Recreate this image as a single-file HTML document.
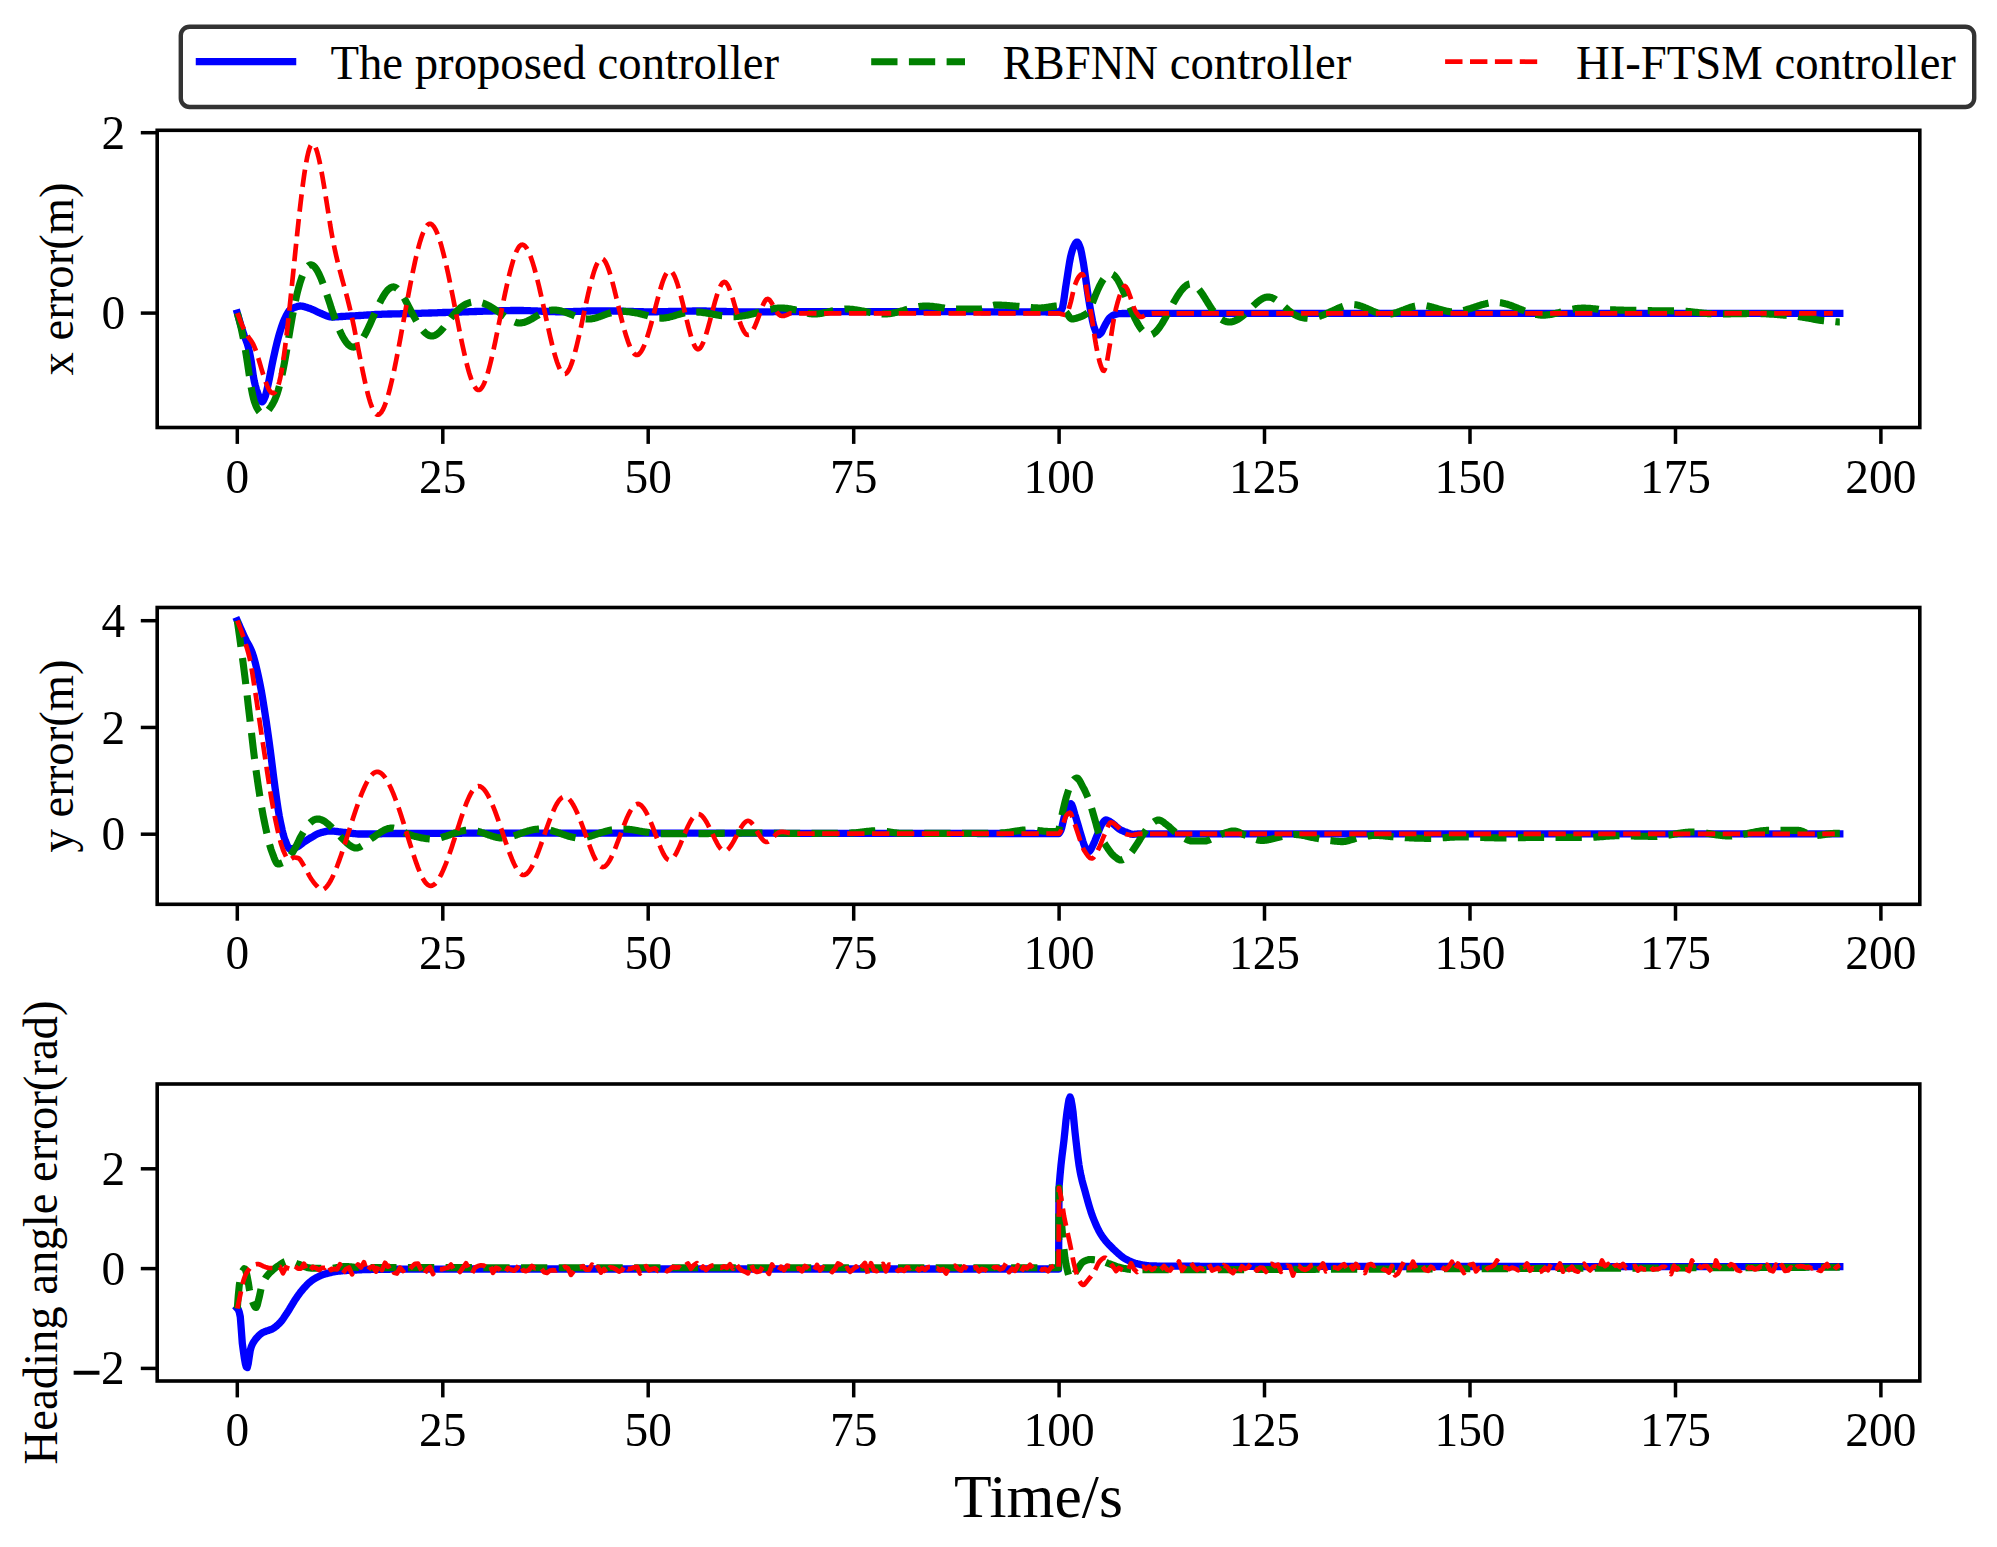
<!DOCTYPE html>
<html lang="en"><head><meta charset="utf-8"><title>Tracking errors</title>
<style>
html,body{margin:0;padding:0;background:#fff}
svg{display:block}
text{font-family:"Liberation Serif","Times New Roman",serif;fill:#000}
.t{font-size:47.4px}
.y{font-size:46.7px}
.mn{font-size:53px;stroke:#000;stroke-width:1.2}
.xl{font-size:61.6px}
.b{fill:none;stroke:#0000ff;stroke-width:7.3;stroke-linejoin:round;stroke-linecap:square}
.g{fill:none;stroke:#008000;stroke-width:7.1;stroke-linejoin:round;stroke-dasharray:26.3 11.4}
.r{fill:none;stroke:#ff0000;stroke-width:4.7;stroke-linejoin:round;stroke-dasharray:17.4 7.5}
.sp{fill:none;stroke:#000;stroke-width:3.6;stroke-linejoin:miter}
.tk{stroke:#000;stroke-width:3.5}
</style></head>
<body>
<svg width="1997" height="1547" viewBox="0 0 1997 1547">
<rect width="1997" height="1547" fill="#fff"/>
<defs>
<clipPath id="c0"><rect x="157.2" y="130.3" width="1762.6" height="297.2"/></clipPath>
<clipPath id="c1"><rect x="157.2" y="607.5" width="1762.6" height="296.8"/></clipPath>
<clipPath id="c2"><rect x="157.2" y="1084.0" width="1762.6" height="297.0"/></clipPath>
</defs>
<g id="ax0">
<g clip-path="url(#c0)">
<path class="b" d="M237.3 313.1L238.3 316.6L239.3 320.1L240.3 323.4L241.3 326.7L242.3 329.8L243.3 332.9L244.3 335.8L245.3 338.5L246.3 341.0L247.3 343.7L248.3 347.1L249.3 351.3L250.3 356.2L251.3 361.7L252.3 368.7L253.3 375.9L254.3 381.3L255.3 385.4L256.3 389.0L257.3 392.1L258.3 394.7L259.3 397.4L260.3 399.9L261.3 401.6L262.3 401.9L263.3 400.8L264.3 398.7L265.3 396.3L266.3 392.7L267.3 388.3L268.3 383.8L269.3 379.0L270.3 373.8L271.3 368.6L272.3 363.5L273.3 358.8L274.3 354.3L275.3 349.8L276.3 345.5L277.3 341.4L278.3 337.6L279.3 334.1L280.3 330.8L281.3 327.7L282.3 324.8L283.3 322.0L284.3 319.6L285.3 317.5L286.3 315.5L287.3 313.6L288.3 312.0L289.2 310.7L290.2 309.8L291.2 309.1L292.2 308.5L293.2 308.0L294.2 307.6L295.2 307.3L296.2 306.9L297.2 306.6L298.2 306.3L299.2 306.1L300.2 306.0L301.2 306.1L302.2 306.2L303.2 306.4L304.2 306.6L305.2 306.9L306.2 307.2L307.2 307.6L308.2 307.9L309.2 308.2L310.2 308.6L311.2 308.9L312.2 309.4L313.2 309.8L314.2 310.3L315.2 310.8L316.2 311.3L317.2 311.8L318.2 312.2L319.2 312.7L320.2 313.1L321.2 313.5L322.2 313.9L323.2 314.4L324.2 314.8L325.2 315.3L326.2 315.7L327.2 316.0L328.2 316.4L329.2 316.6L330.2 316.8L331.2 317.0L332.2 317.0L333.2 317.0L334.2 317.0L335.2 316.9L336.2 316.9L337.2 316.8L338.2 316.8L339.2 316.7L340.2 316.6L341.2 316.5L342.2 316.5L343.2 316.4L344.2 316.3L345.2 316.3L346.2 316.2L347.2 316.2L348.2 316.1L349.2 316.1L350.2 316.0L351.2 316.0L352.2 315.9L353.2 315.9L354.2 315.8L355.2 315.8L356.2 315.7L357.2 315.7L358.2 315.6L359.2 315.5L360.2 315.5L361.2 315.4L362.2 315.4L363.2 315.3L364.2 315.2L365.2 315.2L366.2 315.1L367.2 315.0L368.2 315.0L369.2 314.9L370.2 314.8L371.2 314.8L372.2 314.7L373.2 314.6L374.2 314.6L375.2 314.5L376.2 314.5L377.2 314.4L378.2 314.4L379.2 314.3L380.2 314.3L381.2 314.3L382.2 314.2L383.2 314.2L384.2 314.2L385.2 314.1L386.2 314.1L387.2 314.1L388.2 314.0L389.2 314.0L390.2 314.0L391.2 314.0L392.1 313.9L393.1 313.9L394.1 313.9L395.1 313.9L396.1 313.8L397.1 313.8L398.1 313.8L399.1 313.8L400.1 313.8L401.1 313.7L402.1 313.7L403.1 313.7L404.1 313.7L405.1 313.6L406.1 313.6L407.1 313.6L408.1 313.6L409.1 313.6L410.1 313.5L411.1 313.5L412.1 313.5L413.1 313.5L414.1 313.5L415.1 313.4L416.1 313.4L417.1 313.4L418.1 313.4L419.1 313.3L420.1 313.3L421.1 313.3L422.1 313.2L423.1 313.2L424.1 313.2L425.1 313.1L426.1 313.1L427.1 313.1L428.1 313.1L429.1 313.0L430.1 313.0L431.1 313.0L432.1 312.9L433.1 312.9L434.1 312.9L435.1 312.8L436.1 312.8L437.1 312.8L438.1 312.7L439.1 312.7L440.1 312.6L441.1 312.6L442.1 312.6L443.1 312.5L444.1 312.5L445.1 312.5L446.1 312.4L447.1 312.4L448.1 312.4L449.1 312.3L450.1 312.3L451.1 312.3L452.1 312.2L453.1 312.2L454.1 312.2L455.1 312.1L456.1 312.1L457.1 312.1L458.1 312.1L459.1 312.0L460.1 312.0L461.1 312.0L462.1 311.9L463.1 311.9L464.1 311.9L465.1 311.8L466.1 311.8L467.1 311.8L468.1 311.8L469.1 311.7L470.1 311.7L471.1 311.7L472.1 311.6L473.1 311.6L474.1 311.6L475.1 311.5L476.1 311.5L477.1 311.4L478.1 311.4L479.1 311.4L480.1 311.3L481.1 311.3L482.1 311.3L483.1 311.2L484.1 311.2L485.1 311.2L486.1 311.1L487.1 311.1L488.1 311.1L489.1 311.1L490.1 311.0L491.1 311.0L492.1 311.0L493.1 310.9L494.1 310.9L495.0 310.9L496.0 310.8L497.0 310.8L498.0 310.8L499.0 310.8L500.0 310.7L501.0 310.7L502.0 310.7L503.0 310.7L504.0 310.7L505.0 310.6L506.0 310.6L507.0 310.6L508.0 310.6L509.0 310.6L510.0 310.6L511.0 310.5L512.0 310.5L513.0 310.5L514.0 310.5L515.0 310.5L516.0 310.5L517.0 310.5L518.0 310.5L519.0 310.5L520.0 310.5L521.0 310.5L522.0 310.5L523.0 310.5L524.0 310.6L525.0 310.6L526.0 310.6L527.0 310.6L528.0 310.7L529.0 310.7L530.0 310.7L531.0 310.8L532.0 310.8L533.0 310.9L534.0 310.9L535.0 310.9L536.0 311.0L537.0 311.0L538.0 311.1L539.0 311.1L540.0 311.2L541.0 311.2L542.0 311.3L543.0 311.3L544.0 311.4L545.0 311.4L546.0 311.4L547.0 311.5L548.0 311.5L549.0 311.6L550.0 311.6L551.0 311.6L552.0 311.7L553.0 311.7L554.0 311.7L555.0 311.7L556.0 311.8L557.0 311.8L558.0 311.8L559.0 311.8L560.0 311.8L561.0 311.8L562.0 311.8L563.0 311.8L564.0 311.8L565.0 311.8L566.0 311.7L567.0 311.7L568.0 311.7L569.0 311.7L570.0 311.6L571.0 311.6L572.0 311.6L573.0 311.6L574.0 311.5L575.0 311.5L576.0 311.4L577.0 311.4L578.0 311.4L579.0 311.3L580.0 311.3L581.0 311.3L582.0 311.2L583.0 311.2L584.0 311.2L585.0 311.1L586.0 311.1L587.0 311.0L588.0 311.0L589.0 311.0L590.0 311.0L591.0 310.9L592.0 310.9L593.0 310.9L594.0 310.9L595.0 310.8L596.0 310.8L597.0 310.8L597.9 310.8L598.9 310.8L599.9 310.8L600.9 310.8L601.9 310.8L602.9 310.8L603.9 310.8L604.9 310.8L605.9 310.8L606.9 310.9L607.9 310.9L608.9 310.9L609.9 310.9L610.9 310.9L611.9 310.9L612.9 311.0L613.9 311.0L614.9 311.0L615.9 311.0L616.9 311.1L617.9 311.1L618.9 311.1L619.9 311.1L620.9 311.2L621.9 311.2L622.9 311.2L623.9 311.3L624.9 311.3L625.9 311.3L626.9 311.4L627.9 311.4L628.9 311.4L629.9 311.4L630.9 311.5L631.9 311.5L632.9 311.5L633.9 311.6L634.9 311.6L635.9 311.6L636.9 311.6L637.9 311.7L638.9 311.7L639.9 311.7L640.9 311.7L641.9 311.7L642.9 311.7L643.9 311.8L644.9 311.8L645.9 311.8L646.9 311.8L647.9 311.8L648.9 311.8L649.9 311.8L650.9 311.8L651.9 311.8L652.9 311.8L653.9 311.8L654.9 311.8L655.9 311.8L656.9 311.8L657.9 311.7L658.9 311.7L659.9 311.7L660.9 311.7L661.9 311.7L662.9 311.7L663.9 311.6L664.9 311.6L665.9 311.6L666.9 311.6L667.9 311.6L668.9 311.5L669.9 311.5L670.9 311.5L671.9 311.5L672.9 311.5L673.9 311.4L674.9 311.4L675.9 311.4L676.9 311.4L677.9 311.3L678.9 311.3L679.9 311.3L680.9 311.3L681.9 311.2L682.9 311.2L683.9 311.2L684.9 311.2L685.9 311.2L686.9 311.1L687.9 311.1L688.9 311.1L689.9 311.1L690.9 311.1L691.9 311.1L692.9 311.0L693.9 311.0L694.9 311.0L695.9 311.0L696.9 311.0L697.9 311.0L698.9 311.0L699.8 311.0L700.8 311.0L701.8 311.0L702.8 311.0L703.8 311.0L704.8 311.0L705.8 311.0L706.8 311.1L707.8 311.1L708.8 311.1L709.8 311.1L710.8 311.1L711.8 311.1L712.8 311.2L713.8 311.2L714.8 311.2L715.8 311.2L716.8 311.3L717.8 311.3L718.8 311.3L719.8 311.3L720.8 311.4L721.8 311.4L722.8 311.4L723.8 311.5L724.8 311.5L725.8 311.5L726.8 311.6L727.8 311.6L728.8 311.6L729.8 311.6L730.8 311.7L731.8 311.7L732.8 311.7L733.8 311.8L734.8 311.8L735.8 311.8L736.8 311.8L737.8 311.9L738.8 311.9L739.8 311.9L740.8 311.9L741.8 311.9L742.8 311.9L743.8 312.0L744.8 312.0L745.8 312.0L746.8 312.0L747.8 312.0L748.8 312.0L749.8 312.0L750.8 312.0L751.8 312.0L752.8 312.0L753.8 312.0L754.8 312.0L755.8 312.0L756.8 312.0L757.8 312.0L758.8 312.0L759.8 311.9L760.8 311.9L761.8 311.9L762.8 311.9L763.8 311.9L764.8 311.9L765.8 311.9L766.8 311.8L767.8 311.8L768.8 311.8L769.8 311.8L770.8 311.8L771.8 311.8L772.8 311.8L773.8 311.7L774.8 311.7L775.8 311.7L776.8 311.7L777.8 311.7L778.8 311.7L779.8 311.7L780.8 311.7L781.8 311.6L782.8 311.6L783.8 311.6L784.8 311.6L785.8 311.6L786.8 311.6L787.8 311.6L788.8 311.6L789.8 311.6L790.8 311.6L791.8 311.6L792.8 311.6L793.8 311.6L794.8 311.6L795.8 311.6L796.8 311.6L797.8 311.6L798.8 311.6L799.8 311.6L800.8 311.6L801.8 311.6L802.7 311.6L803.7 311.6L804.7 311.6L805.7 311.6L806.7 311.6L807.7 311.6L808.7 311.6L809.7 311.6L810.7 311.6L811.7 311.6L812.7 311.6L813.7 311.6L814.7 311.6L815.7 311.6L816.7 311.6L817.7 311.6L818.7 311.6L819.7 311.6L820.7 311.6L821.7 311.6L822.7 311.6L823.7 311.6L824.7 311.6L825.7 311.6L826.7 311.6L827.7 311.6L828.7 311.6L829.7 311.6L830.7 311.6L831.7 311.6L832.7 311.6L833.7 311.6L834.7 311.6L835.7 311.6L836.7 311.6L837.7 311.6L838.7 311.6L839.7 311.6L840.7 311.6L841.7 311.6L842.7 311.6L843.7 311.6L844.7 311.6L845.7 311.6L846.7 311.6L847.7 311.6L848.7 311.6L849.7 311.6L850.7 311.6L851.7 311.6L852.7 311.6L853.7 311.6L854.7 311.6L855.7 311.6L856.7 311.6L857.7 311.6L858.7 311.6L859.7 311.6L860.7 311.6L861.7 311.6L862.7 311.6L863.7 311.6L864.7 311.6L865.7 311.6L866.7 311.6L867.7 311.6L868.7 311.6L869.7 311.6L870.7 311.6L871.7 311.6L872.7 311.6L873.7 311.6L874.7 311.6L875.7 311.6L876.7 311.6L877.7 311.6L878.7 311.6L879.7 311.6L880.7 311.6L881.7 311.6L882.7 311.6L883.7 311.6L884.7 311.6L885.7 311.6L886.7 311.6L887.7 311.6L888.7 311.6L889.7 311.6L890.7 311.6L891.7 311.6L892.7 311.6L893.7 311.6L894.7 311.6L895.7 311.6L896.7 311.6L897.7 311.6L898.7 311.6L899.7 311.6L900.7 311.6L901.7 311.6L902.7 311.6L903.7 311.6L904.7 311.6L905.6 311.6L906.6 311.6L907.6 311.6L908.6 311.6L909.6 311.6L910.6 311.6L911.6 311.6L912.6 311.6L913.6 311.6L914.6 311.6L915.6 311.6L916.6 311.6L917.6 311.6L918.6 311.6L919.6 311.6L920.6 311.6L921.6 311.6L922.6 311.6L923.6 311.6L924.6 311.6L925.6 311.6L926.6 311.6L927.6 311.6L928.6 311.6L929.6 311.6L930.6 311.6L931.6 311.6L932.6 311.6L933.6 311.6L934.6 311.6L935.6 311.6L936.6 311.6L937.6 311.6L938.6 311.6L939.6 311.6L940.6 311.6L941.6 311.6L942.6 311.7L943.6 311.7L944.6 311.7L945.6 311.7L946.6 311.7L947.6 311.7L948.6 311.7L949.6 311.7L950.6 311.7L951.6 311.7L952.6 311.7L953.6 311.7L954.6 311.7L955.6 311.7L956.6 311.7L957.6 311.7L958.6 311.7L959.6 311.7L960.6 311.7L961.6 311.7L962.6 311.7L963.6 311.7L964.6 311.7L965.6 311.7L966.6 311.7L967.6 311.7L968.6 311.7L969.6 311.7L970.6 311.7L971.6 311.7L972.6 311.7L973.6 311.7L974.6 311.7L975.6 311.7L976.6 311.7L977.6 311.7L978.6 311.7L979.6 311.7L980.6 311.7L981.6 311.8L982.6 311.8L983.6 311.8L984.6 311.8L985.6 311.8L986.6 311.8L987.6 311.8L988.6 311.8L989.6 311.8L990.6 311.8L991.6 311.8L992.6 311.8L993.6 311.8L994.6 311.8L995.6 311.8L996.6 311.8L997.6 311.8L998.6 311.8L999.6 311.8L1000.6 311.8L1001.6 311.8L1002.6 311.8L1003.6 311.8L1004.6 311.8L1005.6 311.8L1006.6 311.8L1007.6 311.8L1008.5 311.8L1009.5 311.8L1010.5 311.8L1011.5 311.8L1012.5 311.8L1013.5 311.8L1014.5 311.8L1015.5 311.8L1016.5 311.8L1017.5 311.9L1018.5 311.9L1019.5 311.9L1020.5 311.9L1021.5 311.9L1022.5 311.9L1023.5 311.9L1024.5 311.9L1025.5 311.9L1026.5 311.9L1027.5 311.9L1028.5 311.9L1029.5 311.9L1030.5 311.9L1031.5 311.9L1032.5 311.9L1033.5 311.9L1034.5 311.9L1035.5 311.9L1036.5 311.9L1037.5 311.9L1038.5 311.9L1039.5 311.9L1040.5 311.9L1041.5 311.9L1042.5 311.9L1043.5 311.9L1044.5 311.9L1045.5 311.9L1046.5 312.0L1047.5 312.0L1048.5 312.0L1049.5 312.0L1050.5 312.0L1051.5 312.0L1052.5 312.0L1053.5 312.0L1054.5 312.0L1055.5 312.0L1056.5 312.0L1057.5 312.0L1058.5 312.0L1059.5 312.0L1060.5 311.4L1061.5 309.9L1062.5 307.6L1063.5 302.4L1064.5 295.5L1065.5 288.3L1066.5 281.9L1067.5 275.4L1068.5 268.7L1069.5 262.5L1070.5 257.2L1071.5 253.1L1072.5 249.8L1073.5 247.1L1074.5 245.1L1075.5 243.3L1076.5 242.2L1077.5 242.2L1078.5 243.5L1079.5 245.7L1080.5 248.4L1081.5 252.8L1082.5 258.1L1083.5 263.7L1084.5 270.2L1085.5 277.3L1086.5 284.5L1087.5 291.6L1088.5 298.0L1089.5 304.2L1090.5 310.1L1091.5 315.5L1092.5 320.8L1093.5 325.2L1094.5 328.3L1095.5 331.1L1096.5 333.4L1097.5 334.8L1098.5 334.9L1099.5 334.4L1100.5 333.5L1101.5 332.4L1102.5 330.4L1103.5 328.1L1104.5 326.2L1105.5 324.3L1106.5 322.5L1107.5 320.8L1108.5 319.3L1109.5 318.0L1110.5 317.1L1111.5 316.3L1112.5 315.7L1113.5 315.1L1114.5 314.7L1115.5 314.4L1116.4 314.1L1117.4 313.9L1118.4 313.7L1119.4 313.6L1120.4 313.6L1121.4 313.6L1122.4 313.5L1123.4 313.5L1124.4 313.5L1125.4 313.5L1126.4 313.5L1127.4 313.5L1128.4 313.5L1129.4 313.5L1130.4 313.4L1131.4 313.4L1132.4 313.4L1133.4 313.4L1134.4 313.4L1135.4 313.4L1136.4 313.4L1137.4 313.4L1138.4 313.4L1139.4 313.4L1140.4 313.4L1141.4 313.4L1142.4 313.4L1143.4 313.4L1144.4 313.4L1145.4 313.4L1146.4 313.4L1147.4 313.4L1148.4 313.4L1149.4 313.4L1150.4 313.4L1151.4 313.4L1152.4 313.4L1153.4 313.4L1154.4 313.4L1155.4 313.4L1156.4 313.4L1157.4 313.4L1158.4 313.4L1159.4 313.4L1160.4 313.4L1161.4 313.4L1162.4 313.4L1163.4 313.4L1164.4 313.4L1165.4 313.4L1166.4 313.4L1167.4 313.4L1168.4 313.4L1169.4 313.4L1170.4 313.4L1171.4 313.4L1172.4 313.4L1173.4 313.4L1174.4 313.4L1175.4 313.4L1176.4 313.4L1177.4 313.4L1178.4 313.4L1179.4 313.4L1180.4 313.3L1181.4 313.3L1182.4 313.3L1183.4 313.3L1184.4 313.3L1185.4 313.3L1186.4 313.3L1187.4 313.3L1188.4 313.3L1189.4 313.3L1190.4 313.3L1191.4 313.3L1192.4 313.3L1193.4 313.3L1194.4 313.3L1195.4 313.3L1196.4 313.3L1197.4 313.3L1198.4 313.3L1199.4 313.3L1200.4 313.3L1201.4 313.3L1202.4 313.3L1203.4 313.3L1204.4 313.3L1205.4 313.3L1206.4 313.3L1207.4 313.3L1208.4 313.3L1209.4 313.3L1210.4 313.3L1211.4 313.3L1212.4 313.3L1213.4 313.3L1214.4 313.3L1215.4 313.3L1216.4 313.3L1217.4 313.3L1218.4 313.3L1219.4 313.3L1220.4 313.3L1221.4 313.3L1222.4 313.3L1223.4 313.3L1224.4 313.3L1225.4 313.3L1226.4 313.3L1227.4 313.3L1228.4 313.3L1229.3 313.3L1230.3 313.3L1231.3 313.3L1232.3 313.3L1233.3 313.3L1234.3 313.3L1235.3 313.3L1236.3 313.3L1237.3 313.3L1238.3 313.3L1239.3 313.3L1240.3 313.3L1241.3 313.3L1242.3 313.3L1243.3 313.3L1244.3 313.3L1245.3 313.3L1246.3 313.3L1247.3 313.3L1248.3 313.3L1249.3 313.3L1250.3 313.3L1251.3 313.3L1252.3 313.3L1253.3 313.3L1254.3 313.3L1255.3 313.3L1256.3 313.3L1257.3 313.3L1258.3 313.3L1259.3 313.3L1260.3 313.3L1261.3 313.3L1262.3 313.3L1263.3 313.3L1264.3 313.3L1265.3 313.3L1266.3 313.3L1267.3 313.3L1268.3 313.3L1269.3 313.3L1270.3 313.3L1271.3 313.3L1272.3 313.3L1273.3 313.3L1274.3 313.3L1275.3 313.3L1276.3 313.3L1277.3 313.3L1278.3 313.3L1279.3 313.3L1280.3 313.3L1281.3 313.3L1282.3 313.3L1283.3 313.3L1284.3 313.3L1285.3 313.3L1286.3 313.3L1287.3 313.3L1288.3 313.3L1289.3 313.3L1290.3 313.3L1291.3 313.3L1292.3 313.3L1293.3 313.3L1294.3 313.3L1295.3 313.3L1296.3 313.3L1297.3 313.3L1298.3 313.3L1299.3 313.3L1300.3 313.3L1301.3 313.3L1302.3 313.3L1303.3 313.3L1304.3 313.3L1305.3 313.3L1306.3 313.3L1307.3 313.3L1308.3 313.3L1309.3 313.3L1310.3 313.3L1311.3 313.3L1312.3 313.3L1313.3 313.3L1314.3 313.3L1315.3 313.3L1316.3 313.3L1317.3 313.3L1318.3 313.3L1319.3 313.3L1320.3 313.3L1321.3 313.3L1322.3 313.3L1323.3 313.3L1324.3 313.3L1325.3 313.3L1326.3 313.3L1327.3 313.3L1328.3 313.3L1329.3 313.3L1330.3 313.3L1331.3 313.3L1332.3 313.3L1333.3 313.3L1334.3 313.3L1335.3 313.3L1336.3 313.3L1337.3 313.3L1338.3 313.3L1339.3 313.3L1340.3 313.3L1341.3 313.3L1342.2 313.3L1343.2 313.3L1344.2 313.3L1345.2 313.3L1346.2 313.3L1347.2 313.3L1348.2 313.3L1349.2 313.3L1350.2 313.3L1351.2 313.3L1352.2 313.3L1353.2 313.3L1354.2 313.3L1355.2 313.3L1356.2 313.3L1357.2 313.3L1358.2 313.3L1359.2 313.3L1360.2 313.3L1361.2 313.3L1362.2 313.3L1363.2 313.3L1364.2 313.3L1365.2 313.3L1366.2 313.3L1367.2 313.3L1368.2 313.3L1369.2 313.3L1370.2 313.3L1371.2 313.3L1372.2 313.3L1373.2 313.3L1374.2 313.3L1375.2 313.3L1376.2 313.3L1377.2 313.3L1378.2 313.3L1379.2 313.3L1380.2 313.3L1381.2 313.3L1382.2 313.3L1383.2 313.3L1384.2 313.3L1385.2 313.3L1386.2 313.3L1387.2 313.3L1388.2 313.3L1389.2 313.3L1390.2 313.3L1391.2 313.3L1392.2 313.3L1393.2 313.3L1394.2 313.3L1395.2 313.3L1396.2 313.3L1397.2 313.3L1398.2 313.3L1399.2 313.3L1400.2 313.3L1401.2 313.3L1402.2 313.3L1403.2 313.3L1404.2 313.3L1405.2 313.3L1406.2 313.3L1407.2 313.3L1408.2 313.3L1409.2 313.3L1410.2 313.3L1411.2 313.3L1412.2 313.3L1413.2 313.3L1414.2 313.3L1415.2 313.3L1416.2 313.3L1417.2 313.3L1418.2 313.3L1419.2 313.3L1420.2 313.3L1421.2 313.3L1422.2 313.3L1423.2 313.3L1424.2 313.3L1425.2 313.3L1426.2 313.3L1427.2 313.3L1428.2 313.3L1429.2 313.3L1430.2 313.3L1431.2 313.3L1432.2 313.3L1433.2 313.3L1434.2 313.3L1435.2 313.3L1436.2 313.3L1437.2 313.3L1438.2 313.3L1439.2 313.3L1440.2 313.3L1441.2 313.3L1442.2 313.3L1443.2 313.3L1444.2 313.3L1445.2 313.3L1446.2 313.3L1447.2 313.3L1448.2 313.3L1449.2 313.3L1450.2 313.3L1451.2 313.3L1452.2 313.3L1453.2 313.3L1454.2 313.3L1455.2 313.3L1456.1 313.3L1457.1 313.3L1458.1 313.3L1459.1 313.3L1460.1 313.3L1461.1 313.3L1462.1 313.3L1463.1 313.3L1464.1 313.3L1465.1 313.3L1466.1 313.3L1467.1 313.3L1468.1 313.3L1469.1 313.3L1470.1 313.3L1471.1 313.3L1472.1 313.3L1473.1 313.3L1474.1 313.3L1475.1 313.3L1476.1 313.3L1477.1 313.3L1478.1 313.3L1479.1 313.3L1480.1 313.3L1481.1 313.3L1482.1 313.3L1483.1 313.3L1484.1 313.3L1485.1 313.3L1486.1 313.3L1487.1 313.3L1488.1 313.3L1489.1 313.3L1490.1 313.3L1491.1 313.3L1492.1 313.3L1493.1 313.3L1494.1 313.3L1495.1 313.3L1496.1 313.3L1497.1 313.3L1498.1 313.3L1499.1 313.3L1500.1 313.3L1501.1 313.3L1502.1 313.3L1503.1 313.3L1504.1 313.3L1505.1 313.3L1506.1 313.3L1507.1 313.3L1508.1 313.3L1509.1 313.3L1510.1 313.3L1511.1 313.3L1512.1 313.3L1513.1 313.3L1514.1 313.3L1515.1 313.3L1516.1 313.3L1517.1 313.3L1518.1 313.3L1519.1 313.3L1520.1 313.3L1521.1 313.3L1522.1 313.3L1523.1 313.3L1524.1 313.3L1525.1 313.3L1526.1 313.3L1527.1 313.3L1528.1 313.3L1529.1 313.3L1530.1 313.3L1531.1 313.3L1532.1 313.3L1533.1 313.3L1534.1 313.3L1535.1 313.3L1536.1 313.3L1537.1 313.3L1538.1 313.3L1539.1 313.3L1540.1 313.3L1541.1 313.3L1542.1 313.3L1543.1 313.3L1544.1 313.3L1545.1 313.3L1546.1 313.3L1547.1 313.3L1548.1 313.3L1549.1 313.3L1550.1 313.3L1551.1 313.3L1552.1 313.3L1553.1 313.3L1554.1 313.3L1555.1 313.3L1556.1 313.3L1557.1 313.3L1558.1 313.3L1559.1 313.3L1560.1 313.3L1561.1 313.3L1562.1 313.3L1563.1 313.3L1564.1 313.3L1565.1 313.3L1566.1 313.3L1567.1 313.3L1568.1 313.3L1569.0 313.3L1570.0 313.3L1571.0 313.3L1572.0 313.3L1573.0 313.3L1574.0 313.3L1575.0 313.3L1576.0 313.3L1577.0 313.3L1578.0 313.3L1579.0 313.3L1580.0 313.3L1581.0 313.3L1582.0 313.3L1583.0 313.3L1584.0 313.3L1585.0 313.3L1586.0 313.3L1587.0 313.3L1588.0 313.3L1589.0 313.3L1590.0 313.3L1591.0 313.3L1592.0 313.3L1593.0 313.3L1594.0 313.3L1595.0 313.3L1596.0 313.3L1597.0 313.3L1598.0 313.3L1599.0 313.3L1600.0 313.3L1601.0 313.3L1602.0 313.3L1603.0 313.3L1604.0 313.3L1605.0 313.3L1606.0 313.3L1607.0 313.3L1608.0 313.3L1609.0 313.3L1610.0 313.3L1611.0 313.3L1612.0 313.3L1613.0 313.3L1614.0 313.3L1615.0 313.3L1616.0 313.3L1617.0 313.3L1618.0 313.3L1619.0 313.3L1620.0 313.3L1621.0 313.3L1622.0 313.3L1623.0 313.3L1624.0 313.3L1625.0 313.3L1626.0 313.3L1627.0 313.3L1628.0 313.3L1629.0 313.3L1630.0 313.3L1631.0 313.3L1632.0 313.3L1633.0 313.3L1634.0 313.3L1635.0 313.3L1636.0 313.3L1637.0 313.3L1638.0 313.3L1639.0 313.3L1640.0 313.3L1641.0 313.3L1642.0 313.3L1643.0 313.3L1644.0 313.3L1645.0 313.3L1646.0 313.3L1647.0 313.3L1648.0 313.3L1649.0 313.3L1650.0 313.3L1651.0 313.3L1652.0 313.3L1653.0 313.3L1654.0 313.3L1655.0 313.3L1656.0 313.3L1657.0 313.3L1658.0 313.3L1659.0 313.3L1660.0 313.3L1661.0 313.3L1662.0 313.3L1663.0 313.3L1664.0 313.3L1665.0 313.3L1666.0 313.3L1667.0 313.3L1668.0 313.3L1669.0 313.3L1670.0 313.3L1671.0 313.3L1672.0 313.3L1673.0 313.3L1674.0 313.3L1675.0 313.3L1676.0 313.3L1677.0 313.3L1678.0 313.3L1679.0 313.3L1680.0 313.3L1681.0 313.3L1681.9 313.3L1682.9 313.3L1683.9 313.3L1684.9 313.3L1685.9 313.3L1686.9 313.3L1687.9 313.3L1688.9 313.3L1689.9 313.3L1690.9 313.3L1691.9 313.3L1692.9 313.3L1693.9 313.3L1694.9 313.3L1695.9 313.3L1696.9 313.3L1697.9 313.3L1698.9 313.3L1699.9 313.3L1700.9 313.3L1701.9 313.3L1702.9 313.3L1703.9 313.3L1704.9 313.3L1705.9 313.3L1706.9 313.3L1707.9 313.3L1708.9 313.3L1709.9 313.3L1710.9 313.3L1711.9 313.3L1712.9 313.3L1713.9 313.3L1714.9 313.3L1715.9 313.3L1716.9 313.3L1717.9 313.3L1718.9 313.3L1719.9 313.3L1720.9 313.3L1721.9 313.3L1722.9 313.3L1723.9 313.3L1724.9 313.3L1725.9 313.3L1726.9 313.3L1727.9 313.3L1728.9 313.3L1729.9 313.3L1730.9 313.3L1731.9 313.3L1732.9 313.3L1733.9 313.3L1734.9 313.3L1735.9 313.3L1736.9 313.3L1737.9 313.3L1738.9 313.3L1739.9 313.3L1740.9 313.3L1741.9 313.3L1742.9 313.3L1743.9 313.3L1744.9 313.3L1745.9 313.3L1746.9 313.3L1747.9 313.3L1748.9 313.3L1749.9 313.3L1750.9 313.3L1751.9 313.3L1752.9 313.3L1753.9 313.3L1754.9 313.3L1755.9 313.3L1756.9 313.3L1757.9 313.3L1758.9 313.3L1759.9 313.3L1760.9 313.3L1761.9 313.3L1762.9 313.3L1763.9 313.3L1764.9 313.3L1765.9 313.3L1766.9 313.3L1767.9 313.3L1768.9 313.3L1769.9 313.3L1770.9 313.3L1771.9 313.3L1772.9 313.3L1773.9 313.3L1774.9 313.3L1775.9 313.3L1776.9 313.3L1777.9 313.3L1778.9 313.3L1779.9 313.3L1780.9 313.3L1781.9 313.3L1782.9 313.3L1783.9 313.3L1784.9 313.3L1785.9 313.3L1786.9 313.3L1787.9 313.3L1788.9 313.3L1789.9 313.3L1790.9 313.3L1791.9 313.3L1792.9 313.3L1793.9 313.3L1794.8 313.3L1795.8 313.3L1796.8 313.3L1797.8 313.3L1798.8 313.3L1799.8 313.3L1800.8 313.3L1801.8 313.3L1802.8 313.3L1803.8 313.3L1804.8 313.3L1805.8 313.3L1806.8 313.3L1807.8 313.3L1808.8 313.3L1809.8 313.3L1810.8 313.3L1811.8 313.3L1812.8 313.3L1813.8 313.3L1814.8 313.3L1815.8 313.3L1816.8 313.3L1817.8 313.3L1818.8 313.3L1819.8 313.3L1820.8 313.3L1821.8 313.3L1822.8 313.3L1823.8 313.3L1824.8 313.3L1825.8 313.3L1826.8 313.3L1827.8 313.3L1828.8 313.3L1829.8 313.3L1830.8 313.3L1831.8 313.3L1832.8 313.3L1833.8 313.3L1834.8 313.3L1835.8 313.3L1836.8 313.3L1837.8 313.3L1838.8 313.3L1839.8 313.3"/>
<path class="g" d="M237.3 313.1L238.3 316.8L239.3 320.6L240.3 324.6L241.3 328.8L242.3 333.4L243.3 338.3L244.3 343.7L245.3 349.4L246.3 355.5L247.3 362.0L248.3 368.7L249.3 375.5L250.3 382.1L251.3 388.2L252.3 393.4L253.3 397.8L254.3 401.3L255.3 404.2L256.3 406.6L257.3 408.5L258.3 410.2L259.3 411.6L260.3 412.7L261.3 413.5L262.3 413.9L263.3 414.0L264.3 413.8L265.3 413.2L266.3 412.5L267.3 411.5L268.3 410.3L269.3 409.0L270.3 407.6L271.3 406.1L272.3 404.5L273.3 402.7L274.3 400.8L275.3 398.5L276.3 396.0L277.3 393.2L278.3 390.0L279.3 386.4L280.3 382.5L281.3 378.2L282.3 373.7L283.3 368.8L284.3 363.5L285.3 358.0L286.3 352.3L287.3 346.4L288.3 340.4L289.3 334.4L290.3 328.5L291.3 322.7L292.3 317.0L293.3 311.6L294.3 306.4L295.3 301.6L296.3 297.0L297.3 292.8L298.3 288.8L299.3 285.2L300.3 281.8L301.3 278.8L302.3 276.0L303.3 273.5L304.3 271.4L305.3 269.5L306.3 268.0L307.3 266.7L308.3 265.8L309.3 265.2L310.3 264.8L311.3 264.8L312.3 265.1L313.3 265.7L314.3 266.6L315.3 267.7L316.3 269.1L317.3 270.8L318.3 272.6L319.3 274.6L320.3 276.9L321.3 279.2L322.3 281.8L323.3 284.4L324.3 287.2L325.3 290.0L326.3 292.9L327.3 295.9L328.3 298.9L329.3 301.9L330.3 304.9L331.2 307.9L332.2 310.8L333.2 313.7L334.2 316.5L335.2 319.3L336.2 321.9L337.2 324.5L338.2 327.0L339.2 329.3L340.2 331.6L341.2 333.7L342.2 335.7L343.2 337.5L344.2 339.2L345.2 340.8L346.2 342.2L347.2 343.4L348.2 344.5L349.2 345.4L350.2 346.1L351.2 346.6L352.2 346.9L353.2 347.1L354.2 347.0L355.2 346.6L356.2 346.1L357.2 345.4L358.2 344.5L359.2 343.4L360.2 342.2L361.2 340.8L362.2 339.3L363.2 337.7L364.2 335.9L365.2 334.1L366.2 332.1L367.2 330.1L368.2 328.0L369.2 325.9L370.2 323.7L371.2 321.5L372.2 319.2L373.2 317.0L374.2 314.7L375.2 312.5L376.2 310.3L377.2 308.1L378.2 306.0L379.2 303.9L380.2 301.9L381.2 299.9L382.2 298.1L383.2 296.4L384.2 294.7L385.2 293.2L386.2 291.9L387.2 290.6L388.2 289.6L389.2 288.7L390.2 287.9L391.2 287.4L392.2 287.1L393.2 286.9L394.2 287.0L395.2 287.4L396.2 287.9L397.2 288.6L398.2 289.6L399.2 290.7L400.2 291.9L401.2 293.3L402.2 294.8L403.2 296.4L404.2 298.1L405.2 299.9L406.2 301.8L407.2 303.7L408.2 305.6L409.2 307.6L410.2 309.5L411.2 311.5L412.2 313.4L413.2 315.3L414.2 317.1L415.2 318.9L416.2 320.7L417.2 322.4L418.2 324.0L419.2 325.5L420.2 327.0L421.2 328.3L422.2 329.6L423.2 330.8L424.2 331.9L425.2 332.8L426.2 333.7L427.2 334.4L428.2 335.0L429.2 335.5L430.2 335.8L431.2 336.0L432.2 336.0L433.2 335.9L434.2 335.6L435.2 335.2L436.2 334.6L437.2 334.0L438.2 333.2L439.2 332.3L440.2 331.4L441.2 330.3L442.2 329.2L443.2 328.1L444.2 326.8L445.2 325.6L446.2 324.3L447.2 323.0L448.2 321.6L449.2 320.3L450.2 319.0L451.2 317.7L452.2 316.4L453.2 315.1L454.2 313.9L455.2 312.8L456.2 311.7L457.2 310.7L458.2 309.7L459.2 308.8L460.2 307.9L461.2 307.1L462.2 306.4L463.2 305.7L464.2 305.1L465.2 304.5L466.2 304.0L467.2 303.6L468.2 303.2L469.2 302.8L470.2 302.5L471.2 302.3L472.2 302.1L473.2 302.0L474.2 301.9L475.2 301.8L476.2 301.9L477.2 301.9L478.2 302.0L479.2 302.2L480.2 302.4L481.2 302.6L482.2 302.9L483.2 303.2L484.2 303.6L485.2 304.0L486.2 304.5L487.2 304.9L488.2 305.4L489.2 305.9L490.2 306.5L491.2 307.1L492.2 307.7L493.2 308.3L494.2 309.0L495.2 309.6L496.2 310.3L497.2 311.0L498.2 311.7L499.2 312.4L500.2 313.1L501.2 313.8L502.2 314.6L503.2 315.3L504.2 316.0L505.2 316.7L506.2 317.4L507.2 318.1L508.2 318.7L509.2 319.3L510.2 319.9L511.2 320.5L512.2 321.0L513.2 321.4L514.2 321.8L515.2 322.2L516.2 322.5L517.2 322.7L518.2 322.9L519.1 323.0L520.1 323.0L521.1 322.9L522.1 322.8L523.1 322.6L524.1 322.4L525.1 322.0L526.1 321.7L527.1 321.3L528.1 320.8L529.1 320.3L530.1 319.8L531.1 319.2L532.1 318.7L533.1 318.1L534.1 317.5L535.1 316.9L536.1 316.3L537.1 315.7L538.1 315.1L539.1 314.5L540.1 314.0L541.1 313.4L542.1 312.9L543.1 312.5L544.1 312.1L545.1 311.7L546.1 311.3L547.1 311.0L548.1 310.7L549.1 310.5L550.1 310.3L551.1 310.2L552.1 310.1L553.1 310.0L554.1 310.0L555.1 310.0L556.1 310.1L557.1 310.2L558.1 310.4L559.1 310.5L560.1 310.7L561.1 311.0L562.1 311.3L563.1 311.6L564.1 311.9L565.1 312.2L566.1 312.5L567.1 312.9L568.1 313.3L569.1 313.7L570.1 314.0L571.1 314.4L572.1 314.8L573.1 315.2L574.1 315.6L575.1 316.0L576.1 316.3L577.1 316.7L578.1 317.0L579.1 317.4L580.1 317.7L581.1 317.9L582.1 318.2L583.1 318.4L584.1 318.6L585.1 318.8L586.1 318.9L587.1 319.0L588.1 319.0L589.1 319.0L590.1 319.0L591.1 318.9L592.1 318.8L593.1 318.6L594.1 318.4L595.1 318.1L596.1 317.8L597.1 317.5L598.1 317.2L599.1 316.9L600.1 316.5L601.1 316.1L602.1 315.8L603.1 315.4L604.1 315.0L605.1 314.6L606.1 314.3L607.1 313.9L608.1 313.6L609.1 313.3L610.1 313.0L611.1 312.7L612.1 312.5L613.1 312.3L614.1 312.1L615.1 311.9L616.1 311.8L617.1 311.6L618.1 311.5L619.1 311.5L620.1 311.4L621.1 311.4L622.1 311.4L623.1 311.4L624.1 311.4L625.1 311.4L626.1 311.5L627.1 311.6L628.1 311.7L629.1 311.8L630.1 311.9L631.1 312.0L632.1 312.2L633.1 312.4L634.1 312.5L635.1 312.7L636.1 312.9L637.1 313.1L638.1 313.3L639.1 313.5L640.1 313.8L641.1 314.0L642.1 314.3L643.1 314.5L644.1 314.8L645.1 315.0L646.1 315.3L647.1 315.5L648.1 315.8L649.1 316.1L650.1 316.3L651.1 316.6L652.1 316.8L653.1 317.0L654.1 317.2L655.1 317.4L656.1 317.6L657.1 317.7L658.1 317.9L659.1 318.0L660.1 318.0L661.1 318.1L662.1 318.1L663.1 318.1L664.1 318.0L665.1 317.9L666.1 317.8L667.1 317.6L668.1 317.4L669.1 317.2L670.1 316.9L671.1 316.6L672.1 316.4L673.1 316.1L674.1 315.8L675.1 315.5L676.1 315.2L677.1 314.9L678.1 314.6L679.1 314.3L680.1 314.0L681.1 313.7L682.1 313.5L683.1 313.2L684.1 313.0L685.1 312.8L686.1 312.7L687.1 312.5L688.1 312.4L689.1 312.2L690.1 312.1L691.1 312.1L692.1 312.0L693.1 312.0L694.1 311.9L695.1 311.9L696.1 312.0L697.1 312.0L698.1 312.1L699.1 312.1L700.1 312.2L701.1 312.3L702.1 312.4L703.1 312.6L704.1 312.7L705.1 312.8L706.1 313.0L707.0 313.1L708.0 313.3L709.0 313.5L710.0 313.7L711.0 313.8L712.0 314.0L713.0 314.2L714.0 314.4L715.0 314.5L716.0 314.7L717.0 314.9L718.0 315.1L719.0 315.2L720.0 315.4L721.0 315.5L722.0 315.7L723.0 315.8L724.0 316.0L725.0 316.1L726.0 316.2L727.0 316.3L728.0 316.4L729.0 316.5L730.0 316.5L731.0 316.6L732.0 316.6L733.0 316.6L734.0 316.6L735.0 316.6L736.0 316.5L737.0 316.5L738.0 316.4L739.0 316.3L740.0 316.2L741.0 316.1L742.0 316.0L743.0 315.8L744.0 315.7L745.0 315.5L746.0 315.3L747.0 315.2L748.0 315.0L749.0 314.7L750.0 314.5L751.0 314.3L752.0 314.1L753.0 313.8L754.0 313.6L755.0 313.3L756.0 313.1L757.0 312.8L758.0 312.5L759.0 312.3L760.0 312.0L761.0 311.7L762.0 311.4L763.0 311.2L764.0 310.9L765.0 310.6L766.0 310.4L767.0 310.1L768.0 309.9L769.0 309.6L770.0 309.4L771.0 309.2L772.0 309.0L773.0 308.8L774.0 308.6L775.0 308.4L776.0 308.3L777.0 308.2L778.0 308.1L779.0 308.0L780.0 308.0L781.0 308.0L782.0 308.0L783.0 308.0L784.0 308.1L785.0 308.2L786.0 308.3L787.0 308.4L788.0 308.5L789.0 308.7L790.0 308.8L791.0 309.0L792.0 309.2L793.0 309.4L794.0 309.6L795.0 309.8L796.0 310.1L797.0 310.3L798.0 310.5L799.0 310.8L800.0 311.0L801.0 311.3L802.0 311.6L803.0 312.0L804.0 312.3L805.0 312.6L806.0 312.8L807.0 313.1L808.0 313.3L809.0 313.5L810.0 313.7L811.0 313.8L812.0 313.9L813.0 314.0L814.0 314.0L815.0 314.0L816.0 313.9L817.0 313.9L818.0 313.8L819.0 313.7L820.0 313.5L821.0 313.4L822.0 313.2L823.0 313.0L824.0 312.8L825.0 312.6L826.0 312.4L827.0 312.2L828.0 312.0L829.0 311.7L830.0 311.5L831.0 311.3L832.0 311.0L833.0 310.8L834.0 310.6L835.0 310.4L836.0 310.2L837.0 310.0L838.0 309.8L839.0 309.6L840.0 309.5L841.0 309.3L842.0 309.2L843.0 309.1L844.0 309.1L845.0 309.0L846.0 309.0L847.0 309.0L848.0 309.0L849.0 309.1L850.0 309.2L851.0 309.2L852.0 309.3L853.0 309.4L854.0 309.6L855.0 309.7L856.0 309.9L857.0 310.0L858.0 310.2L859.0 310.4L860.0 310.5L861.0 310.7L862.0 310.9L863.0 311.1L864.0 311.3L865.0 311.5L866.0 311.7L867.0 311.9L868.0 312.1L869.0 312.3L870.0 312.5L871.0 312.6L872.0 312.8L873.0 313.0L874.0 313.1L875.0 313.3L876.0 313.4L877.0 313.6L878.0 313.7L879.0 313.8L880.0 313.8L881.0 313.9L882.0 314.0L883.0 314.0L884.0 314.0L885.0 314.0L886.0 313.9L887.0 313.9L888.0 313.8L889.0 313.7L890.0 313.6L891.0 313.4L892.0 313.2L893.0 313.1L894.0 312.9L895.0 312.6L896.0 312.4L897.0 312.2L898.0 311.9L899.0 311.7L900.0 311.4L901.0 311.1L902.0 310.9L903.0 310.6L904.0 310.3L905.0 310.0L906.0 309.7L907.0 309.4L908.0 309.1L909.0 308.9L910.0 308.6L911.0 308.3L912.0 308.1L913.0 307.8L914.0 307.6L915.0 307.4L916.0 307.1L917.0 306.9L918.0 306.8L919.0 306.6L920.0 306.4L921.0 306.3L922.0 306.2L923.0 306.1L924.0 306.1L925.0 306.0L926.0 306.0L927.0 306.0L928.0 306.0L929.0 306.1L930.0 306.2L931.0 306.2L932.0 306.3L933.0 306.4L934.0 306.6L935.0 306.7L936.0 306.8L937.0 307.0L938.0 307.1L939.0 307.3L940.0 307.4L941.0 307.6L942.0 307.7L943.0 307.9L944.0 308.0L945.0 308.2L946.0 308.3L947.0 308.4L948.0 308.6L949.0 308.7L950.0 308.8L951.0 308.8L952.0 308.9L953.0 309.0L954.0 309.0L955.0 309.0L956.0 309.0L957.0 309.0L958.0 309.0L959.0 309.0L960.0 309.0L961.0 309.0L962.0 309.0L963.0 309.0L964.0 309.0L965.0 309.0L966.0 309.0L967.0 309.0L968.0 309.0L969.0 309.0L970.0 309.0L971.0 309.0L972.0 309.0L973.0 309.0L974.0 309.0L975.0 309.0L976.0 309.0L977.0 309.0L978.0 309.0L979.0 309.0L980.0 309.0L981.0 309.0L982.0 308.8L983.0 308.6L984.0 308.4L985.0 308.1L986.0 307.7L987.0 307.4L988.0 307.0L989.0 306.6L990.0 306.3L991.0 305.9L992.0 305.6L993.0 305.4L994.0 305.2L995.0 305.0L996.0 305.0L997.0 305.0L998.0 305.0L999.0 305.0L1000.0 305.1L1001.0 305.1L1002.0 305.2L1003.0 305.2L1004.0 305.3L1005.0 305.3L1006.0 305.4L1007.0 305.5L1008.0 305.5L1009.0 305.6L1010.0 305.7L1011.0 305.8L1012.0 305.9L1013.0 306.0L1014.0 306.0L1015.0 306.1L1016.0 306.2L1017.0 306.3L1018.0 306.4L1019.0 306.4L1020.0 306.5L1021.0 306.6L1022.0 306.7L1023.0 306.7L1024.0 306.8L1025.0 306.9L1026.0 307.0L1027.0 307.1L1028.0 307.2L1029.0 307.3L1030.0 307.4L1031.0 307.5L1032.0 307.6L1033.0 307.7L1034.0 307.8L1035.0 307.8L1036.0 307.9L1037.0 307.9L1038.0 308.0L1039.0 308.0L1040.0 308.0L1041.0 308.0L1042.0 307.9L1043.0 307.9L1044.0 307.7L1045.0 307.6L1046.0 307.5L1047.0 307.3L1048.0 307.2L1049.0 307.0L1050.0 306.8L1051.0 306.7L1052.0 306.5L1053.0 306.4L1054.0 306.3L1055.0 306.1L1056.0 306.1L1057.0 306.0L1058.0 306.0L1059.0 306.2L1060.0 306.6L1061.0 307.3L1062.0 308.2L1063.0 309.1L1064.0 310.1L1065.0 311.0L1066.0 312.1L1067.0 313.5L1068.0 315.0L1069.0 316.5L1070.0 317.8L1071.0 318.7L1072.0 319.0L1073.0 319.0L1074.0 318.8L1075.0 318.6L1076.0 318.3L1077.0 318.0L1078.0 317.7L1079.0 317.3L1080.0 317.0L1081.0 316.6L1082.0 316.2L1083.0 315.7L1084.0 315.2L1085.0 314.6L1086.0 314.0L1087.0 313.4L1088.0 312.7L1089.0 312.0L1090.0 309.3L1091.0 306.7L1092.0 304.0L1093.0 301.4L1094.0 298.9L1095.0 296.4L1096.0 294.0L1097.0 291.6L1098.0 289.4L1099.0 287.2L1100.0 285.2L1101.0 283.3L1102.0 281.5L1103.0 279.9L1104.0 278.5L1105.0 277.2L1106.0 276.1L1107.0 275.2L1108.0 274.5L1109.0 274.0L1110.0 273.8L1111.0 273.7L1112.0 274.0L1113.0 274.5L1114.0 275.3L1115.0 276.3L1116.0 277.5L1117.0 278.9L1118.0 280.4L1119.0 282.2L1120.0 284.1L1121.0 286.1L1122.0 288.2L1123.0 290.5L1124.0 292.8L1125.0 295.1L1126.0 297.6L1127.0 300.0L1128.0 302.4L1129.0 304.9L1130.0 307.3L1131.0 309.7L1132.0 312.0L1133.0 314.2L1134.0 316.4L1135.0 318.5L1136.0 320.5L1137.0 322.4L1138.0 324.1L1139.0 325.8L1140.0 327.4L1141.0 328.8L1142.0 330.1L1143.0 331.2L1144.0 332.3L1145.0 333.1L1146.0 333.8L1147.0 334.4L1148.0 334.8L1149.0 335.0L1150.0 335.0L1151.0 334.8L1152.0 334.5L1153.0 334.0L1154.0 333.3L1155.0 332.5L1156.0 331.6L1157.0 330.5L1158.0 329.3L1159.0 328.0L1160.0 326.6L1161.0 325.1L1162.0 323.6L1163.0 321.9L1164.0 320.2L1165.0 318.5L1166.0 316.7L1167.0 314.8L1168.0 313.0L1169.0 311.1L1170.0 309.3L1171.0 307.4L1172.0 305.6L1173.0 303.7L1174.0 301.9L1175.0 300.2L1176.0 298.5L1177.0 296.8L1178.0 295.2L1179.0 293.7L1180.0 292.2L1181.0 290.9L1182.0 289.6L1183.0 288.5L1184.0 287.4L1185.0 286.5L1186.0 285.7L1187.0 285.0L1188.0 284.5L1189.0 284.1L1190.0 283.9L1191.0 283.9L1192.0 284.0L1193.0 284.3L1194.0 284.8L1195.0 285.5L1196.0 286.3L1197.0 287.2L1198.0 288.3L1199.0 289.5L1200.0 290.7L1201.0 292.1L1202.0 293.5L1203.0 295.0L1204.0 296.6L1205.0 298.2L1206.0 299.8L1207.0 301.4L1208.0 303.0L1209.0 304.6L1210.0 306.2L1211.0 307.7L1212.0 309.2L1213.0 310.6L1214.0 312.0L1215.0 313.3L1216.0 314.4L1217.0 315.5L1218.0 316.6L1219.0 317.5L1220.0 318.3L1221.0 319.1L1222.0 319.7L1223.0 320.3L1224.0 320.8L1225.0 321.2L1226.0 321.5L1227.0 321.8L1228.0 321.9L1229.0 322.0L1230.0 322.0L1231.0 321.9L1232.0 321.7L1233.0 321.5L1234.0 321.2L1235.0 320.8L1236.0 320.3L1237.0 319.8L1238.0 319.3L1239.0 318.6L1240.0 318.0L1241.0 317.2L1242.0 316.5L1243.0 315.7L1244.0 314.8L1245.0 313.9L1246.0 313.0L1247.0 312.1L1248.0 311.1L1249.0 310.1L1250.0 309.1L1251.0 308.1L1252.0 307.1L1253.0 306.2L1254.0 305.2L1255.0 304.3L1256.0 303.4L1257.0 302.5L1258.0 301.6L1259.0 300.9L1260.0 300.1L1261.0 299.5L1262.0 298.9L1263.0 298.3L1264.0 297.9L1265.0 297.5L1266.0 297.2L1267.0 297.1L1268.0 297.0L1269.0 297.0L1270.0 297.2L1271.0 297.4L1272.0 297.8L1273.0 298.2L1274.0 298.7L1275.0 299.2L1276.0 299.9L1277.0 300.5L1278.0 301.3L1279.0 302.0L1280.0 302.9L1281.0 303.7L1282.0 304.6L1283.0 305.5L1284.0 306.3L1285.0 307.2L1286.0 308.1L1287.0 309.0L1288.0 309.9L1289.0 310.7L1290.0 311.5L1291.0 312.3L1292.0 313.0L1293.0 313.7L1294.0 314.3L1295.0 314.9L1296.0 315.4L1297.0 315.9L1298.0 316.3L1299.0 316.7L1300.0 317.0L1301.0 317.3L1302.0 317.6L1303.0 317.8L1304.0 318.0L1305.0 318.1L1306.0 318.2L1307.0 318.2L1308.0 318.3L1309.0 318.2L1310.0 318.2L1311.0 318.1L1312.0 318.0L1313.0 317.9L1314.0 317.7L1315.0 317.5L1316.0 317.2L1317.0 317.0L1318.0 316.7L1319.0 316.4L1320.0 316.1L1321.0 315.7L1322.0 315.4L1323.0 315.0L1324.0 314.6L1325.0 314.2L1326.0 313.8L1327.0 313.4L1328.0 312.9L1329.0 312.5L1330.0 312.0L1331.0 311.5L1332.0 311.1L1333.0 310.6L1334.0 310.1L1335.0 309.7L1336.0 309.2L1337.0 308.8L1338.0 308.3L1339.0 307.9L1340.0 307.5L1341.0 307.1L1342.0 306.7L1343.0 306.4L1344.0 306.0L1345.0 305.7L1346.0 305.5L1347.0 305.2L1348.0 305.0L1349.0 304.8L1350.0 304.7L1351.0 304.6L1352.0 304.6L1353.0 304.6L1354.0 304.6L1355.0 304.7L1356.0 304.8L1357.0 305.0L1358.0 305.2L1359.0 305.5L1360.0 305.8L1361.0 306.1L1362.0 306.5L1363.0 306.9L1364.0 307.2L1365.0 307.7L1366.0 308.1L1367.0 308.5L1368.0 309.0L1369.0 309.4L1370.0 309.9L1371.0 310.3L1372.0 310.8L1373.0 311.2L1374.0 311.6L1375.0 312.0L1376.0 312.4L1377.0 312.8L1378.0 313.1L1379.0 313.4L1380.0 313.7L1381.0 313.9L1382.0 314.1L1383.0 314.3L1384.0 314.4L1385.0 314.5L1386.0 314.5L1387.0 314.5L1388.0 314.4L1389.0 314.3L1390.0 314.1L1391.0 314.0L1392.0 313.8L1393.0 313.5L1394.0 313.3L1395.0 313.0L1396.0 312.7L1397.0 312.4L1398.0 312.0L1399.0 311.7L1400.0 311.3L1401.0 310.9L1402.0 310.5L1403.0 310.1L1404.0 309.8L1405.0 309.4L1406.0 309.0L1407.0 308.6L1408.0 308.2L1409.0 307.9L1410.0 307.5L1411.0 307.2L1412.0 306.9L1413.0 306.6L1414.0 306.4L1415.0 306.1L1416.0 305.9L1417.0 305.7L1418.0 305.6L1419.0 305.5L1420.0 305.4L1421.0 305.4L1422.0 305.4L1423.0 305.4L1424.0 305.5L1425.0 305.6L1426.0 305.7L1427.0 305.9L1428.0 306.1L1429.0 306.3L1430.0 306.6L1431.0 306.8L1432.0 307.1L1433.0 307.3L1434.0 307.6L1435.0 307.9L1436.0 308.2L1437.0 308.5L1438.0 308.8L1439.0 309.1L1440.0 309.4L1441.0 309.7L1442.0 310.0L1443.0 310.3L1444.0 310.5L1445.0 310.8L1446.0 311.0L1447.0 311.2L1448.0 311.4L1449.0 311.5L1450.0 311.7L1451.0 311.8L1452.0 311.8L1453.0 311.8L1454.0 311.8L1455.0 311.8L1456.0 311.7L1457.0 311.7L1458.0 311.5L1459.0 311.4L1460.0 311.2L1461.0 311.0L1462.0 310.8L1463.0 310.6L1464.0 310.4L1465.0 310.1L1466.0 309.8L1467.0 309.5L1468.0 309.2L1469.0 308.9L1470.0 308.6L1471.0 308.3L1472.0 308.0L1473.0 307.6L1474.0 307.3L1475.0 307.0L1476.0 306.6L1477.0 306.3L1478.0 306.0L1479.0 305.6L1480.0 305.3L1481.0 305.0L1482.0 304.7L1483.0 304.4L1484.0 304.2L1485.0 303.9L1486.0 303.7L1487.0 303.4L1488.0 303.2L1489.0 303.0L1490.0 302.9L1491.0 302.7L1492.0 302.6L1493.0 302.5L1494.0 302.4L1495.0 302.4L1496.0 302.4L1497.0 302.4L1498.0 302.5L1499.0 302.6L1500.0 302.7L1501.0 302.8L1502.0 303.0L1503.0 303.2L1504.0 303.4L1505.0 303.7L1506.0 303.9L1507.0 304.2L1508.0 304.5L1509.0 304.9L1510.0 305.2L1511.0 305.5L1512.0 305.9L1513.0 306.3L1514.0 306.7L1515.0 307.1L1516.0 307.5L1517.0 307.9L1518.0 308.3L1519.0 308.7L1520.0 309.1L1521.0 309.5L1522.0 309.9L1523.0 310.3L1524.0 310.7L1525.0 311.1L1526.0 311.4L1527.0 311.8L1528.0 312.2L1529.0 312.5L1530.0 312.8L1531.0 313.2L1532.0 313.5L1533.0 313.7L1534.0 314.0L1535.0 314.2L1536.0 314.4L1537.0 314.6L1538.0 314.8L1539.0 314.9L1540.0 315.0L1541.0 315.1L1542.0 315.1L1543.0 315.1L1544.0 315.1L1545.0 315.1L1546.0 315.0L1547.0 314.9L1548.0 314.8L1549.0 314.7L1550.0 314.5L1551.0 314.4L1552.0 314.2L1553.0 314.0L1554.0 313.8L1555.0 313.6L1556.0 313.3L1557.0 313.1L1558.0 312.9L1559.0 312.6L1560.0 312.3L1561.0 312.1L1562.0 311.8L1563.0 311.6L1564.0 311.3L1565.0 311.0L1566.0 310.8L1567.0 310.5L1568.0 310.3L1569.0 310.0L1570.0 309.8L1571.0 309.6L1572.0 309.4L1573.0 309.2L1574.0 309.0L1575.0 308.8L1576.0 308.6L1577.0 308.5L1578.0 308.4L1579.0 308.3L1580.0 308.2L1581.0 308.2L1582.0 308.1L1583.0 308.1L1584.0 308.1L1585.0 308.1L1586.0 308.2L1587.0 308.2L1588.0 308.3L1589.0 308.3L1590.0 308.4L1591.0 308.5L1592.0 308.6L1593.0 308.7L1594.0 308.8L1595.0 308.9L1596.0 309.0L1597.0 309.1L1598.0 309.2L1599.0 309.4L1600.0 309.5L1601.0 309.5L1602.0 309.6L1603.0 309.6L1604.0 309.6L1605.0 309.7L1606.0 309.7L1607.0 309.7L1608.0 309.7L1609.0 309.8L1610.0 309.8L1611.0 309.8L1612.0 309.9L1613.0 309.9L1614.0 309.9L1615.0 309.9L1616.0 310.0L1617.0 310.0L1618.0 310.0L1619.0 310.0L1620.0 310.1L1621.0 310.1L1622.0 310.1L1623.0 310.1L1624.0 310.2L1625.0 310.2L1626.0 310.2L1627.0 310.2L1628.0 310.3L1629.0 310.3L1630.0 310.3L1631.0 310.3L1632.0 310.4L1633.0 310.4L1634.0 310.4L1635.0 310.4L1636.0 310.4L1637.0 310.4L1638.0 310.5L1639.0 310.5L1640.0 310.5L1641.0 310.5L1642.0 310.5L1643.0 310.5L1644.0 310.6L1645.0 310.6L1646.0 310.6L1647.0 310.6L1648.0 310.6L1649.0 310.6L1650.0 310.6L1651.0 310.6L1652.0 310.7L1653.0 310.7L1654.0 310.7L1655.0 310.7L1656.0 310.7L1657.0 310.7L1658.0 310.7L1659.0 310.7L1660.0 310.7L1661.0 310.7L1662.0 310.7L1663.0 310.8L1663.9 310.8L1664.9 310.8L1665.9 310.8L1666.9 310.8L1667.9 310.8L1668.9 310.8L1669.9 310.8L1670.9 310.8L1671.9 310.9L1672.9 310.9L1673.9 310.9L1674.9 310.9L1675.9 310.9L1676.9 310.9L1677.9 311.0L1678.9 311.0L1679.9 311.0L1680.9 311.0L1681.9 311.1L1682.9 311.1L1683.9 311.2L1684.9 311.2L1685.9 311.3L1686.9 311.4L1687.9 311.5L1688.9 311.6L1689.9 311.6L1690.9 311.7L1691.9 311.9L1692.9 312.0L1693.9 312.1L1694.9 312.2L1695.9 312.3L1696.9 312.4L1697.9 312.5L1698.9 312.7L1699.9 312.8L1700.9 312.9L1701.9 313.0L1702.9 313.1L1703.9 313.2L1704.9 313.3L1705.9 313.4L1706.9 313.5L1707.9 313.6L1708.9 313.7L1709.9 313.7L1710.9 313.8L1711.9 313.9L1712.9 313.9L1713.9 313.9L1714.9 314.0L1715.9 314.0L1716.9 314.0L1717.9 314.0L1718.9 314.0L1719.9 314.0L1720.9 314.0L1721.9 314.0L1722.9 314.0L1723.9 314.0L1724.9 313.9L1725.9 313.9L1726.9 313.9L1727.9 313.9L1728.9 313.9L1729.9 313.9L1730.9 313.8L1731.9 313.8L1732.9 313.8L1733.9 313.8L1734.9 313.8L1735.9 313.7L1736.9 313.7L1737.9 313.7L1738.9 313.7L1739.9 313.7L1740.9 313.6L1741.9 313.6L1742.9 313.6L1743.9 313.6L1744.9 313.6L1745.9 313.6L1746.9 313.5L1747.9 313.5L1748.9 313.5L1749.9 313.5L1750.9 313.5L1751.9 313.5L1752.9 313.5L1753.9 313.5L1754.9 313.5L1755.9 313.5L1756.9 313.5L1757.9 313.6L1758.9 313.6L1759.9 313.6L1760.9 313.6L1761.9 313.7L1762.9 313.7L1763.9 313.7L1764.9 313.8L1765.9 313.8L1766.9 313.9L1767.9 313.9L1768.9 314.0L1769.9 314.1L1770.9 314.1L1771.9 314.2L1772.9 314.2L1773.9 314.3L1774.9 314.4L1775.9 314.5L1776.9 314.5L1777.9 314.6L1778.9 314.7L1779.9 314.8L1780.9 314.9L1781.9 314.9L1782.9 315.0L1783.9 315.1L1784.9 315.2L1785.9 315.3L1786.9 315.4L1787.9 315.5L1788.9 315.5L1789.8 315.6L1790.8 315.7L1791.8 315.8L1792.8 315.9L1793.8 316.0L1794.8 316.1L1795.8 316.2L1796.8 316.3L1797.8 316.4L1798.8 316.6L1799.8 316.7L1800.8 316.9L1801.8 317.0L1802.8 317.2L1803.8 317.4L1804.8 317.5L1805.8 317.7L1806.8 317.9L1807.8 318.1L1808.8 318.3L1809.8 318.4L1810.8 318.6L1811.8 318.8L1812.8 319.0L1813.8 319.2L1814.8 319.4L1815.8 319.6L1816.8 319.7L1817.8 319.9L1818.8 320.1L1819.8 320.2L1820.8 320.4L1821.8 320.5L1822.8 320.6L1823.8 320.8L1824.8 320.9L1825.8 321.0L1826.8 321.1L1827.8 321.2L1828.8 321.3L1829.8 321.3L1830.8 321.4L1831.8 321.5L1832.8 321.6L1833.8 321.6L1834.8 321.7L1835.8 321.8L1836.8 321.8L1837.8 321.9L1838.8 322.0L1839.8 322.0"/>
<path class="r" d="M237.3 313.1L238.3 315.7L239.3 318.2L240.3 320.8L241.3 323.2L242.3 325.6L243.3 327.8L244.3 330.0L245.3 332.0L246.3 333.8L247.3 335.5L248.3 336.9L249.3 338.3L250.3 339.7L251.3 341.1L252.3 342.7L253.3 344.5L254.3 346.7L255.3 349.1L256.3 351.9L257.3 354.9L258.3 358.1L259.3 361.5L260.3 364.9L261.3 368.3L262.3 371.7L263.3 374.9L264.3 378.0L265.3 381.0L266.3 383.7L267.3 386.1L268.3 388.3L269.3 390.1L270.3 391.5L271.3 392.5L272.3 393.1L273.3 393.2L274.3 392.8L275.3 391.9L276.3 390.3L277.3 388.2L278.3 385.3L279.3 381.8L280.3 377.6L281.3 372.5L282.3 366.7L283.3 360.3L284.3 353.1L285.3 345.5L286.3 337.3L287.3 328.7L288.3 319.7L289.3 310.5L290.3 301.0L291.3 291.4L292.3 281.6L293.3 271.8L294.3 261.9L295.3 252.1L296.3 242.4L297.3 232.8L298.3 223.4L299.3 214.2L300.3 205.4L301.3 196.9L302.3 188.8L303.3 181.3L304.3 174.2L305.3 167.7L306.3 161.9L307.3 156.8L308.3 152.5L309.3 149.0L310.3 146.3L311.3 144.7L312.3 143.9L313.3 144.1L314.3 145.1L315.3 146.9L316.3 149.4L317.3 152.5L318.3 156.3L319.3 160.5L320.3 165.3L321.3 170.4L322.3 175.9L323.3 181.7L324.3 187.7L325.3 193.9L326.3 200.2L327.3 206.5L328.3 212.7L329.3 218.9L330.2 225.0L331.2 230.8L332.2 236.4L333.2 241.6L334.2 246.6L335.2 251.3L336.2 255.7L337.2 260.0L338.2 264.1L339.2 268.1L340.2 271.9L341.2 275.6L342.2 279.3L343.2 283.0L344.2 286.6L345.2 290.2L346.2 293.9L347.2 297.7L348.2 301.6L349.2 305.6L350.2 309.7L351.2 314.1L352.2 318.6L353.2 323.3L354.2 328.1L355.2 333.1L356.2 338.1L357.2 343.3L358.2 348.4L359.2 353.5L360.2 358.6L361.2 363.7L362.2 368.7L363.2 373.5L364.2 378.3L365.2 382.8L366.2 387.2L367.2 391.4L368.2 395.3L369.2 398.9L370.2 402.2L371.2 405.2L372.2 407.8L373.2 410.1L374.2 411.9L375.2 413.3L376.2 414.2L377.2 414.7L378.2 414.7L379.2 414.3L380.2 413.5L381.2 412.4L382.2 410.8L383.2 409.0L384.2 406.8L385.2 404.2L386.2 401.4L387.2 398.3L388.2 394.9L389.2 391.3L390.2 387.4L391.2 383.3L392.2 379.0L393.2 374.5L394.2 369.9L395.2 365.0L396.2 360.1L397.2 355.0L398.2 349.8L399.2 344.5L400.2 339.2L401.2 333.8L402.2 328.3L403.2 322.8L404.2 317.3L405.2 311.9L406.2 306.4L407.2 301.0L408.2 295.6L409.2 290.3L410.2 285.1L411.2 280.0L412.2 275.0L413.2 270.1L414.2 265.4L415.2 260.8L416.2 256.5L417.2 252.3L418.2 248.4L419.2 244.7L420.2 241.2L421.2 238.0L422.2 235.1L423.2 232.5L424.2 230.2L425.2 228.2L426.2 226.6L427.2 225.3L428.2 224.4L429.2 223.9L430.2 223.8L431.2 224.1L432.2 224.8L433.2 225.8L434.2 227.2L435.2 228.9L436.2 230.9L437.2 233.2L438.2 235.8L439.2 238.7L440.2 241.8L441.2 245.2L442.2 248.8L443.2 252.6L444.2 256.6L445.2 260.7L446.2 265.0L447.2 269.5L448.2 274.1L449.2 278.8L450.2 283.7L451.2 288.6L452.2 293.6L453.2 298.6L454.2 303.7L455.2 308.8L456.2 313.9L457.2 319.0L458.2 324.1L459.2 329.2L460.2 334.2L461.2 339.1L462.2 343.9L463.2 348.6L464.2 353.1L465.2 357.4L466.2 361.6L467.2 365.6L468.2 369.3L469.2 372.9L470.2 376.1L471.2 379.0L472.2 381.7L473.2 384.0L474.2 386.0L475.2 387.6L476.2 388.8L477.2 389.6L478.2 390.0L479.2 390.0L480.2 389.4L481.2 388.5L482.2 387.1L483.2 385.4L484.2 383.2L485.2 380.8L486.2 378.0L487.2 374.9L488.2 371.5L489.2 367.9L490.2 364.0L491.2 359.9L492.2 355.6L493.2 351.2L494.2 346.6L495.2 341.9L496.2 337.0L497.2 332.1L498.2 327.2L499.2 322.2L500.2 317.2L501.2 312.2L502.2 307.3L503.2 302.4L504.2 297.5L505.2 292.8L506.2 288.2L507.2 283.7L508.2 279.3L509.2 275.1L510.2 271.1L511.2 267.3L512.2 263.8L513.2 260.4L514.1 257.4L515.1 254.6L516.1 252.1L517.1 250.0L518.1 248.1L519.1 246.7L520.1 245.6L521.1 244.9L522.1 244.7L523.1 244.8L524.1 245.3L525.1 246.1L526.1 247.4L527.1 248.9L528.1 250.7L529.1 252.9L530.1 255.3L531.1 258.0L532.1 260.9L533.1 264.1L534.1 267.4L535.1 271.0L536.1 274.7L537.1 278.6L538.1 282.7L539.1 286.8L540.1 291.1L541.1 295.5L542.1 300.0L543.1 304.5L544.1 309.0L545.1 313.6L546.1 318.2L547.1 322.8L548.1 327.3L549.1 331.8L550.1 336.2L551.1 340.4L552.1 344.6L553.1 348.5L554.1 352.3L555.1 355.8L556.1 359.1L557.1 362.2L558.1 364.9L559.1 367.4L560.1 369.5L561.1 371.2L562.1 372.5L563.1 373.5L564.1 374.0L565.1 374.0L566.1 373.5L567.1 372.6L568.1 371.2L569.1 369.5L570.1 367.4L571.1 364.9L572.1 362.1L573.1 358.9L574.1 355.6L575.1 351.9L576.1 348.1L577.1 344.0L578.1 339.8L579.1 335.5L580.1 331.0L581.1 326.4L582.1 321.8L583.1 317.1L584.1 312.5L585.1 307.8L586.1 303.2L587.1 298.7L588.1 294.3L589.1 290.0L590.1 285.8L591.1 281.9L592.1 278.1L593.1 274.6L594.1 271.4L595.1 268.4L596.1 265.8L597.1 263.6L598.1 261.7L599.1 260.3L600.1 259.2L601.1 258.7L602.1 258.6L603.1 259.1L604.1 260.0L605.1 261.4L606.1 263.2L607.1 265.4L608.1 267.9L609.1 270.7L610.1 273.9L611.1 277.2L612.1 280.8L613.1 284.6L614.1 288.5L615.1 292.6L616.1 296.7L617.1 300.9L618.1 305.1L619.1 309.3L620.1 313.4L621.1 317.4L622.1 321.4L623.1 325.2L624.1 328.9L625.1 332.4L626.1 335.7L627.1 338.8L628.1 341.8L629.1 344.4L630.1 346.9L631.1 349.0L632.1 350.9L633.1 352.4L634.1 353.6L635.1 354.4L636.1 354.9L637.1 355.0L638.1 354.7L639.1 354.0L640.1 352.9L641.1 351.6L642.1 349.9L643.1 347.9L644.1 345.7L645.1 343.2L646.1 340.4L647.1 337.5L648.1 334.3L649.1 331.0L650.1 327.6L651.1 324.0L652.1 320.3L653.1 316.6L654.1 312.7L655.1 308.8L656.1 304.9L657.1 301.1L658.1 297.3L659.1 293.6L660.1 290.0L661.1 286.7L662.1 283.5L663.1 280.6L664.1 278.0L665.1 275.7L666.1 273.8L667.1 272.3L668.1 271.3L669.1 270.7L670.1 270.6L671.1 271.1L672.1 272.1L673.1 273.5L674.1 275.3L675.1 277.5L676.1 280.1L677.1 282.9L678.1 286.1L679.1 289.5L680.1 293.1L681.1 296.9L682.1 300.9L683.1 304.9L684.1 309.1L685.1 313.2L686.1 317.4L687.1 321.5L688.1 325.6L689.1 329.5L690.1 333.1L691.1 336.6L692.1 339.7L693.1 342.5L694.1 344.9L695.1 346.8L696.1 348.2L697.1 349.0L698.0 349.3L699.0 349.0L700.0 348.2L701.0 346.9L702.0 345.1L703.0 343.0L704.0 340.5L705.0 337.7L706.0 334.6L707.0 331.3L708.0 327.8L709.0 324.2L710.0 320.5L711.0 316.7L712.0 312.8L713.0 309.0L714.0 305.3L715.0 301.7L716.0 298.3L717.0 295.0L718.0 292.0L719.0 289.3L720.0 287.0L721.0 285.0L722.0 283.5L723.0 282.5L724.0 281.9L725.0 282.0L726.0 282.7L727.0 283.9L728.0 285.6L729.0 287.8L730.0 290.3L731.0 293.1L732.0 296.2L733.0 299.4L734.0 302.8L735.0 306.3L736.0 309.7L737.0 313.1L738.0 316.4L739.0 319.5L740.0 322.4L741.0 325.1L742.0 327.5L743.0 329.7L744.0 331.5L745.0 333.0L746.0 334.1L747.0 334.8L748.0 335.0L749.0 334.8L750.0 334.2L751.0 333.2L752.0 331.8L753.0 330.1L754.0 328.2L755.0 326.0L756.0 323.6L757.0 321.1L758.0 318.5L759.0 315.7L760.0 313.0L761.0 310.2L762.0 307.5L763.0 305.0L764.0 302.8L765.0 301.0L766.0 299.7L767.0 299.0L768.0 298.9L769.0 299.5L770.0 300.5L771.0 301.9L772.0 303.5L773.0 305.4L774.0 307.3L775.0 309.2L776.0 311.0L777.0 312.5L778.0 313.7L779.0 314.7L780.0 315.3L781.0 315.8L782.0 316.0L783.0 316.0L784.0 315.9L785.0 315.6L786.0 315.3L787.0 314.9L788.0 314.4L789.0 313.9L790.0 313.3L791.0 313.3L792.0 313.3L793.0 313.3L794.0 313.3L795.0 313.3L796.0 313.3L797.0 313.3L798.0 313.3L799.0 313.3L800.0 313.3L801.0 313.3L802.0 313.3L803.0 313.3L804.0 313.3L805.0 313.3L806.0 313.3L807.0 313.3L808.0 313.3L809.0 313.3L810.0 313.3L811.0 313.3L812.0 313.3L813.0 313.3L814.0 313.3L815.0 313.3L816.0 313.3L817.0 313.3L818.0 313.3L819.0 313.3L820.0 313.3L821.0 313.3L822.0 313.3L823.0 313.3L824.0 313.3L825.0 313.3L826.0 313.3L827.0 313.3L828.0 313.3L829.0 313.3L830.0 313.3L831.0 313.3L832.0 313.3L833.0 313.3L834.0 313.3L835.0 313.3L836.0 313.3L837.0 313.3L838.0 313.3L839.0 313.3L840.0 313.3L841.0 313.3L842.0 313.3L843.0 313.3L844.0 313.3L845.0 313.3L846.0 313.3L847.0 313.3L848.0 313.3L849.0 313.3L850.0 313.3L851.0 313.3L852.0 313.3L853.0 313.3L854.0 313.3L855.0 313.3L856.0 313.3L857.0 313.3L858.0 313.3L859.0 313.3L860.0 313.3L861.0 313.3L862.0 313.3L863.0 313.3L864.0 313.3L865.0 313.3L866.0 313.3L867.0 313.3L868.0 313.3L869.0 313.3L870.0 313.3L871.0 313.3L872.0 313.3L873.0 313.3L874.0 313.3L875.0 313.3L876.0 313.3L877.0 313.3L878.0 313.3L879.0 313.3L880.0 313.3L881.0 313.3L882.0 313.3L883.0 313.3L884.0 313.3L885.0 313.3L886.0 313.3L887.0 313.3L888.0 313.3L889.0 313.3L890.0 313.3L891.0 313.3L892.0 313.3L893.0 313.3L894.0 313.3L895.0 313.3L896.0 313.3L897.0 313.3L898.0 313.3L899.0 313.3L900.0 313.3L901.0 313.3L902.0 313.3L903.0 313.3L904.0 313.3L905.0 313.3L906.0 313.3L907.0 313.3L908.0 313.3L909.0 313.3L910.0 313.3L911.0 313.3L912.0 313.3L913.0 313.3L914.0 313.3L915.0 313.3L916.0 313.3L917.0 313.3L918.0 313.3L919.0 313.3L920.0 313.3L921.0 313.3L922.0 313.3L923.0 313.3L924.0 313.3L925.0 313.3L926.0 313.3L927.0 313.3L928.0 313.3L929.0 313.3L930.0 313.3L931.0 313.3L932.0 313.3L933.0 313.3L934.0 313.3L935.0 313.3L936.0 313.3L937.0 313.3L938.0 313.3L939.0 313.3L940.0 313.3L941.0 313.3L942.0 313.3L943.0 313.3L944.0 313.3L945.0 313.3L946.0 313.3L947.0 313.3L948.0 313.3L949.0 313.3L950.0 313.3L951.0 313.3L952.0 313.3L953.0 313.3L954.0 313.3L955.0 313.3L956.0 313.3L957.0 313.3L958.0 313.3L959.0 313.3L960.0 313.3L961.0 313.3L962.0 313.3L963.0 313.3L964.0 313.3L965.0 313.3L966.0 313.3L967.0 313.3L968.0 313.3L969.0 313.3L970.0 313.3L971.0 313.3L972.0 313.3L973.0 313.3L974.0 313.3L975.0 313.3L976.0 313.3L977.0 313.3L978.0 313.3L979.0 313.3L980.0 313.3L981.0 313.3L982.0 313.3L983.0 313.3L984.0 313.3L985.0 313.3L986.0 313.3L987.0 313.3L988.0 313.3L989.0 313.3L990.0 313.3L991.0 313.3L992.0 313.3L993.0 313.3L994.0 313.3L995.0 313.3L996.0 313.3L997.0 313.3L998.0 313.3L999.0 313.3L1000.0 313.3L1001.0 313.3L1002.0 313.3L1003.0 313.3L1004.0 313.3L1005.0 313.3L1006.0 313.3L1007.0 313.3L1008.0 313.3L1009.0 313.3L1010.0 313.3L1011.0 313.3L1012.0 313.3L1013.0 313.3L1014.0 313.3L1015.0 313.3L1016.0 313.3L1017.0 313.3L1018.0 313.3L1019.0 313.3L1020.0 313.3L1021.0 313.3L1022.0 313.3L1023.0 313.3L1024.0 313.3L1025.0 313.3L1026.0 313.3L1027.0 313.3L1028.0 313.3L1029.0 313.3L1030.0 313.3L1031.0 313.3L1032.0 313.3L1033.0 313.3L1034.0 313.3L1035.0 313.3L1036.0 313.3L1037.0 313.3L1038.0 313.3L1039.0 313.3L1040.0 313.3L1041.0 313.3L1042.0 313.3L1043.0 313.3L1044.0 313.3L1045.0 313.3L1046.0 313.3L1047.0 313.3L1048.0 313.3L1049.0 313.3L1050.0 313.3L1051.0 313.3L1052.0 313.3L1053.0 313.3L1054.0 313.3L1055.0 313.3L1056.0 313.3L1057.0 313.3L1058.0 313.3L1059.0 313.4L1060.0 313.6L1061.0 313.9L1062.0 314.2L1063.0 314.5L1064.0 314.7L1064.9 314.9L1065.9 315.0L1066.9 314.1L1067.9 311.7L1068.9 308.5L1069.9 305.2L1070.9 301.6L1071.9 297.3L1072.9 292.8L1073.9 288.5L1074.9 285.1L1075.9 282.5L1076.9 280.1L1077.9 278.1L1078.9 276.6L1079.9 275.4L1080.9 274.4L1081.9 274.0L1082.9 274.6L1083.9 276.4L1084.9 278.9L1085.9 284.3L1086.9 291.7L1087.9 297.2L1088.9 302.3L1089.9 307.4L1090.9 312.7L1091.9 318.6L1092.9 325.1L1093.9 331.8L1094.9 338.3L1095.9 344.4L1096.9 349.7L1097.9 354.5L1098.9 358.9L1099.9 362.8L1100.9 365.9L1101.9 368.5L1102.9 370.5L1103.9 370.8L1104.9 369.0L1105.9 366.2L1106.9 362.1L1107.9 356.4L1108.9 350.3L1109.9 344.3L1110.9 337.8L1111.9 331.0L1112.9 324.5L1113.9 318.4L1114.9 313.3L1115.9 308.9L1116.9 305.0L1117.9 301.4L1118.9 298.1L1119.9 295.2L1120.9 292.4L1121.9 289.9L1122.9 288.1L1123.9 286.7L1124.9 286.0L1125.9 286.8L1126.9 288.4L1127.9 290.4L1128.9 293.1L1129.9 295.8L1130.9 298.6L1131.9 301.6L1132.9 304.7L1133.9 307.5L1134.9 310.0L1135.9 311.9L1136.9 313.3L1137.9 314.7L1138.9 315.9L1139.9 316.7L1140.9 317.0L1141.9 316.9L1142.9 316.5L1143.9 316.0L1144.9 315.5L1145.9 315.0L1146.9 314.7L1147.9 314.3L1148.9 313.9L1149.9 313.6L1150.9 313.4L1151.9 313.3L1152.9 313.3L1153.9 313.3L1154.9 313.3L1155.9 313.3L1156.9 313.3L1157.9 313.3L1158.9 313.3L1159.9 313.3L1160.9 313.3L1161.9 313.3L1162.9 313.3L1163.9 313.3L1164.9 313.3L1165.9 313.3L1166.9 313.3L1167.9 313.3L1168.9 313.3L1169.9 313.3L1170.9 313.3L1171.9 313.3L1172.9 313.3L1173.9 313.3L1174.9 313.3L1175.9 313.3L1176.9 313.3L1177.9 313.3L1178.9 313.3L1179.9 313.3L1180.9 313.3L1181.9 313.3L1182.9 313.3L1183.9 313.3L1184.9 313.3L1185.9 313.3L1186.9 313.3L1187.9 313.3L1188.9 313.3L1189.9 313.3L1190.9 313.3L1191.9 313.3L1192.9 313.3L1193.9 313.3L1194.9 313.3L1195.9 313.3L1196.9 313.3L1197.9 313.3L1198.9 313.3L1199.9 313.3L1200.9 313.3L1201.9 313.3L1202.9 313.3L1203.9 313.3L1204.9 313.3L1205.9 313.3L1206.9 313.3L1207.9 313.3L1208.9 313.3L1209.9 313.3L1210.9 313.3L1211.9 313.3L1212.9 313.3L1213.9 313.3L1214.9 313.3L1215.9 313.3L1216.9 313.3L1217.9 313.3L1218.9 313.3L1219.9 313.3L1220.9 313.3L1221.9 313.3L1222.9 313.3L1223.9 313.3L1224.9 313.3L1225.9 313.3L1226.9 313.3L1227.9 313.3L1228.9 313.3L1229.9 313.3L1230.9 313.3L1231.9 313.3L1232.9 313.3L1233.9 313.3L1234.9 313.3L1235.9 313.3L1236.9 313.3L1237.9 313.3L1238.9 313.3L1239.9 313.3L1240.9 313.3L1241.9 313.3L1242.9 313.3L1243.9 313.3L1244.9 313.3L1245.9 313.3L1246.9 313.3L1247.9 313.3L1248.9 313.3L1249.9 313.3L1250.9 313.3L1251.9 313.3L1252.9 313.3L1253.9 313.3L1254.9 313.3L1255.9 313.3L1256.9 313.3L1257.9 313.3L1258.9 313.3L1259.9 313.3L1260.9 313.3L1261.9 313.3L1262.9 313.3L1263.9 313.3L1264.9 313.3L1265.9 313.3L1266.9 313.3L1267.9 313.3L1268.9 313.3L1269.9 313.3L1270.9 313.3L1271.9 313.3L1272.9 313.3L1273.9 313.3L1274.9 313.3L1275.9 313.3L1276.9 313.3L1277.9 313.3L1278.9 313.3L1279.9 313.3L1280.9 313.3L1281.9 313.3L1282.9 313.3L1283.9 313.3L1284.9 313.3L1285.9 313.3L1286.9 313.3L1287.9 313.3L1288.9 313.3L1289.9 313.3L1290.9 313.3L1291.9 313.3L1292.9 313.3L1293.9 313.3L1294.9 313.3L1295.9 313.3L1296.9 313.3L1297.9 313.3L1298.9 313.3L1299.9 313.3L1300.9 313.3L1301.9 313.3L1302.9 313.3L1303.9 313.3L1304.9 313.3L1305.9 313.3L1306.9 313.3L1307.9 313.3L1308.9 313.3L1309.9 313.3L1310.9 313.3L1311.9 313.3L1312.9 313.3L1313.9 313.3L1314.9 313.3L1315.9 313.3L1316.9 313.3L1317.9 313.3L1318.9 313.3L1319.9 313.3L1320.9 313.3L1321.9 313.3L1322.9 313.3L1323.9 313.3L1324.9 313.3L1325.9 313.3L1326.9 313.3L1327.9 313.3L1328.9 313.3L1329.9 313.3L1330.9 313.3L1331.9 313.3L1332.9 313.3L1333.9 313.3L1334.9 313.3L1335.9 313.3L1336.9 313.3L1337.9 313.3L1338.9 313.3L1339.9 313.3L1340.9 313.3L1341.9 313.3L1342.9 313.3L1343.9 313.3L1344.9 313.3L1345.9 313.3L1346.9 313.3L1347.9 313.3L1348.9 313.3L1349.9 313.3L1350.9 313.3L1351.9 313.3L1352.9 313.3L1353.9 313.3L1354.9 313.3L1355.9 313.3L1356.9 313.3L1357.9 313.3L1358.9 313.3L1359.9 313.3L1360.9 313.3L1361.9 313.3L1362.9 313.3L1363.9 313.3L1364.9 313.3L1365.9 313.3L1366.9 313.3L1367.9 313.3L1368.9 313.3L1369.9 313.3L1370.9 313.3L1371.9 313.3L1372.9 313.3L1373.9 313.3L1374.9 313.3L1375.9 313.3L1376.9 313.3L1377.9 313.3L1378.9 313.3L1379.9 313.3L1380.9 313.3L1381.9 313.3L1382.9 313.3L1383.9 313.3L1384.9 313.3L1385.9 313.3L1386.9 313.3L1387.9 313.3L1388.9 313.3L1389.9 313.3L1390.9 313.3L1391.9 313.3L1392.9 313.3L1393.9 313.3L1394.9 313.3L1395.9 313.3L1396.9 313.3L1397.9 313.3L1398.9 313.3L1399.9 313.3L1400.9 313.3L1401.9 313.3L1402.9 313.3L1403.9 313.3L1404.9 313.3L1405.9 313.3L1406.9 313.3L1407.9 313.3L1408.9 313.3L1409.9 313.3L1410.9 313.3L1411.9 313.3L1412.9 313.3L1413.9 313.3L1414.9 313.3L1415.9 313.3L1416.9 313.3L1417.9 313.3L1418.9 313.3L1419.9 313.3L1420.9 313.3L1421.9 313.3L1422.9 313.3L1423.9 313.3L1424.9 313.3L1425.9 313.3L1426.9 313.3L1427.9 313.3L1428.9 313.3L1429.9 313.3L1430.9 313.3L1431.9 313.3L1432.9 313.3L1433.9 313.3L1434.9 313.3L1435.9 313.3L1436.9 313.3L1437.9 313.3L1438.9 313.3L1439.9 313.3L1440.9 313.3L1441.9 313.3L1442.9 313.3L1443.9 313.3L1444.9 313.3L1445.9 313.3L1446.9 313.3L1447.9 313.3L1448.9 313.3L1449.9 313.3L1450.9 313.3L1451.9 313.3L1452.9 313.3L1453.9 313.3L1454.9 313.3L1455.9 313.3L1456.9 313.3L1457.9 313.3L1458.9 313.3L1459.9 313.3L1460.9 313.3L1461.9 313.3L1462.9 313.3L1463.9 313.3L1464.9 313.3L1465.9 313.3L1466.9 313.3L1467.9 313.3L1468.9 313.3L1469.9 313.3L1470.9 313.3L1471.9 313.3L1472.9 313.3L1473.9 313.3L1474.9 313.3L1475.9 313.3L1476.9 313.3L1477.9 313.3L1478.9 313.3L1479.9 313.3L1480.9 313.3L1481.9 313.3L1482.9 313.3L1483.9 313.3L1484.9 313.3L1485.9 313.3L1486.9 313.3L1487.9 313.3L1488.9 313.3L1489.9 313.3L1490.9 313.3L1491.9 313.3L1492.9 313.3L1493.9 313.3L1494.9 313.3L1495.9 313.3L1496.9 313.3L1497.9 313.3L1498.9 313.3L1499.9 313.3L1500.9 313.3L1501.9 313.3L1502.9 313.3L1503.9 313.3L1504.9 313.3L1505.9 313.3L1506.9 313.3L1507.9 313.3L1508.9 313.3L1509.9 313.3L1510.9 313.3L1511.9 313.3L1512.9 313.3L1513.9 313.3L1514.9 313.3L1515.9 313.3L1516.9 313.3L1517.9 313.3L1518.9 313.3L1519.9 313.3L1520.9 313.3L1521.9 313.3L1522.9 313.3L1523.9 313.3L1524.9 313.3L1525.9 313.3L1526.9 313.3L1527.9 313.3L1528.9 313.3L1529.9 313.3L1530.9 313.3L1531.9 313.3L1532.9 313.3L1533.9 313.3L1534.9 313.3L1535.9 313.3L1536.9 313.3L1537.9 313.3L1538.9 313.3L1539.9 313.3L1540.9 313.3L1541.9 313.3L1542.9 313.3L1543.9 313.3L1544.9 313.3L1545.9 313.3L1546.9 313.3L1547.9 313.3L1548.9 313.3L1549.9 313.3L1550.9 313.3L1551.9 313.3L1552.9 313.3L1553.9 313.3L1554.9 313.3L1555.9 313.3L1556.9 313.3L1557.9 313.3L1558.9 313.3L1559.9 313.3L1560.9 313.3L1561.9 313.3L1562.9 313.3L1563.9 313.3L1564.9 313.3L1565.9 313.3L1566.9 313.3L1567.9 313.3L1568.9 313.3L1569.9 313.3L1570.9 313.3L1571.9 313.3L1572.9 313.3L1573.9 313.3L1574.9 313.3L1575.9 313.3L1576.9 313.3L1577.9 313.3L1578.9 313.3L1579.9 313.3L1580.9 313.3L1581.9 313.3L1582.9 313.3L1583.9 313.3L1584.9 313.3L1585.9 313.3L1586.9 313.3L1587.9 313.3L1588.9 313.3L1589.9 313.3L1590.9 313.3L1591.9 313.3L1592.9 313.3L1593.9 313.3L1594.9 313.3L1595.9 313.3L1596.9 313.3L1597.9 313.3L1598.9 313.3L1599.9 313.3L1600.9 313.3L1601.9 313.3L1602.9 313.3L1603.9 313.3L1604.9 313.3L1605.9 313.3L1606.9 313.3L1607.9 313.3L1608.9 313.3L1609.9 313.3L1610.9 313.3L1611.9 313.3L1612.9 313.3L1613.8 313.3L1614.8 313.3L1615.8 313.3L1616.8 313.3L1617.8 313.3L1618.8 313.3L1619.8 313.3L1620.8 313.3L1621.8 313.3L1622.8 313.3L1623.8 313.3L1624.8 313.3L1625.8 313.3L1626.8 313.3L1627.8 313.3L1628.8 313.3L1629.8 313.3L1630.8 313.3L1631.8 313.3L1632.8 313.3L1633.8 313.3L1634.8 313.3L1635.8 313.3L1636.8 313.3L1637.8 313.3L1638.8 313.3L1639.8 313.3L1640.8 313.3L1641.8 313.3L1642.8 313.3L1643.8 313.3L1644.8 313.3L1645.8 313.3L1646.8 313.3L1647.8 313.3L1648.8 313.3L1649.8 313.3L1650.8 313.3L1651.8 313.3L1652.8 313.3L1653.8 313.3L1654.8 313.3L1655.8 313.3L1656.8 313.3L1657.8 313.3L1658.8 313.3L1659.8 313.3L1660.8 313.3L1661.8 313.3L1662.8 313.3L1663.8 313.3L1664.8 313.3L1665.8 313.3L1666.8 313.3L1667.8 313.3L1668.8 313.3L1669.8 313.3L1670.8 313.3L1671.8 313.3L1672.8 313.3L1673.8 313.3L1674.8 313.3L1675.8 313.3L1676.8 313.3L1677.8 313.3L1678.8 313.3L1679.8 313.3L1680.8 313.3L1681.8 313.3L1682.8 313.3L1683.8 313.3L1684.8 313.3L1685.8 313.3L1686.8 313.3L1687.8 313.3L1688.8 313.3L1689.8 313.3L1690.8 313.3L1691.8 313.3L1692.8 313.3L1693.8 313.3L1694.8 313.3L1695.8 313.3L1696.8 313.3L1697.8 313.3L1698.8 313.3L1699.8 313.3L1700.8 313.3L1701.8 313.3L1702.8 313.3L1703.8 313.3L1704.8 313.3L1705.8 313.3L1706.8 313.3L1707.8 313.3L1708.8 313.3L1709.8 313.3L1710.8 313.3L1711.8 313.3L1712.8 313.3L1713.8 313.3L1714.8 313.3L1715.8 313.3L1716.8 313.3L1717.8 313.3L1718.8 313.3L1719.8 313.3L1720.8 313.3L1721.8 313.3L1722.8 313.3L1723.8 313.3L1724.8 313.3L1725.8 313.3L1726.8 313.3L1727.8 313.3L1728.8 313.3L1729.8 313.3L1730.8 313.3L1731.8 313.3L1732.8 313.3L1733.8 313.3L1734.8 313.3L1735.8 313.3L1736.8 313.3L1737.8 313.3L1738.8 313.3L1739.8 313.3L1740.8 313.3L1741.8 313.3L1742.8 313.3L1743.8 313.3L1744.8 313.3L1745.8 313.3L1746.8 313.3L1747.8 313.3L1748.8 313.3L1749.8 313.3L1750.8 313.3L1751.8 313.3L1752.8 313.3L1753.8 313.3L1754.8 313.3L1755.8 313.3L1756.8 313.3L1757.8 313.3L1758.8 313.3L1759.8 313.3L1760.8 313.3L1761.8 313.3L1762.8 313.3L1763.8 313.3L1764.8 313.3L1765.8 313.3L1766.8 313.3L1767.8 313.3L1768.8 313.3L1769.8 313.3L1770.8 313.3L1771.8 313.3L1772.8 313.3L1773.8 313.3L1774.8 313.3L1775.8 313.3L1776.8 313.3L1777.8 313.3L1778.8 313.3L1779.8 313.3L1780.8 313.3L1781.8 313.3L1782.8 313.3L1783.8 313.3L1784.8 313.3L1785.8 313.3L1786.8 313.3L1787.8 313.3L1788.8 313.3L1789.8 313.3L1790.8 313.3L1791.8 313.3L1792.8 313.3L1793.8 313.3L1794.8 313.3L1795.8 313.3L1796.8 313.3L1797.8 313.3L1798.8 313.3L1799.8 313.3L1800.8 313.3L1801.8 313.3L1802.8 313.3L1803.8 313.3L1804.8 313.3L1805.8 313.3L1806.8 313.3L1807.8 313.3L1808.8 313.3L1809.8 313.3L1810.8 313.3L1811.8 313.3L1812.8 313.3L1813.8 313.3L1814.8 313.3L1815.8 313.3L1816.8 313.3L1817.8 313.3L1818.8 313.3L1819.8 313.3L1820.8 313.3L1821.8 313.3L1822.8 313.3L1823.8 313.3L1824.8 313.3L1825.8 313.3L1826.8 313.3L1827.8 313.3L1828.8 313.3L1829.8 313.3L1830.8 313.3L1831.8 313.3L1832.8 313.3"/>
</g>
<line class="tk" x1="237.3" y1="427.5" x2="237.3" y2="443.9"/><text class="t" transform="translate(237.3 492.5) scale(1 1.035)" text-anchor="middle">0</text>
<line class="tk" x1="442.8" y1="427.5" x2="442.8" y2="443.9"/><text class="t" transform="translate(442.8 492.5) scale(1 1.035)" text-anchor="middle">25</text>
<line class="tk" x1="648.2" y1="427.5" x2="648.2" y2="443.9"/><text class="t" transform="translate(648.2 492.5) scale(1 1.035)" text-anchor="middle">50</text>
<line class="tk" x1="853.7" y1="427.5" x2="853.7" y2="443.9"/><text class="t" transform="translate(853.7 492.5) scale(1 1.035)" text-anchor="middle">75</text>
<line class="tk" x1="1059.1" y1="427.5" x2="1059.1" y2="443.9"/><text class="t" transform="translate(1059.1 492.5) scale(1 1.035)" text-anchor="middle">100</text>
<line class="tk" x1="1264.5" y1="427.5" x2="1264.5" y2="443.9"/><text class="t" transform="translate(1264.5 492.5) scale(1 1.035)" text-anchor="middle">125</text>
<line class="tk" x1="1470.0" y1="427.5" x2="1470.0" y2="443.9"/><text class="t" transform="translate(1470.0 492.5) scale(1 1.035)" text-anchor="middle">150</text>
<line class="tk" x1="1675.5" y1="427.5" x2="1675.5" y2="443.9"/><text class="t" transform="translate(1675.5 492.5) scale(1 1.035)" text-anchor="middle">175</text>
<line class="tk" x1="1880.9" y1="427.5" x2="1880.9" y2="443.9"/><text class="t" transform="translate(1880.9 492.5) scale(1 1.035)" text-anchor="middle">200</text>
<line class="tk" x1="140.8" y1="132.7" x2="157.2" y2="132.7"/><text class="t" transform="translate(125.1 148.7) scale(1 1.035)" text-anchor="end">2</text>
<line class="tk" x1="140.8" y1="313.1" x2="157.2" y2="313.1"/><text class="t" transform="translate(125.1 329.1) scale(1 1.035)" text-anchor="end">0</text>
<rect class="sp" x="157.2" y="130.3" width="1762.6" height="297.2"/>
<text class="y" transform="translate(72.7 278.9) rotate(-90) scale(1 1.03)" text-anchor="middle">x error(m)</text>
</g>
<g id="ax1">
<g clip-path="url(#c1)">
<path class="b" d="M237.3 620.7L238.3 623.0L239.3 625.3L240.3 627.6L241.3 629.8L242.3 632.1L243.3 634.2L244.3 636.4L245.3 638.5L246.3 640.6L247.3 642.5L248.3 644.3L249.3 646.1L250.3 648.1L251.3 650.2L252.3 652.8L253.3 655.8L254.3 659.2L255.3 662.9L256.3 667.0L257.3 671.3L258.3 675.9L259.3 680.6L260.3 685.4L261.3 690.7L262.3 696.4L263.3 702.5L264.3 708.8L265.3 715.3L266.3 721.9L267.3 728.7L268.3 735.8L269.3 743.1L270.3 750.5L271.3 758.2L272.3 766.3L273.3 774.4L274.3 782.0L275.3 789.4L276.3 796.7L277.3 803.7L278.3 810.2L279.3 816.2L280.3 821.4L281.3 826.1L282.3 830.6L283.3 834.6L284.3 838.0L285.3 840.7L286.3 843.2L287.3 845.6L288.3 847.5L289.3 848.7L290.3 849.0L291.3 848.9L292.3 848.7L293.3 848.4L294.3 848.1L295.3 847.7L296.3 847.3L297.3 846.9L298.3 846.3L299.3 845.7L300.3 844.9L301.3 844.1L302.3 843.3L303.3 842.5L304.3 841.8L305.3 841.2L306.3 840.5L307.3 839.9L308.3 839.2L309.3 838.6L310.3 838.0L311.3 837.4L312.3 836.9L313.3 836.3L314.3 835.7L315.3 835.1L316.3 834.6L317.3 834.1L318.3 833.6L319.3 833.2L320.2 832.9L321.2 832.6L322.2 832.3L323.2 832.1L324.2 831.8L325.2 831.6L326.2 831.4L327.2 831.2L328.2 831.1L329.2 831.0L330.2 831.0L331.2 831.0L332.2 831.1L333.2 831.1L334.2 831.2L335.2 831.3L336.2 831.4L337.2 831.5L338.2 831.7L339.2 831.8L340.2 831.9L341.2 832.1L342.2 832.2L343.2 832.3L344.2 832.4L345.2 832.5L346.2 832.6L347.2 832.8L348.2 832.9L349.2 833.0L350.2 833.1L351.2 833.3L352.2 833.4L353.2 833.5L354.2 833.6L355.2 833.7L356.2 833.8L357.2 833.9L358.2 834.0L359.2 834.0L360.2 834.0L361.2 834.0L362.2 834.0L363.2 834.0L364.2 834.0L365.2 834.0L366.2 834.0L367.2 834.0L368.2 834.0L369.2 833.9L370.2 833.9L371.2 833.9L372.2 833.9L373.2 833.9L374.2 833.9L375.2 833.9L376.2 833.8L377.2 833.8L378.2 833.8L379.2 833.8L380.2 833.8L381.2 833.8L382.2 833.7L383.2 833.7L384.2 833.7L385.2 833.7L386.2 833.7L387.2 833.7L388.2 833.6L389.2 833.6L390.2 833.6L391.2 833.6L392.2 833.6L393.2 833.6L394.2 833.6L395.2 833.5L396.2 833.5L397.2 833.5L398.2 833.5L399.2 833.5L400.2 833.5L401.2 833.5L402.2 833.5L403.2 833.5L404.2 833.5L405.2 833.5L406.2 833.5L407.2 833.5L408.2 833.5L409.2 833.5L410.2 833.4L411.2 833.4L412.2 833.4L413.2 833.4L414.2 833.4L415.2 833.4L416.2 833.4L417.2 833.4L418.2 833.4L419.2 833.4L420.2 833.4L421.2 833.4L422.2 833.4L423.2 833.4L424.2 833.4L425.2 833.4L426.2 833.4L427.2 833.4L428.2 833.4L429.2 833.4L430.2 833.4L431.2 833.4L432.2 833.3L433.2 833.3L434.2 833.3L435.2 833.3L436.2 833.3L437.2 833.3L438.2 833.3L439.2 833.3L440.2 833.3L441.2 833.3L442.2 833.3L443.2 833.3L444.2 833.3L445.2 833.3L446.2 833.3L447.2 833.3L448.2 833.3L449.2 833.3L450.2 833.3L451.2 833.3L452.2 833.3L453.2 833.3L454.2 833.3L455.2 833.3L456.2 833.3L457.2 833.3L458.2 833.3L459.2 833.3L460.2 833.3L461.2 833.3L462.2 833.2L463.2 833.2L464.2 833.2L465.2 833.2L466.2 833.2L467.2 833.2L468.2 833.2L469.2 833.2L470.2 833.2L471.2 833.2L472.2 833.2L473.2 833.2L474.2 833.2L475.2 833.2L476.2 833.2L477.2 833.2L478.2 833.2L479.2 833.2L480.2 833.2L481.2 833.2L482.2 833.2L483.2 833.2L484.1 833.2L485.1 833.2L486.1 833.2L487.1 833.2L488.1 833.2L489.1 833.2L490.1 833.2L491.1 833.2L492.1 833.2L493.1 833.2L494.1 833.2L495.1 833.2L496.1 833.2L497.1 833.2L498.1 833.2L499.1 833.2L500.1 833.2L501.1 833.2L502.1 833.2L503.1 833.2L504.1 833.2L505.1 833.2L506.1 833.2L507.1 833.2L508.1 833.2L509.1 833.2L510.1 833.2L511.1 833.2L512.1 833.2L513.1 833.2L514.1 833.2L515.1 833.2L516.1 833.2L517.1 833.2L518.1 833.2L519.1 833.2L520.1 833.2L521.1 833.2L522.1 833.2L523.1 833.2L524.1 833.2L525.1 833.2L526.1 833.2L527.1 833.2L528.1 833.2L529.1 833.2L530.1 833.2L531.1 833.2L532.1 833.2L533.1 833.2L534.1 833.2L535.1 833.2L536.1 833.2L537.1 833.2L538.1 833.2L539.1 833.2L540.1 833.2L541.1 833.2L542.1 833.2L543.1 833.2L544.1 833.2L545.1 833.2L546.1 833.2L547.1 833.2L548.1 833.2L549.1 833.2L550.1 833.2L551.1 833.2L552.1 833.2L553.1 833.2L554.1 833.2L555.1 833.2L556.1 833.2L557.1 833.2L558.1 833.2L559.1 833.2L560.1 833.2L561.1 833.2L562.1 833.2L563.1 833.2L564.1 833.2L565.1 833.2L566.1 833.2L567.1 833.2L568.1 833.2L569.1 833.2L570.1 833.2L571.1 833.2L572.1 833.2L573.1 833.2L574.1 833.2L575.1 833.2L576.1 833.2L577.1 833.2L578.1 833.2L579.1 833.2L580.1 833.2L581.1 833.2L582.1 833.2L583.1 833.2L584.1 833.2L585.1 833.2L586.1 833.2L587.1 833.2L588.1 833.2L589.1 833.2L590.1 833.2L591.1 833.2L592.1 833.2L593.1 833.2L594.1 833.2L595.1 833.2L596.1 833.2L597.1 833.2L598.1 833.2L599.1 833.2L600.1 833.2L601.1 833.2L602.1 833.2L603.1 833.2L604.1 833.2L605.1 833.2L606.1 833.2L607.1 833.2L608.1 833.2L609.1 833.2L610.1 833.2L611.1 833.2L612.1 833.2L613.1 833.2L614.1 833.2L615.1 833.2L616.1 833.2L617.1 833.2L618.1 833.2L619.1 833.2L620.1 833.2L621.1 833.2L622.1 833.2L623.1 833.2L624.1 833.2L625.1 833.2L626.1 833.2L627.1 833.2L628.1 833.2L629.1 833.2L630.1 833.2L631.1 833.2L632.1 833.2L633.1 833.2L634.1 833.2L635.1 833.2L636.1 833.2L637.1 833.2L638.1 833.2L639.1 833.2L640.1 833.2L641.1 833.2L642.1 833.2L643.1 833.2L644.1 833.2L645.1 833.2L646.1 833.2L647.1 833.2L648.0 833.2L649.0 833.2L650.0 833.2L651.0 833.2L652.0 833.2L653.0 833.2L654.0 833.2L655.0 833.2L656.0 833.2L657.0 833.2L658.0 833.2L659.0 833.2L660.0 833.2L661.0 833.2L662.0 833.2L663.0 833.2L664.0 833.2L665.0 833.2L666.0 833.2L667.0 833.2L668.0 833.2L669.0 833.2L670.0 833.2L671.0 833.2L672.0 833.2L673.0 833.2L674.0 833.2L675.0 833.2L676.0 833.2L677.0 833.2L678.0 833.2L679.0 833.2L680.0 833.2L681.0 833.2L682.0 833.2L683.0 833.2L684.0 833.2L685.0 833.2L686.0 833.2L687.0 833.2L688.0 833.2L689.0 833.2L690.0 833.2L691.0 833.2L692.0 833.2L693.0 833.2L694.0 833.2L695.0 833.2L696.0 833.2L697.0 833.2L698.0 833.2L699.0 833.2L700.0 833.2L701.0 833.2L702.0 833.2L703.0 833.2L704.0 833.2L705.0 833.2L706.0 833.2L707.0 833.2L708.0 833.2L709.0 833.2L710.0 833.2L711.0 833.2L712.0 833.2L713.0 833.2L714.0 833.2L715.0 833.2L716.0 833.2L717.0 833.2L718.0 833.2L719.0 833.2L720.0 833.2L721.0 833.2L722.0 833.2L723.0 833.2L724.0 833.2L725.0 833.2L726.0 833.2L727.0 833.2L728.0 833.2L729.0 833.2L730.0 833.2L731.0 833.2L732.0 833.2L733.0 833.2L734.0 833.2L735.0 833.2L736.0 833.2L737.0 833.2L738.0 833.2L739.0 833.2L740.0 833.2L741.0 833.2L742.0 833.2L743.0 833.2L744.0 833.2L745.0 833.2L746.0 833.2L747.0 833.2L748.0 833.2L749.0 833.2L750.0 833.2L751.0 833.2L752.0 833.2L753.0 833.2L754.0 833.2L755.0 833.2L756.0 833.2L757.0 833.2L758.0 833.2L759.0 833.2L760.0 833.2L761.0 833.2L762.0 833.2L763.0 833.2L764.0 833.2L765.0 833.2L766.0 833.2L767.0 833.2L768.0 833.2L769.0 833.2L770.0 833.2L771.0 833.2L772.0 833.2L773.0 833.2L774.0 833.2L775.0 833.2L776.0 833.2L777.0 833.2L778.0 833.2L779.0 833.2L780.0 833.3L781.0 833.3L782.0 833.3L783.0 833.3L784.0 833.3L785.0 833.3L786.0 833.3L787.0 833.3L788.0 833.3L789.0 833.3L790.0 833.3L791.0 833.3L792.0 833.3L793.0 833.3L794.0 833.3L795.0 833.3L796.0 833.3L797.0 833.3L798.0 833.3L799.0 833.3L800.0 833.3L801.0 833.3L802.0 833.3L803.0 833.3L804.0 833.3L805.0 833.3L806.0 833.3L807.0 833.3L808.0 833.3L809.0 833.3L810.0 833.3L811.0 833.3L812.0 833.3L812.9 833.3L813.9 833.3L814.9 833.3L815.9 833.3L816.9 833.3L817.9 833.3L818.9 833.3L819.9 833.3L820.9 833.3L821.9 833.3L822.9 833.3L823.9 833.3L824.9 833.3L825.9 833.3L826.9 833.3L827.9 833.3L828.9 833.3L829.9 833.3L830.9 833.3L831.9 833.3L832.9 833.3L833.9 833.3L834.9 833.3L835.9 833.3L836.9 833.3L837.9 833.3L838.9 833.3L839.9 833.3L840.9 833.3L841.9 833.3L842.9 833.3L843.9 833.3L844.9 833.3L845.9 833.3L846.9 833.3L847.9 833.3L848.9 833.3L849.9 833.3L850.9 833.3L851.9 833.3L852.9 833.3L853.9 833.3L854.9 833.3L855.9 833.3L856.9 833.3L857.9 833.3L858.9 833.3L859.9 833.3L860.9 833.3L861.9 833.3L862.9 833.3L863.9 833.3L864.9 833.3L865.9 833.3L866.9 833.3L867.9 833.3L868.9 833.3L869.9 833.3L870.9 833.3L871.9 833.3L872.9 833.3L873.9 833.3L874.9 833.3L875.9 833.3L876.9 833.3L877.9 833.3L878.9 833.3L879.9 833.3L880.9 833.3L881.9 833.3L882.9 833.3L883.9 833.3L884.9 833.3L885.9 833.3L886.9 833.3L887.9 833.3L888.9 833.3L889.9 833.3L890.9 833.3L891.9 833.3L892.9 833.3L893.9 833.3L894.9 833.3L895.9 833.3L896.9 833.3L897.9 833.3L898.9 833.3L899.9 833.3L900.9 833.3L901.9 833.3L902.9 833.3L903.9 833.4L904.9 833.4L905.9 833.4L906.9 833.4L907.9 833.4L908.9 833.4L909.9 833.4L910.9 833.4L911.9 833.4L912.9 833.4L913.9 833.4L914.9 833.4L915.9 833.4L916.9 833.4L917.9 833.4L918.9 833.4L919.9 833.4L920.9 833.4L921.9 833.4L922.9 833.4L923.9 833.4L924.9 833.4L925.9 833.4L926.9 833.4L927.9 833.4L928.9 833.4L929.9 833.4L930.9 833.4L931.9 833.4L932.9 833.4L933.9 833.4L934.9 833.4L935.9 833.4L936.9 833.4L937.9 833.4L938.9 833.4L939.9 833.4L940.9 833.4L941.9 833.4L942.9 833.4L943.9 833.4L944.9 833.4L945.9 833.4L946.9 833.4L947.9 833.4L948.9 833.4L949.9 833.4L950.9 833.4L951.9 833.4L952.9 833.4L953.9 833.4L954.9 833.4L955.9 833.4L956.9 833.4L957.9 833.4L958.9 833.4L959.9 833.4L960.9 833.4L961.9 833.4L962.9 833.4L963.9 833.4L964.9 833.4L965.9 833.4L966.9 833.4L967.9 833.4L968.9 833.4L969.9 833.4L970.9 833.4L971.9 833.4L972.9 833.4L973.9 833.4L974.9 833.4L975.9 833.4L976.8 833.4L977.8 833.5L978.8 833.5L979.8 833.5L980.8 833.5L981.8 833.5L982.8 833.5L983.8 833.5L984.8 833.5L985.8 833.5L986.8 833.5L987.8 833.5L988.8 833.5L989.8 833.5L990.8 833.5L991.8 833.5L992.8 833.5L993.8 833.5L994.8 833.5L995.8 833.5L996.8 833.5L997.8 833.5L998.8 833.5L999.8 833.5L1000.8 833.5L1001.8 833.5L1002.8 833.5L1003.8 833.5L1004.8 833.5L1005.8 833.5L1006.8 833.5L1007.8 833.5L1008.8 833.5L1009.8 833.5L1010.8 833.5L1011.8 833.5L1012.8 833.5L1013.8 833.5L1014.8 833.5L1015.8 833.5L1016.8 833.5L1017.8 833.5L1018.8 833.5L1019.8 833.5L1020.8 833.5L1021.8 833.5L1022.8 833.5L1023.8 833.5L1024.8 833.5L1025.8 833.5L1026.8 833.5L1027.8 833.5L1028.8 833.5L1029.8 833.5L1030.8 833.5L1031.8 833.5L1032.8 833.5L1033.8 833.5L1034.8 833.6L1035.8 833.6L1036.8 833.6L1037.8 833.6L1038.8 833.6L1039.8 833.6L1040.8 833.6L1041.8 833.6L1042.8 833.6L1043.8 833.6L1044.8 833.6L1045.8 833.6L1046.8 833.6L1047.8 833.6L1048.8 833.6L1049.8 833.6L1050.8 833.6L1051.8 833.6L1052.8 833.6L1053.8 833.6L1054.8 833.6L1055.8 833.6L1056.8 833.6L1057.8 833.6L1058.8 833.6L1059.8 832.4L1060.8 830.5L1061.8 827.5L1062.8 823.2L1063.8 818.8L1064.8 815.0L1065.8 811.3L1066.8 808.4L1067.8 806.6L1068.8 805.1L1069.8 804.0L1070.8 803.6L1071.8 804.7L1072.8 807.3L1073.8 810.8L1074.8 814.3L1075.8 817.4L1076.8 820.7L1077.8 824.1L1078.8 827.6L1079.8 831.0L1080.8 834.3L1081.8 837.6L1082.8 841.0L1083.8 844.1L1084.8 846.6L1085.8 848.3L1086.8 850.0L1087.8 851.2L1088.8 851.7L1089.8 851.1L1090.8 849.6L1091.8 847.6L1092.8 845.5L1093.8 843.5L1094.8 841.2L1095.8 838.7L1096.8 836.2L1097.8 833.8L1098.7 831.3L1099.7 828.7L1100.7 826.3L1101.7 824.4L1102.7 823.0L1103.7 821.6L1104.7 820.6L1105.7 820.0L1106.7 820.1L1107.7 820.4L1108.7 820.9L1109.7 821.5L1110.7 822.2L1111.7 822.8L1112.7 823.5L1113.7 824.3L1114.7 825.1L1115.7 826.1L1116.7 827.0L1117.7 827.9L1118.7 828.7L1119.7 829.3L1120.7 829.9L1121.7 830.4L1122.7 830.8L1123.7 831.3L1124.7 831.7L1125.7 832.0L1126.7 832.4L1127.7 832.8L1128.7 833.2L1129.7 833.6L1130.7 833.9L1131.7 834.2L1132.7 834.3L1133.7 834.3L1134.7 834.2L1135.7 834.2L1136.7 834.1L1137.7 834.0L1138.7 833.9L1139.7 833.9L1140.7 833.9L1141.7 833.9L1142.7 833.9L1143.7 833.9L1144.7 833.9L1145.7 833.9L1146.7 833.9L1147.7 833.9L1148.7 833.9L1149.7 833.9L1150.7 833.9L1151.7 833.9L1152.7 833.9L1153.7 833.9L1154.7 833.8L1155.7 833.8L1156.7 833.8L1157.7 833.8L1158.7 833.8L1159.7 833.8L1160.7 833.8L1161.7 833.8L1162.7 833.8L1163.7 833.8L1164.7 833.8L1165.7 833.8L1166.7 833.8L1167.7 833.8L1168.7 833.8L1169.7 833.8L1170.7 833.8L1171.7 833.8L1172.7 833.8L1173.7 833.8L1174.7 833.8L1175.7 833.8L1176.7 833.8L1177.6 833.8L1178.6 833.8L1179.6 833.8L1180.6 833.8L1181.6 833.8L1182.6 833.8L1183.6 833.8L1184.6 833.8L1185.6 833.8L1186.6 833.8L1187.6 833.8L1188.6 833.8L1189.6 833.8L1190.6 833.8L1191.6 833.8L1192.6 833.8L1193.6 833.8L1194.6 833.8L1195.6 833.8L1196.6 833.8L1197.6 833.8L1198.6 833.8L1199.6 833.8L1200.6 833.8L1201.6 833.8L1202.6 833.8L1203.6 833.8L1204.6 833.8L1205.6 833.8L1206.6 833.8L1207.6 833.8L1208.6 833.8L1209.6 833.8L1210.6 833.8L1211.6 833.8L1212.6 833.8L1213.6 833.8L1214.6 833.8L1215.6 833.8L1216.6 833.8L1217.6 833.8L1218.6 833.8L1219.6 833.8L1220.6 833.8L1221.6 833.8L1222.6 833.8L1223.6 833.8L1224.6 833.8L1225.6 833.8L1226.6 833.8L1227.6 833.8L1228.6 833.8L1229.6 833.8L1230.6 833.8L1231.6 833.8L1232.6 833.8L1233.6 833.8L1234.6 833.8L1235.6 833.8L1236.6 833.8L1237.6 833.8L1238.6 833.8L1239.6 833.8L1240.6 833.8L1241.6 833.8L1242.6 833.8L1243.6 833.8L1244.6 833.8L1245.6 833.8L1246.6 833.8L1247.6 833.8L1248.6 833.8L1249.6 833.8L1250.6 833.8L1251.6 833.8L1252.6 833.8L1253.6 833.8L1254.6 833.8L1255.6 833.8L1256.5 833.8L1257.5 833.8L1258.5 833.8L1259.5 833.8L1260.5 833.8L1261.5 833.8L1262.5 833.8L1263.5 833.8L1264.5 833.8L1265.5 833.8L1266.5 833.8L1267.5 833.8L1268.5 833.8L1269.5 833.8L1270.5 833.8L1271.5 833.8L1272.5 833.8L1273.5 833.8L1274.5 833.8L1275.5 833.8L1276.5 833.8L1277.5 833.8L1278.5 833.8L1279.5 833.8L1280.5 833.8L1281.5 833.8L1282.5 833.8L1283.5 833.8L1284.5 833.8L1285.5 833.8L1286.5 833.8L1287.5 833.8L1288.5 833.8L1289.5 833.8L1290.5 833.8L1291.5 833.8L1292.5 833.8L1293.5 833.8L1294.5 833.8L1295.5 833.8L1296.5 833.8L1297.5 833.8L1298.5 833.8L1299.5 833.8L1300.5 833.8L1301.5 833.8L1302.5 833.8L1303.5 833.8L1304.5 833.8L1305.5 833.8L1306.5 833.8L1307.5 833.8L1308.5 833.8L1309.5 833.8L1310.5 833.8L1311.5 833.8L1312.5 833.8L1313.5 833.8L1314.5 833.8L1315.5 833.8L1316.5 833.8L1317.5 833.8L1318.5 833.8L1319.5 833.8L1320.5 833.8L1321.5 833.8L1322.5 833.8L1323.5 833.8L1324.5 833.8L1325.5 833.8L1326.5 833.8L1327.5 833.8L1328.5 833.8L1329.5 833.8L1330.5 833.8L1331.5 833.8L1332.5 833.8L1333.5 833.8L1334.5 833.8L1335.4 833.8L1336.4 833.8L1337.4 833.8L1338.4 833.8L1339.4 833.8L1340.4 833.8L1341.4 833.8L1342.4 833.8L1343.4 833.8L1344.4 833.8L1345.4 833.8L1346.4 833.8L1347.4 833.8L1348.4 833.8L1349.4 833.8L1350.4 833.8L1351.4 833.8L1352.4 833.8L1353.4 833.8L1354.4 833.8L1355.4 833.8L1356.4 833.8L1357.4 833.8L1358.4 833.8L1359.4 833.8L1360.4 833.8L1361.4 833.8L1362.4 833.8L1363.4 833.8L1364.4 833.8L1365.4 833.8L1366.4 833.8L1367.4 833.8L1368.4 833.8L1369.4 833.8L1370.4 833.8L1371.4 833.8L1372.4 833.8L1373.4 833.8L1374.4 833.8L1375.4 833.8L1376.4 833.8L1377.4 833.8L1378.4 833.8L1379.4 833.8L1380.4 833.8L1381.4 833.8L1382.4 833.8L1383.4 833.8L1384.4 833.8L1385.4 833.8L1386.4 833.8L1387.4 833.8L1388.4 833.8L1389.4 833.8L1390.4 833.8L1391.4 833.8L1392.4 833.8L1393.4 833.8L1394.4 833.8L1395.4 833.8L1396.4 833.8L1397.4 833.8L1398.4 833.8L1399.4 833.8L1400.4 833.8L1401.4 833.8L1402.4 833.8L1403.4 833.8L1404.4 833.8L1405.4 833.8L1406.4 833.8L1407.4 833.8L1408.4 833.8L1409.4 833.8L1410.4 833.8L1411.4 833.8L1412.4 833.8L1413.4 833.8L1414.3 833.8L1415.3 833.8L1416.3 833.8L1417.3 833.8L1418.3 833.8L1419.3 833.8L1420.3 833.8L1421.3 833.8L1422.3 833.8L1423.3 833.8L1424.3 833.8L1425.3 833.8L1426.3 833.8L1427.3 833.8L1428.3 833.8L1429.3 833.8L1430.3 833.8L1431.3 833.8L1432.3 833.8L1433.3 833.8L1434.3 833.8L1435.3 833.8L1436.3 833.8L1437.3 833.8L1438.3 833.8L1439.3 833.8L1440.3 833.8L1441.3 833.8L1442.3 833.8L1443.3 833.8L1444.3 833.8L1445.3 833.8L1446.3 833.8L1447.3 833.8L1448.3 833.8L1449.3 833.8L1450.3 833.8L1451.3 833.8L1452.3 833.8L1453.3 833.8L1454.3 833.8L1455.3 833.8L1456.3 833.8L1457.3 833.8L1458.3 833.8L1459.3 833.8L1460.3 833.8L1461.3 833.8L1462.3 833.8L1463.3 833.8L1464.3 833.8L1465.3 833.8L1466.3 833.8L1467.3 833.8L1468.3 833.8L1469.3 833.8L1470.3 833.8L1471.3 833.8L1472.3 833.8L1473.3 833.8L1474.3 833.8L1475.3 833.8L1476.3 833.8L1477.3 833.8L1478.3 833.8L1479.3 833.8L1480.3 833.8L1481.3 833.8L1482.3 833.8L1483.3 833.8L1484.3 833.8L1485.3 833.8L1486.3 833.8L1487.3 833.8L1488.3 833.8L1489.3 833.8L1490.3 833.8L1491.3 833.8L1492.3 833.8L1493.2 833.8L1494.2 833.8L1495.2 833.8L1496.2 833.8L1497.2 833.8L1498.2 833.8L1499.2 833.8L1500.2 833.8L1501.2 833.8L1502.2 833.8L1503.2 833.8L1504.2 833.8L1505.2 833.8L1506.2 833.8L1507.2 833.8L1508.2 833.8L1509.2 833.8L1510.2 833.8L1511.2 833.8L1512.2 833.8L1513.2 833.8L1514.2 833.8L1515.2 833.8L1516.2 833.8L1517.2 833.8L1518.2 833.8L1519.2 833.8L1520.2 833.8L1521.2 833.8L1522.2 833.8L1523.2 833.8L1524.2 833.8L1525.2 833.8L1526.2 833.8L1527.2 833.8L1528.2 833.8L1529.2 833.8L1530.2 833.8L1531.2 833.8L1532.2 833.8L1533.2 833.8L1534.2 833.8L1535.2 833.8L1536.2 833.8L1537.2 833.8L1538.2 833.8L1539.2 833.8L1540.2 833.8L1541.2 833.8L1542.2 833.8L1543.2 833.8L1544.2 833.8L1545.2 833.8L1546.2 833.8L1547.2 833.8L1548.2 833.8L1549.2 833.8L1550.2 833.8L1551.2 833.8L1552.2 833.8L1553.2 833.8L1554.2 833.8L1555.2 833.8L1556.2 833.8L1557.2 833.8L1558.2 833.8L1559.2 833.8L1560.2 833.8L1561.2 833.8L1562.2 833.8L1563.2 833.8L1564.2 833.8L1565.2 833.8L1566.2 833.8L1567.2 833.8L1568.2 833.8L1569.2 833.8L1570.2 833.8L1571.2 833.8L1572.1 833.8L1573.1 833.8L1574.1 833.8L1575.1 833.8L1576.1 833.8L1577.1 833.8L1578.1 833.8L1579.1 833.8L1580.1 833.8L1581.1 833.8L1582.1 833.8L1583.1 833.8L1584.1 833.8L1585.1 833.8L1586.1 833.8L1587.1 833.8L1588.1 833.8L1589.1 833.8L1590.1 833.8L1591.1 833.8L1592.1 833.8L1593.1 833.8L1594.1 833.8L1595.1 833.8L1596.1 833.8L1597.1 833.8L1598.1 833.8L1599.1 833.8L1600.1 833.8L1601.1 833.8L1602.1 833.8L1603.1 833.8L1604.1 833.8L1605.1 833.8L1606.1 833.8L1607.1 833.8L1608.1 833.8L1609.1 833.8L1610.1 833.8L1611.1 833.8L1612.1 833.8L1613.1 833.8L1614.1 833.8L1615.1 833.8L1616.1 833.8L1617.1 833.8L1618.1 833.8L1619.1 833.8L1620.1 833.8L1621.1 833.8L1622.1 833.8L1623.1 833.8L1624.1 833.8L1625.1 833.8L1626.1 833.8L1627.1 833.8L1628.1 833.8L1629.1 833.8L1630.1 833.8L1631.1 833.8L1632.1 833.8L1633.1 833.8L1634.1 833.8L1635.1 833.8L1636.1 833.8L1637.1 833.8L1638.1 833.8L1639.1 833.8L1640.1 833.8L1641.1 833.8L1642.1 833.8L1643.1 833.8L1644.1 833.8L1645.1 833.8L1646.1 833.8L1647.1 833.8L1648.1 833.8L1649.1 833.8L1650.1 833.8L1651.0 833.8L1652.0 833.8L1653.0 833.8L1654.0 833.8L1655.0 833.8L1656.0 833.8L1657.0 833.8L1658.0 833.8L1659.0 833.8L1660.0 833.8L1661.0 833.8L1662.0 833.8L1663.0 833.8L1664.0 833.8L1665.0 833.8L1666.0 833.8L1667.0 833.8L1668.0 833.8L1669.0 833.8L1670.0 833.8L1671.0 833.8L1672.0 833.8L1673.0 833.8L1674.0 833.8L1675.0 833.8L1676.0 833.8L1677.0 833.8L1678.0 833.8L1679.0 833.8L1680.0 833.8L1681.0 833.8L1682.0 833.8L1683.0 833.8L1684.0 833.8L1685.0 833.8L1686.0 833.8L1687.0 833.8L1688.0 833.8L1689.0 833.8L1690.0 833.8L1691.0 833.8L1692.0 833.8L1693.0 833.8L1694.0 833.8L1695.0 833.8L1696.0 833.8L1697.0 833.8L1698.0 833.8L1699.0 833.8L1700.0 833.8L1701.0 833.8L1702.0 833.8L1703.0 833.8L1704.0 833.8L1705.0 833.8L1706.0 833.8L1707.0 833.8L1708.0 833.9L1709.0 833.9L1710.0 833.9L1711.0 833.9L1712.0 833.9L1713.0 833.9L1714.0 833.9L1715.0 833.9L1716.0 833.9L1717.0 833.9L1718.0 833.9L1719.0 833.9L1720.0 833.9L1721.0 833.9L1722.0 833.9L1723.0 833.9L1724.0 833.9L1725.0 833.9L1726.0 833.9L1727.0 833.9L1728.0 833.9L1729.0 833.9L1729.9 833.9L1730.9 833.9L1731.9 833.9L1732.9 833.9L1733.9 833.9L1734.9 833.9L1735.9 833.9L1736.9 833.9L1737.9 833.9L1738.9 833.9L1739.9 833.9L1740.9 833.9L1741.9 833.9L1742.9 833.9L1743.9 833.9L1744.9 833.9L1745.9 833.9L1746.9 833.9L1747.9 833.9L1748.9 833.9L1749.9 833.9L1750.9 833.9L1751.9 833.9L1752.9 833.9L1753.9 833.9L1754.9 833.9L1755.9 833.9L1756.9 833.9L1757.9 833.9L1758.9 833.9L1759.9 833.9L1760.9 833.9L1761.9 833.9L1762.9 833.9L1763.9 833.9L1764.9 833.9L1765.9 833.9L1766.9 833.9L1767.9 833.9L1768.9 833.9L1769.9 833.9L1770.9 833.9L1771.9 833.9L1772.9 833.9L1773.9 833.9L1774.9 833.9L1775.9 833.9L1776.9 833.9L1777.9 833.9L1778.9 833.9L1779.9 833.9L1780.9 833.9L1781.9 833.9L1782.9 833.9L1783.9 833.9L1784.9 833.9L1785.9 833.9L1786.9 833.9L1787.9 833.9L1788.9 833.9L1789.9 833.9L1790.9 833.9L1791.9 833.9L1792.9 833.9L1793.9 833.9L1794.9 833.9L1795.9 833.9L1796.9 833.9L1797.9 833.9L1798.9 833.9L1799.9 833.9L1800.9 833.9L1801.9 833.9L1802.9 833.9L1803.9 833.9L1804.9 833.9L1805.9 833.9L1806.9 833.9L1807.9 833.9L1808.8 833.9L1809.8 833.9L1810.8 833.9L1811.8 833.9L1812.8 833.9L1813.8 833.9L1814.8 833.9L1815.8 833.9L1816.8 833.9L1817.8 833.9L1818.8 833.9L1819.8 833.9L1820.8 833.9L1821.8 833.9L1822.8 833.9L1823.8 833.9L1824.8 833.9L1825.8 833.9L1826.8 833.9L1827.8 833.9L1828.8 833.9L1829.8 833.9L1830.8 833.9L1831.8 833.9L1832.8 833.9L1833.8 833.9L1834.8 833.9L1835.8 833.9L1836.8 833.9L1837.8 833.9L1838.8 833.9L1839.8 833.9"/>
<path class="g" d="M237.3 620.7L238.3 627.7L239.3 634.8L240.3 642.1L241.3 649.4L242.3 656.8L243.3 664.3L244.3 672.1L245.3 680.1L246.3 688.4L247.3 696.8L248.2 705.2L249.2 713.7L250.2 722.0L251.2 730.5L252.2 739.2L253.2 747.8L254.2 756.2L255.2 764.1L256.2 771.5L257.2 778.6L258.2 785.4L259.2 792.1L260.2 798.5L261.2 804.6L262.2 810.4L263.2 815.8L264.2 820.8L265.2 825.6L266.2 830.2L267.2 834.7L268.2 838.9L269.1 842.8L270.1 846.4L271.1 849.6L272.1 852.4L273.1 855.1L274.1 857.8L275.1 860.2L276.1 862.3L277.1 863.6L278.1 864.0L279.1 863.9L280.1 863.7L281.1 863.3L282.1 862.9L283.1 862.5L284.1 862.0L285.1 861.3L286.1 860.5L287.1 859.5L288.1 858.4L289.1 857.2L290.0 855.9L291.0 854.6L292.0 853.2L293.0 851.7L294.0 850.0L295.0 848.3L296.0 846.4L297.0 844.4L298.0 842.4L299.0 840.2L300.0 838.0L301.0 836.2L302.0 834.5L303.0 832.8L304.0 831.1L305.0 829.5L306.0 828.0L307.0 826.5L308.0 825.2L309.0 824.0L310.0 822.9L311.0 822.0L312.0 821.2L313.0 820.5L314.0 819.9L315.0 819.5L316.0 819.2L317.0 819.0L318.0 819.0L319.0 819.1L320.0 819.3L321.0 819.6L322.0 820.0L323.0 820.5L324.0 821.0L325.0 821.7L326.0 822.4L327.0 823.2L328.0 824.0L329.0 824.9L330.0 825.8L331.0 826.7L332.0 827.7L333.0 828.7L334.0 829.8L335.0 830.8L336.0 831.9L337.0 832.9L338.0 834.0L339.0 835.1L340.0 836.1L341.0 837.2L342.0 838.2L343.0 839.2L344.0 840.2L345.0 841.1L346.0 842.1L347.0 843.0L348.0 843.9L349.0 844.7L350.0 845.5L351.0 846.2L352.0 846.8L353.0 847.3L354.0 847.7L355.0 847.9L356.0 848.0L357.0 847.9L358.0 847.7L359.0 847.4L360.0 847.0L361.0 846.4L362.0 845.8L363.0 845.1L364.0 844.4L365.0 843.6L366.0 842.8L367.0 842.0L368.0 841.2L369.0 840.4L370.0 839.7L371.0 838.9L372.0 838.2L373.0 837.5L374.0 836.8L375.0 836.1L376.0 835.4L377.0 834.7L378.0 834.0L379.0 833.3L380.0 832.7L381.0 832.0L382.0 831.4L383.0 830.9L384.0 830.3L385.0 829.8L386.0 829.4L387.0 829.0L388.0 828.6L389.0 828.4L390.0 828.2L391.0 828.0L392.0 828.0L393.0 828.0L394.0 828.2L395.0 828.4L396.0 828.6L397.0 828.9L398.0 829.3L399.0 829.7L400.0 830.1L401.0 830.6L402.0 831.1L403.0 831.6L404.0 832.1L405.0 832.6L406.0 833.1L407.0 833.6L408.0 834.0L409.0 834.4L410.0 834.8L411.0 835.2L412.0 835.5L413.0 835.8L414.0 836.1L415.0 836.4L416.0 836.6L417.0 836.8L418.0 837.1L419.0 837.3L420.0 837.5L421.0 837.7L422.0 837.9L423.0 838.1L424.0 838.3L425.0 838.4L426.0 838.6L427.0 838.7L428.0 838.8L429.0 838.9L430.0 839.0L431.0 839.0L432.0 839.0L433.0 839.0L434.0 838.9L435.0 838.8L436.0 838.7L437.0 838.5L438.0 838.3L439.0 838.1L440.0 837.9L441.0 837.6L442.0 837.3L443.0 837.0L444.0 836.7L445.0 836.4L446.0 836.1L447.0 835.8L448.0 835.4L449.0 835.1L450.0 834.7L451.0 834.4L452.0 834.0L453.0 833.6L454.0 833.3L455.0 832.9L456.0 832.6L457.0 832.3L458.0 832.0L459.0 831.7L460.0 831.4L461.0 831.1L462.0 830.9L463.0 830.7L464.0 830.5L465.0 830.3L466.0 830.2L467.0 830.1L468.0 830.0L469.0 830.0L470.0 830.0L471.0 830.1L472.0 830.1L473.0 830.3L474.0 830.4L475.0 830.6L476.0 830.8L477.0 831.1L478.0 831.3L479.0 831.6L480.0 831.9L481.0 832.3L482.0 832.6L483.0 832.9L484.0 833.3L485.0 833.6L486.0 834.0L487.0 834.4L488.0 834.7L489.0 835.1L490.0 835.4L491.0 835.7L492.0 836.1L493.0 836.4L494.0 836.7L495.0 836.9L496.0 837.2L497.0 837.4L498.0 837.6L499.0 837.7L500.0 837.9L501.0 838.0L502.0 838.0L503.0 838.0L504.0 838.0L505.0 837.9L506.0 837.8L507.0 837.7L508.0 837.5L509.0 837.3L510.0 837.0L511.0 836.7L512.0 836.4L513.0 836.1L514.0 835.8L515.0 835.4L516.0 835.1L517.0 834.7L518.0 834.4L519.0 834.0L520.0 833.6L521.0 833.3L522.0 832.9L523.0 832.6L524.0 832.2L525.0 831.9L526.0 831.6L527.0 831.3L528.0 831.0L529.0 830.7L530.0 830.5L531.0 830.2L532.0 830.0L533.0 829.8L534.0 829.6L535.0 829.4L536.0 829.3L537.0 829.2L538.0 829.1L539.0 829.0L540.0 828.9L541.0 828.9L542.0 829.0L543.0 829.0L544.0 829.1L545.0 829.2L546.0 829.3L547.0 829.5L548.0 829.7L549.0 829.9L550.0 830.1L551.0 830.4L552.0 830.7L553.0 831.0L554.0 831.3L555.0 831.6L556.0 831.9L557.0 832.2L558.0 832.6L559.0 832.9L560.0 833.3L561.0 833.6L562.0 834.0L563.0 834.4L564.0 834.7L565.0 835.0L566.0 835.4L567.0 835.7L568.0 836.0L569.0 836.3L570.0 836.6L571.0 836.8L572.0 837.1L573.0 837.3L574.0 837.5L575.0 837.6L576.0 837.8L577.0 837.9L578.0 838.0L579.0 838.0L580.0 838.0L581.0 838.0L582.0 837.9L583.0 837.8L584.0 837.6L585.0 837.5L586.0 837.3L587.0 837.0L588.0 836.8L589.0 836.5L590.0 836.3L591.0 836.0L592.0 835.6L593.0 835.3L594.0 835.0L595.0 834.7L596.0 834.3L597.0 834.0L598.0 833.7L599.0 833.3L600.0 833.0L601.0 832.7L602.0 832.4L603.0 832.1L604.0 831.8L605.0 831.5L606.0 831.3L607.0 831.0L608.0 830.8L609.0 830.5L610.0 830.3L611.0 830.1L612.0 829.9L613.0 829.8L614.0 829.6L615.0 829.5L616.0 829.4L617.0 829.2L618.0 829.2L619.0 829.1L620.0 829.0L621.0 829.0L622.0 829.0L623.0 829.0L624.0 829.0L625.0 829.0L626.0 829.1L627.0 829.2L628.0 829.3L629.0 829.4L630.0 829.5L631.0 829.6L632.0 829.8L633.0 829.9L634.0 830.1L635.0 830.3L636.0 830.4L637.0 830.6L638.0 830.8L639.0 831.0L640.0 831.2L641.0 831.3L642.0 831.5L643.0 831.7L644.0 831.8L645.0 832.0L646.0 832.1L647.0 832.3L648.0 832.4L649.0 832.5L650.0 832.7L651.0 832.8L652.0 832.9L653.0 833.0L654.0 833.1L655.0 833.2L656.0 833.3L657.0 833.3L658.0 833.4L659.0 833.5L660.0 833.6L661.0 833.6L662.0 833.6L663.0 833.6L664.0 833.6L665.0 833.6L666.0 833.6L667.0 833.6L668.0 833.6L669.0 833.6L670.0 833.6L671.0 833.6L672.0 833.6L673.0 833.6L674.0 833.6L675.0 833.6L676.0 833.6L677.0 833.6L678.0 833.6L679.0 833.6L680.0 833.6L681.0 833.6L682.0 833.6L683.0 833.6L684.0 833.6L685.0 833.6L686.0 833.6L687.0 833.6L688.0 833.6L689.0 833.6L690.0 833.6L691.0 833.6L692.0 833.6L693.0 833.6L694.0 833.6L695.0 833.6L696.0 833.6L697.0 833.6L698.0 833.6L699.0 833.6L700.0 833.6L701.0 833.6L702.0 833.6L703.0 833.6L704.0 833.6L705.0 833.6L706.0 833.6L707.0 833.6L708.0 833.6L709.0 833.5L710.0 833.5L711.0 833.5L712.0 833.5L713.0 833.5L714.0 833.5L715.0 833.5L716.0 833.5L717.0 833.4L718.0 833.4L719.0 833.4L720.0 833.4L721.0 833.4L722.0 833.4L723.0 833.3L724.0 833.3L725.0 833.3L726.0 833.3L727.0 833.3L728.0 833.2L729.0 833.2L730.0 833.2L731.0 833.2L732.0 833.2L733.0 833.2L734.0 833.1L735.0 833.1L736.0 833.1L737.0 833.1L738.0 833.1L739.0 833.1L740.0 833.1L741.0 833.1L742.0 833.0L743.0 833.0L744.0 833.0L745.0 833.0L746.0 833.0L747.0 833.0L748.0 833.0L749.0 833.0L750.0 833.0L751.0 833.0L752.0 833.0L753.0 833.0L754.0 833.0L755.0 833.0L756.0 833.0L757.0 833.0L758.0 833.0L759.0 833.0L760.0 833.0L761.0 833.0L762.0 833.1L763.0 833.1L764.0 833.1L765.0 833.1L766.0 833.1L767.0 833.1L768.0 833.1L769.0 833.1L770.0 833.1L771.0 833.2L772.0 833.2L773.0 833.2L774.0 833.2L775.0 833.2L776.0 833.2L777.0 833.2L778.0 833.2L779.0 833.2L780.0 833.3L781.0 833.3L782.0 833.3L783.0 833.3L784.0 833.3L785.0 833.3L786.0 833.3L787.0 833.3L788.0 833.3L789.0 833.4L790.0 833.4L791.0 833.4L792.0 833.4L793.0 833.4L794.0 833.4L795.0 833.4L796.0 833.4L797.0 833.4L798.0 833.4L799.0 833.4L800.0 833.4L801.0 833.4L802.0 833.4L803.0 833.4L804.0 833.4L805.0 833.4L806.0 833.4L807.0 833.4L808.0 833.4L809.0 833.4L810.0 833.4L811.0 833.4L812.0 833.4L813.0 833.4L814.0 833.4L815.0 833.4L816.0 833.4L817.0 833.4L818.0 833.3L819.0 833.3L820.0 833.3L821.0 833.3L822.0 833.3L823.0 833.3L824.0 833.3L825.0 833.3L826.0 833.3L827.0 833.3L828.0 833.3L829.0 833.3L830.0 833.3L831.0 833.2L832.0 833.2L833.0 833.2L834.0 833.2L835.0 833.2L836.0 833.2L837.0 833.2L838.0 833.2L839.0 833.2L840.0 833.1L841.0 833.1L842.0 833.1L843.0 833.1L844.0 833.1L845.0 833.1L846.0 833.1L847.0 833.0L848.0 833.0L849.0 833.0L850.0 833.0L851.0 833.0L852.0 832.9L853.0 832.9L854.0 832.8L855.0 832.7L856.0 832.7L857.0 832.6L858.0 832.5L859.0 832.4L860.0 832.2L861.0 832.1L862.0 832.0L863.0 831.9L864.0 831.7L865.0 831.6L866.0 831.5L867.0 831.4L868.0 831.3L869.0 831.2L870.0 831.1L871.0 831.0L872.0 830.9L873.0 830.8L874.0 830.7L875.0 830.7L876.0 830.6L877.0 830.6L878.0 830.6L879.0 830.6L880.0 830.7L881.0 830.7L882.0 830.8L883.0 830.9L884.0 831.1L885.0 831.2L886.0 831.4L887.0 831.5L888.0 831.7L889.0 831.9L890.0 832.0L891.0 832.2L892.0 832.4L893.0 832.5L894.0 832.7L895.0 832.8L896.0 832.9L897.0 833.0L898.0 833.1L899.0 833.2L900.0 833.2L901.0 833.2L902.0 833.2L903.0 833.2L904.0 833.2L905.0 833.2L906.0 833.2L907.0 833.3L908.0 833.3L909.0 833.3L910.0 833.3L911.0 833.3L912.0 833.3L913.0 833.3L914.0 833.3L915.0 833.3L916.0 833.3L917.0 833.3L918.0 833.3L919.0 833.3L920.0 833.3L921.0 833.3L922.0 833.3L923.0 833.3L924.0 833.4L925.0 833.4L926.0 833.4L927.0 833.4L928.0 833.4L929.0 833.4L930.0 833.4L931.0 833.4L932.0 833.4L933.0 833.4L934.0 833.4L935.0 833.4L936.0 833.4L937.0 833.4L938.0 833.4L939.0 833.4L940.0 833.4L941.0 833.4L942.0 833.4L943.0 833.4L944.0 833.4L945.0 833.4L946.0 833.4L947.0 833.4L948.0 833.4L949.0 833.4L950.0 833.4L951.0 833.4L952.0 833.4L953.0 833.4L954.0 833.4L955.0 833.4L956.0 833.4L957.0 833.4L958.0 833.4L959.0 833.4L960.0 833.4L961.0 833.4L962.0 833.4L963.0 833.4L964.0 833.4L965.0 833.4L966.0 833.4L967.0 833.4L968.0 833.3L969.0 833.3L970.0 833.3L970.9 833.3L971.9 833.3L972.9 833.3L973.9 833.3L974.9 833.3L975.9 833.3L976.9 833.3L977.9 833.3L978.9 833.3L979.9 833.3L980.9 833.2L981.9 833.2L982.9 833.2L983.9 833.2L984.9 833.2L985.9 833.2L986.9 833.2L987.9 833.2L988.9 833.2L989.9 833.1L990.9 833.1L991.9 833.1L992.9 833.1L993.9 833.1L994.9 833.1L995.9 833.1L996.9 833.0L997.9 833.0L998.9 833.0L999.9 833.0L1000.9 833.0L1001.9 832.9L1002.9 832.9L1003.9 832.8L1004.9 832.7L1005.9 832.6L1006.9 832.5L1007.9 832.3L1008.9 832.2L1009.9 832.1L1010.9 831.9L1011.9 831.8L1012.9 831.6L1013.9 831.4L1014.9 831.3L1015.9 831.1L1016.9 831.0L1017.9 830.8L1018.9 830.7L1019.9 830.5L1020.9 830.4L1021.9 830.3L1022.9 830.1L1023.9 830.0L1024.9 830.0L1025.9 829.9L1026.9 829.8L1027.9 829.8L1028.9 829.8L1029.9 829.8L1030.9 829.8L1031.9 829.9L1032.9 830.0L1033.9 830.0L1034.9 830.1L1035.9 830.2L1036.9 830.3L1037.9 830.5L1038.9 830.6L1039.9 830.7L1040.9 830.8L1041.9 830.9L1042.9 831.1L1043.9 831.2L1044.9 831.3L1045.9 831.3L1046.9 831.4L1047.9 831.5L1048.9 831.5L1049.9 831.5L1050.9 831.5L1051.9 831.5L1052.9 831.5L1053.9 831.5L1054.9 831.5L1055.9 831.5L1056.9 831.5L1057.9 831.5L1058.9 829.5L1059.9 825.3L1060.9 820.7L1061.9 815.4L1062.9 810.8L1063.9 806.5L1064.9 802.4L1065.9 798.6L1066.9 795.2L1067.9 792.0L1068.9 789.0L1069.9 786.1L1070.9 783.8L1071.9 782.1L1072.9 780.8L1073.9 779.7L1074.9 778.8L1075.9 778.2L1076.9 778.0L1077.9 778.5L1078.9 779.6L1079.9 781.2L1080.9 783.0L1081.9 785.0L1082.9 786.9L1083.9 788.7L1084.9 790.7L1085.9 792.9L1086.9 795.2L1087.9 797.6L1088.9 800.2L1089.9 802.9L1090.9 806.0L1091.9 809.3L1092.9 812.8L1093.9 816.3L1094.9 819.8L1095.9 823.3L1096.9 827.1L1097.9 830.6L1098.9 833.5L1099.9 835.8L1100.9 837.7L1101.9 839.5L1102.9 841.2L1103.9 842.7L1104.9 844.1L1105.9 845.6L1106.9 847.1L1107.9 848.6L1108.9 850.0L1109.9 851.4L1110.9 852.8L1111.9 854.0L1112.9 855.0L1113.9 855.9L1114.9 856.7L1115.9 857.5L1116.9 858.3L1117.9 859.0L1118.9 859.5L1119.9 859.9L1120.9 860.0L1121.9 859.9L1122.9 859.6L1123.9 859.1L1124.9 858.4L1125.9 857.6L1126.9 856.8L1127.9 855.9L1128.9 855.1L1129.9 854.1L1130.9 853.0L1131.9 851.7L1132.9 850.3L1133.9 848.8L1134.9 847.3L1135.9 845.8L1136.9 844.3L1137.9 842.8L1138.9 841.1L1139.9 839.5L1140.9 837.8L1141.9 836.2L1142.9 834.7L1143.9 833.2L1144.9 831.7L1145.9 830.2L1146.9 828.8L1147.9 827.4L1148.9 826.1L1149.9 825.0L1150.9 824.1L1151.9 823.3L1152.9 822.6L1153.9 821.9L1154.9 821.2L1155.9 820.7L1156.9 820.3L1157.9 820.1L1158.9 820.0L1159.9 820.2L1160.9 820.6L1161.9 821.1L1162.9 821.8L1163.9 822.6L1164.9 823.4L1165.9 824.2L1166.9 824.9L1167.9 825.7L1168.9 826.5L1169.9 827.4L1170.9 828.4L1171.9 829.3L1172.9 830.2L1173.9 831.1L1174.9 831.9L1175.9 832.7L1176.9 833.4L1177.9 834.2L1178.9 834.9L1179.9 835.6L1180.9 836.2L1181.9 836.9L1182.9 837.4L1183.9 838.0L1184.9 838.5L1185.9 839.0L1186.9 839.5L1187.9 840.0L1188.9 840.4L1189.9 840.7L1190.9 840.9L1191.9 841.0L1192.9 841.0L1193.9 841.0L1194.9 841.0L1195.9 841.0L1196.9 841.0L1197.9 841.0L1198.9 841.0L1199.9 841.0L1200.9 841.0L1201.9 841.0L1202.9 841.0L1203.9 841.0L1204.9 841.0L1205.9 840.9L1206.9 840.7L1207.9 840.4L1208.9 840.0L1209.9 839.5L1210.9 839.0L1211.9 838.5L1212.9 838.0L1213.9 837.5L1214.9 837.0L1215.9 836.6L1216.9 836.2L1217.9 835.7L1218.9 835.3L1219.9 834.9L1220.9 834.4L1221.9 834.0L1222.9 833.6L1223.9 833.3L1224.9 833.0L1225.9 832.7L1226.9 832.4L1227.9 832.1L1228.9 831.8L1229.9 831.5L1230.9 831.3L1231.9 831.1L1232.9 831.0L1233.9 831.0L1234.9 831.1L1235.9 831.3L1236.9 831.5L1237.9 831.9L1238.9 832.3L1239.9 832.8L1240.9 833.2L1241.9 833.7L1242.9 834.2L1243.9 834.6L1244.9 835.0L1245.9 835.3L1246.9 835.7L1247.9 836.1L1248.9 836.5L1249.9 837.0L1250.9 837.4L1251.9 837.8L1252.9 838.2L1253.9 838.6L1254.9 839.0L1255.9 839.4L1256.9 839.7L1257.9 840.0L1258.9 840.2L1259.9 840.3L1260.9 840.5L1261.9 840.5L1262.9 840.5L1263.9 840.4L1264.9 840.3L1265.9 840.2L1266.9 840.0L1267.9 839.9L1268.9 839.6L1269.9 839.4L1270.9 839.2L1271.9 838.9L1272.9 838.7L1273.9 838.4L1274.9 838.2L1275.9 837.9L1276.9 837.7L1277.9 837.4L1278.9 837.2L1279.9 837.0L1280.9 836.8L1281.9 836.6L1282.9 836.4L1283.9 836.2L1284.9 836.0L1285.9 835.8L1286.9 835.5L1287.9 835.3L1288.9 835.1L1289.9 835.0L1290.9 834.8L1291.9 834.7L1292.9 834.6L1293.9 834.5L1294.9 834.5L1295.9 834.5L1296.9 834.6L1297.9 834.6L1298.9 834.7L1299.9 834.9L1300.9 835.0L1301.9 835.2L1302.9 835.4L1303.9 835.6L1304.9 835.8L1305.9 836.0L1306.9 836.3L1307.9 836.5L1308.9 836.7L1309.9 837.0L1310.9 837.2L1311.9 837.4L1312.9 837.6L1313.9 837.8L1314.9 838.0L1315.9 838.2L1316.9 838.3L1317.9 838.5L1318.9 838.7L1319.9 838.9L1320.9 839.0L1321.9 839.2L1322.9 839.4L1323.9 839.6L1324.9 839.7L1325.9 839.9L1326.9 840.1L1327.9 840.2L1328.9 840.4L1329.9 840.5L1330.9 840.6L1331.9 840.8L1332.9 840.9L1333.9 841.0L1334.9 841.1L1335.9 841.2L1336.9 841.3L1337.9 841.4L1338.9 841.5L1339.9 841.5L1340.9 841.6L1341.9 841.6L1342.9 841.6L1343.9 841.5L1344.9 841.4L1345.9 841.2L1346.9 841.0L1347.9 840.8L1348.9 840.5L1349.9 840.2L1350.9 839.9L1351.9 839.6L1352.9 839.3L1353.9 839.0L1354.9 838.7L1355.9 838.4L1356.9 838.1L1357.9 837.8L1358.9 837.6L1359.9 837.4L1360.9 837.2L1361.9 837.1L1362.9 836.9L1363.9 836.7L1364.9 836.5L1365.9 836.4L1366.9 836.2L1367.9 836.0L1368.9 835.9L1369.9 835.7L1370.9 835.6L1371.9 835.5L1372.9 835.5L1373.9 835.4L1374.9 835.4L1375.9 835.4L1376.9 835.4L1377.9 835.5L1378.9 835.5L1379.9 835.6L1380.9 835.6L1381.9 835.7L1382.9 835.8L1383.9 835.9L1384.9 836.0L1385.9 836.1L1386.9 836.2L1387.9 836.3L1388.9 836.4L1389.9 836.5L1390.9 836.6L1391.9 836.7L1392.9 836.8L1393.9 836.9L1394.9 837.0L1395.9 837.1L1396.9 837.2L1397.9 837.3L1398.9 837.3L1399.9 837.4L1400.9 837.4L1401.9 837.5L1402.9 837.5L1403.9 837.6L1404.9 837.6L1405.9 837.7L1406.9 837.7L1407.9 837.8L1408.9 837.8L1409.9 837.9L1410.9 837.9L1411.9 838.0L1412.9 838.0L1413.9 838.0L1414.9 838.1L1415.9 838.1L1416.9 838.1L1417.9 838.2L1418.9 838.2L1419.9 838.2L1420.9 838.3L1421.9 838.3L1422.9 838.3L1423.9 838.3L1424.9 838.4L1425.9 838.4L1426.9 838.4L1427.9 838.4L1428.9 838.4L1429.9 838.4L1430.9 838.4L1431.9 838.4L1432.9 838.4L1433.9 838.3L1434.9 838.3L1435.9 838.2L1436.9 838.2L1437.9 838.1L1438.9 838.1L1439.9 838.0L1440.9 838.0L1441.9 837.9L1442.9 837.8L1443.9 837.7L1444.9 837.7L1445.9 837.6L1446.9 837.5L1447.9 837.4L1448.9 837.4L1449.9 837.3L1450.9 837.2L1451.9 837.2L1452.9 837.1L1453.9 837.1L1454.9 837.0L1455.9 837.0L1456.9 836.9L1457.9 836.9L1458.9 836.9L1459.9 836.9L1460.9 836.9L1461.9 836.9L1462.9 836.9L1463.9 836.9L1464.9 836.9L1465.9 837.0L1466.9 837.0L1467.9 837.0L1468.9 837.0L1469.9 837.1L1470.9 837.1L1471.9 837.1L1472.9 837.1L1473.9 837.2L1474.9 837.2L1475.9 837.2L1476.9 837.3L1477.9 837.3L1478.9 837.4L1479.9 837.4L1480.9 837.4L1481.9 837.5L1482.9 837.5L1483.9 837.5L1484.9 837.6L1485.9 837.6L1486.9 837.6L1487.9 837.7L1488.9 837.7L1489.9 837.7L1490.9 837.8L1491.9 837.8L1492.9 837.8L1493.9 837.8L1494.9 837.9L1495.9 837.9L1496.9 837.9L1497.9 837.9L1498.9 837.9L1499.9 837.9L1500.9 837.9L1501.9 837.9L1502.9 837.9L1503.9 837.9L1504.9 837.9L1505.9 837.9L1506.9 837.9L1507.9 837.8L1508.9 837.8L1509.9 837.8L1510.9 837.8L1511.9 837.8L1512.9 837.8L1513.9 837.8L1514.9 837.7L1515.9 837.7L1516.9 837.7L1517.9 837.7L1518.9 837.7L1519.9 837.7L1520.9 837.6L1521.9 837.6L1522.9 837.6L1523.9 837.6L1524.9 837.6L1525.9 837.5L1526.9 837.5L1527.9 837.5L1528.9 837.5L1529.9 837.5L1530.9 837.5L1531.9 837.5L1532.9 837.4L1533.9 837.4L1534.9 837.4L1535.9 837.4L1536.9 837.4L1537.9 837.4L1538.9 837.4L1539.9 837.4L1540.9 837.4L1541.9 837.4L1542.9 837.4L1543.9 837.4L1544.9 837.4L1545.9 837.4L1546.9 837.4L1547.9 837.4L1548.9 837.4L1549.9 837.4L1550.9 837.4L1551.9 837.4L1552.9 837.4L1553.9 837.4L1554.9 837.4L1555.9 837.4L1556.9 837.4L1557.9 837.4L1558.9 837.4L1559.9 837.4L1560.9 837.4L1561.9 837.4L1562.9 837.4L1563.9 837.4L1564.9 837.4L1565.9 837.4L1566.9 837.4L1567.9 837.4L1568.9 837.4L1569.9 837.4L1570.9 837.4L1571.9 837.4L1572.9 837.4L1573.9 837.4L1574.9 837.4L1575.9 837.4L1576.9 837.4L1577.9 837.4L1578.9 837.4L1579.9 837.4L1580.9 837.4L1581.9 837.4L1582.9 837.4L1583.9 837.4L1584.9 837.4L1585.9 837.4L1586.9 837.4L1587.9 837.4L1588.9 837.4L1589.9 837.4L1590.9 837.3L1591.8 837.3L1592.8 837.3L1593.8 837.2L1594.8 837.2L1595.8 837.1L1596.8 837.0L1597.8 836.9L1598.8 836.9L1599.8 836.8L1600.8 836.7L1601.8 836.6L1602.8 836.6L1603.8 836.5L1604.8 836.4L1605.8 836.3L1606.8 836.2L1607.8 836.2L1608.8 836.1L1609.8 836.0L1610.8 836.0L1611.8 835.9L1612.8 835.9L1613.8 835.9L1614.8 835.8L1615.8 835.8L1616.8 835.8L1617.8 835.8L1618.8 835.8L1619.8 835.8L1620.8 835.8L1621.8 835.8L1622.8 835.8L1623.8 835.9L1624.8 835.9L1625.8 835.9L1626.8 835.9L1627.8 835.9L1628.8 835.9L1629.8 836.0L1630.8 836.0L1631.8 836.0L1632.8 836.0L1633.8 836.0L1634.8 836.1L1635.8 836.1L1636.8 836.1L1637.8 836.1L1638.8 836.2L1639.8 836.2L1640.8 836.2L1641.8 836.2L1642.8 836.3L1643.8 836.3L1644.8 836.3L1645.8 836.3L1646.8 836.3L1647.8 836.3L1648.8 836.4L1649.8 836.4L1650.8 836.4L1651.8 836.4L1652.8 836.4L1653.8 836.4L1654.8 836.4L1655.8 836.4L1656.8 836.4L1657.8 836.3L1658.8 836.3L1659.8 836.2L1660.8 836.1L1661.8 836.0L1662.8 835.9L1663.8 835.8L1664.8 835.7L1665.8 835.5L1666.8 835.4L1667.8 835.2L1668.8 835.1L1669.8 834.9L1670.8 834.7L1671.8 834.6L1672.8 834.4L1673.8 834.2L1674.8 834.0L1675.8 833.9L1676.8 833.7L1677.8 833.5L1678.8 833.3L1679.8 833.2L1680.8 833.0L1681.8 832.9L1682.8 832.7L1683.8 832.6L1684.8 832.5L1685.8 832.4L1686.8 832.3L1687.8 832.2L1688.8 832.1L1689.8 832.1L1690.8 832.0L1691.8 832.0L1692.8 832.0L1693.8 832.0L1694.8 832.0L1695.8 832.1L1696.8 832.1L1697.8 832.2L1698.8 832.3L1699.8 832.4L1700.8 832.5L1701.8 832.6L1702.8 832.7L1703.8 832.9L1704.8 833.0L1705.8 833.1L1706.8 833.3L1707.8 833.4L1708.8 833.6L1709.8 833.8L1710.8 833.9L1711.8 834.1L1712.8 834.2L1713.8 834.4L1714.8 834.6L1715.8 834.7L1716.8 834.9L1717.8 835.0L1718.8 835.1L1719.8 835.3L1720.8 835.4L1721.8 835.5L1722.8 835.6L1723.8 835.7L1724.8 835.8L1725.8 835.9L1726.8 835.9L1727.8 836.0L1728.8 836.0L1729.8 836.0L1730.8 836.0L1731.8 836.0L1732.8 835.9L1733.8 835.8L1734.8 835.8L1735.8 835.6L1736.8 835.5L1737.8 835.4L1738.8 835.2L1739.8 835.1L1740.8 834.9L1741.8 834.7L1742.8 834.5L1743.8 834.3L1744.8 834.1L1745.8 833.9L1746.8 833.7L1747.8 833.5L1748.8 833.2L1749.8 833.0L1750.8 832.8L1751.8 832.6L1752.8 832.4L1753.8 832.2L1754.8 832.0L1755.8 831.8L1756.8 831.6L1757.8 831.4L1758.8 831.2L1759.8 831.1L1760.8 830.9L1761.8 830.8L1762.8 830.7L1763.8 830.6L1764.8 830.5L1765.8 830.5L1766.8 830.4L1767.8 830.4L1768.8 830.4L1769.8 830.4L1770.8 830.4L1771.8 830.4L1772.8 830.4L1773.8 830.4L1774.8 830.4L1775.8 830.4L1776.8 830.4L1777.8 830.4L1778.8 830.4L1779.8 830.4L1780.8 830.4L1781.8 830.4L1782.8 830.4L1783.8 830.4L1784.8 830.4L1785.8 830.4L1786.8 830.4L1787.8 830.4L1788.8 830.4L1789.8 830.4L1790.8 830.4L1791.8 830.4L1792.8 830.4L1793.8 830.4L1794.8 830.4L1795.8 830.4L1796.8 830.4L1797.8 830.4L1798.8 830.4L1799.8 830.6L1800.8 830.8L1801.8 831.1L1802.8 831.5L1803.8 832.0L1804.8 832.4L1805.8 832.9L1806.8 833.4L1807.8 833.9L1808.8 834.3L1809.8 834.7L1810.8 835.1L1811.8 835.3L1812.8 835.5L1813.8 835.6L1814.8 835.6L1815.8 835.6L1816.8 835.5L1817.8 835.4L1818.8 835.3L1819.8 835.2L1820.8 835.1L1821.8 834.9L1822.8 834.8L1823.8 834.6L1824.8 834.5L1825.8 834.3L1826.8 834.1L1827.8 834.0L1828.8 833.9L1829.8 833.7L1830.8 833.6L1831.8 833.5L1832.8 833.5L1833.8 833.4L1834.8 833.4L1835.8 833.4L1836.8 833.4L1837.8 833.4L1838.8 833.4L1839.8 833.4"/>
<path class="r" d="M237.3 620.7L238.3 623.1L239.3 625.6L240.3 628.3L241.3 631.0L242.3 633.9L243.3 636.8L244.3 639.8L245.3 642.8L246.3 646.0L247.3 649.3L248.3 652.9L249.3 656.8L250.3 661.2L251.2 666.3L252.2 672.2L253.2 678.6L254.2 685.1L255.2 691.5L256.2 698.1L257.2 704.9L258.2 711.8L259.2 718.7L260.2 725.5L261.2 732.1L262.2 738.7L263.2 745.2L264.2 751.8L265.2 758.3L266.2 765.0L267.2 771.8L268.2 778.4L269.2 784.9L270.2 791.1L271.2 797.1L272.2 802.9L273.2 808.4L274.2 813.8L275.2 818.8L276.2 823.6L277.2 828.3L278.2 832.7L279.1 836.8L280.1 840.5L281.1 844.0L282.1 847.1L283.1 850.0L284.1 852.3L285.1 854.5L286.1 856.6L287.1 858.4L288.1 859.6L289.1 860.0L290.1 859.7L291.1 859.0L292.1 858.3L293.1 857.7L294.1 857.5L295.1 857.5L296.1 857.7L297.1 857.8L298.1 858.0L299.1 858.6L300.1 859.7L301.1 861.1L302.1 862.8L303.1 864.5L304.1 866.1L305.1 867.7L306.1 869.5L307.1 871.3L308.0 873.2L309.0 875.1L310.0 876.9L311.0 878.6L312.0 880.0L313.0 881.4L314.0 882.7L315.0 883.9L316.0 885.1L317.0 886.2L318.0 887.3L319.0 888.3L320.0 889.2L321.0 890.0L322.0 889.9L323.0 889.6L324.0 889.0L325.0 888.3L326.0 887.3L327.0 886.2L328.0 884.9L329.0 883.4L330.0 881.8L331.0 880.0L332.0 878.1L333.0 876.0L334.0 873.8L335.0 871.5L336.0 869.0L337.0 866.5L338.0 863.8L339.0 861.1L340.0 858.3L341.0 855.4L342.0 852.5L343.0 849.5L344.0 846.5L345.0 843.4L346.0 840.3L347.0 837.1L348.0 834.0L349.0 830.8L350.0 827.7L351.0 824.6L352.0 821.4L353.0 818.3L354.0 815.3L355.0 812.3L356.0 809.3L357.0 806.4L358.0 803.5L359.0 800.7L360.0 798.0L361.0 795.4L362.0 792.9L363.0 790.5L364.0 788.2L365.0 786.0L366.0 783.9L367.0 782.0L368.0 780.2L369.0 778.6L370.0 777.1L371.0 775.8L372.0 774.7L373.0 773.7L374.0 772.9L375.0 772.4L376.0 772.0L377.0 771.8L378.0 771.9L379.0 772.1L380.0 772.6L381.0 773.2L382.0 774.0L383.0 775.0L384.0 776.1L385.0 777.4L386.0 778.9L387.0 780.5L388.0 782.3L389.0 784.2L390.0 786.2L391.0 788.3L392.0 790.6L393.0 792.9L394.0 795.4L395.0 798.0L396.0 800.6L397.0 803.4L398.0 806.2L399.0 809.1L400.0 812.0L401.0 815.0L402.0 818.1L403.0 821.2L404.0 824.4L405.0 827.6L406.0 830.8L407.0 834.0L408.0 837.2L409.0 840.5L410.0 843.7L411.0 846.9L412.0 850.1L413.0 853.2L414.0 856.3L415.0 859.3L416.0 862.1L417.0 864.9L418.0 867.6L419.0 870.1L420.0 872.5L421.0 874.8L422.0 876.8L423.0 878.7L424.0 880.4L425.0 881.9L426.0 883.2L427.0 884.2L428.0 885.0L429.0 885.5L430.0 885.8L431.0 885.8L432.0 885.7L433.0 885.2L434.0 884.6L435.0 883.8L436.0 882.7L437.0 881.5L438.0 880.1L439.0 878.5L440.0 876.7L441.0 874.9L442.0 872.8L443.0 870.6L444.0 868.3L445.0 865.9L446.0 863.4L447.0 860.7L448.0 858.0L449.0 855.2L450.0 852.3L451.0 849.4L452.0 846.4L453.0 843.3L454.0 840.3L455.0 837.1L456.0 834.0L457.0 830.9L458.0 827.7L459.0 824.6L460.0 821.5L461.0 818.4L462.0 815.4L463.0 812.5L464.0 809.6L465.0 806.9L466.0 804.2L467.0 801.7L468.0 799.4L469.0 797.1L470.0 795.1L471.0 793.2L472.0 791.5L473.0 790.0L474.0 788.8L475.0 787.8L476.0 787.0L477.0 786.5L478.0 786.2L479.0 786.2L480.0 786.4L481.0 786.9L482.0 787.5L483.0 788.4L484.0 789.4L485.0 790.7L486.0 792.1L487.0 793.7L488.0 795.4L489.0 797.3L490.0 799.3L491.0 801.5L492.0 803.8L493.0 806.2L494.0 808.6L495.0 811.2L496.0 813.9L497.0 816.6L498.0 819.4L499.0 822.3L500.0 825.2L501.0 828.1L502.0 831.0L503.0 834.0L504.0 837.0L505.0 839.9L506.0 842.9L507.0 845.8L508.0 848.6L509.0 851.4L510.0 854.1L511.0 856.7L512.0 859.2L513.0 861.5L514.0 863.8L515.0 865.8L516.0 867.7L517.0 869.4L518.0 871.0L519.0 872.2L520.0 873.3L521.0 874.1L522.0 874.7L523.0 875.0L524.0 875.0L525.0 874.7L526.0 874.2L527.0 873.5L528.0 872.4L529.0 871.2L530.0 869.8L531.0 868.2L532.0 866.4L533.0 864.4L534.0 862.3L535.0 860.1L536.0 857.7L537.0 855.2L538.0 852.6L539.0 849.9L540.0 847.2L541.0 844.4L542.0 841.6L543.0 838.7L544.0 835.9L545.0 833.0L546.0 830.1L547.0 827.3L548.0 824.5L549.0 821.8L550.0 819.1L551.0 816.5L552.0 814.0L553.0 811.7L554.0 809.4L555.0 807.3L556.0 805.3L557.0 803.5L558.0 801.9L559.0 800.5L560.0 799.3L561.0 798.3L562.0 797.5L563.0 797.0L564.0 796.7L565.0 796.7L566.0 797.0L567.0 797.5L568.0 798.1L569.0 799.0L570.0 800.1L571.0 801.4L572.0 802.9L573.0 804.5L574.0 806.3L575.0 808.2L576.0 810.3L577.0 812.4L578.0 814.7L579.0 817.1L580.0 819.6L581.0 822.2L582.0 824.8L583.0 827.5L584.0 830.2L585.0 833.0L586.0 835.8L587.0 838.6L588.0 841.4L589.0 844.1L590.0 846.8L591.0 849.4L592.0 851.9L593.0 854.3L594.0 856.6L595.0 858.6L596.0 860.6L597.0 862.3L598.0 863.7L599.0 865.0L600.0 865.9L601.0 866.6L602.0 867.0L603.0 867.1L604.0 866.8L605.0 866.3L606.0 865.4L607.0 864.4L608.0 863.1L609.0 861.5L610.0 859.8L611.0 857.9L612.0 855.9L613.0 853.7L614.0 851.3L615.0 848.9L616.0 846.3L617.0 843.7L618.0 841.1L619.0 838.4L620.0 835.7L621.0 833.0L622.0 830.3L623.0 827.7L624.0 825.1L625.0 822.6L626.0 820.1L627.0 817.8L628.0 815.6L629.0 813.6L630.0 811.6L631.0 809.9L632.0 808.3L633.0 807.0L634.0 805.9L635.0 805.0L636.0 804.4L637.0 804.0L638.0 803.9L639.0 804.1L640.0 804.6L641.0 805.3L642.0 806.2L643.0 807.4L644.0 808.7L645.0 810.3L646.0 812.0L647.0 813.9L648.0 815.9L649.0 818.1L650.0 820.3L651.0 822.7L652.0 825.2L653.0 827.7L654.0 830.3L655.0 833.0L656.0 835.7L657.0 838.4L658.0 841.0L659.0 843.6L660.0 846.2L661.0 848.6L662.0 850.8L663.0 852.9L664.0 854.8L665.0 856.4L666.0 857.8L667.0 858.9L668.0 859.6L669.0 860.0L670.0 860.0L671.0 859.7L672.0 859.0L673.0 858.0L674.0 856.8L675.0 855.3L676.0 853.6L677.0 851.7L678.0 849.6L679.0 847.4L680.0 845.1L681.0 842.7L682.0 840.3L683.0 837.8L684.0 835.4L685.0 833.0L686.0 830.7L687.0 828.4L688.0 826.2L689.0 824.2L690.0 822.3L691.0 820.5L692.0 818.9L693.0 817.6L694.0 816.4L695.0 815.4L696.0 814.7L697.0 814.2L698.0 814.0L699.0 814.1L700.0 814.5L701.0 815.1L702.0 815.9L703.0 817.0L704.0 818.3L705.0 819.7L706.0 821.3L707.0 823.0L708.0 824.9L709.0 826.8L710.0 828.8L711.0 830.9L712.0 833.0L713.0 835.1L714.0 837.2L715.0 839.3L716.0 841.2L717.0 843.1L718.0 844.9L719.0 846.5L720.0 847.9L721.0 849.1L722.0 850.0L723.0 850.6L724.0 851.0L725.0 851.0L726.0 850.7L727.0 850.2L728.0 849.4L729.0 848.3L730.0 847.1L731.0 845.7L732.0 844.1L733.0 842.4L734.0 840.6L735.0 838.7L736.0 836.8L737.0 834.9L738.0 833.0L739.0 831.1L740.0 829.3L741.0 827.6L742.0 826.0L743.0 824.6L744.0 823.3L745.0 822.3L746.0 821.5L747.0 821.0L748.0 820.9L749.0 821.0L750.0 821.5L751.0 822.3L752.0 823.4L753.0 824.7L754.0 826.2L755.0 827.9L756.0 829.6L757.0 831.3L758.0 833.0L759.0 834.7L760.0 836.2L761.0 837.6L762.0 838.9L763.0 840.0L764.0 840.9L765.0 841.6L766.0 841.9L767.0 842.0L768.0 841.8L769.0 841.2L770.0 840.5L771.0 839.6L772.0 838.6L773.0 837.5L774.0 836.4L775.0 835.3L776.0 834.3L777.0 833.5L778.0 832.9L779.0 832.4L780.0 832.1L781.0 831.9L782.0 831.9L783.0 831.9L784.0 832.0L785.0 832.1L786.0 832.3L787.0 832.5L788.0 832.7L789.0 832.9L790.0 833.0L791.0 833.2L792.0 833.4L793.0 833.5L794.0 833.6L795.0 833.6L796.0 833.6L797.0 833.6L798.0 833.6L799.0 833.6L800.0 833.6L801.0 833.6L802.0 833.6L803.0 833.6L804.0 833.6L805.0 833.6L806.0 833.6L807.0 833.6L808.0 833.6L809.0 833.6L810.0 833.6L811.0 833.6L812.0 833.6L813.0 833.6L814.0 833.6L815.0 833.6L816.0 833.6L817.0 833.6L818.0 833.6L819.0 833.6L820.0 833.6L821.0 833.6L822.0 833.6L823.0 833.6L824.0 833.6L825.0 833.6L826.0 833.6L827.0 833.6L828.0 833.6L829.0 833.6L830.0 833.6L831.0 833.6L832.0 833.6L833.0 833.6L834.0 833.6L835.0 833.6L836.0 833.6L837.0 833.6L838.0 833.6L839.0 833.6L840.0 833.6L841.0 833.6L842.0 833.6L843.0 833.6L844.0 833.6L845.0 833.6L846.0 833.6L847.0 833.6L848.0 833.6L849.0 833.6L850.0 833.7L851.0 833.7L852.0 833.7L853.0 833.7L854.0 833.7L855.0 833.7L856.0 833.7L857.0 833.7L858.0 833.7L859.0 833.7L860.0 833.7L861.0 833.7L862.0 833.7L863.0 833.7L864.0 833.7L865.0 833.7L866.0 833.7L867.0 833.7L868.0 833.7L869.0 833.7L870.0 833.7L871.0 833.7L872.0 833.7L873.0 833.7L874.0 833.7L875.0 833.7L876.0 833.7L877.0 833.7L878.0 833.7L879.0 833.7L880.0 833.7L881.0 833.7L882.0 833.7L883.0 833.7L884.0 833.7L885.0 833.7L886.0 833.7L887.0 833.7L888.0 833.7L889.0 833.7L890.0 833.7L891.0 833.7L892.0 833.7L893.0 833.7L894.0 833.7L895.0 833.7L896.0 833.7L897.0 833.7L898.0 833.7L899.0 833.7L900.0 833.7L901.0 833.7L902.0 833.7L903.0 833.7L904.0 833.7L905.0 833.7L906.0 833.7L907.0 833.7L908.0 833.7L909.0 833.7L910.0 833.7L911.0 833.7L912.0 833.7L913.0 833.7L914.0 833.7L915.0 833.7L916.0 833.7L917.0 833.7L918.0 833.7L919.0 833.7L920.0 833.7L921.0 833.7L922.0 833.7L923.0 833.7L924.0 833.7L925.0 833.7L926.0 833.7L927.0 833.7L928.0 833.7L929.0 833.7L930.0 833.7L931.0 833.7L932.0 833.7L933.0 833.7L934.0 833.7L935.0 833.7L936.0 833.7L937.0 833.7L938.0 833.7L939.0 833.7L940.0 833.7L941.0 833.7L942.0 833.7L943.0 833.7L944.0 833.7L945.0 833.7L946.0 833.7L947.0 833.7L948.0 833.7L949.0 833.7L950.0 833.7L951.0 833.7L952.0 833.7L953.0 833.7L954.0 833.7L955.0 833.7L956.0 833.7L957.0 833.7L958.0 833.7L959.0 833.7L960.0 833.7L961.0 833.7L962.0 833.7L963.0 833.7L964.0 833.7L965.0 833.7L966.0 833.7L967.0 833.7L968.0 833.7L969.0 833.7L970.0 833.7L971.0 833.7L972.0 833.7L973.0 833.7L974.0 833.7L975.0 833.7L976.0 833.7L977.0 833.7L978.0 833.7L979.0 833.7L980.0 833.7L981.0 833.7L982.0 833.7L983.0 833.7L984.0 833.7L985.0 833.7L986.0 833.7L987.0 833.7L988.0 833.7L989.0 833.7L990.0 833.7L991.0 833.7L992.0 833.7L993.0 833.7L994.0 833.7L995.0 833.7L996.0 833.7L997.0 833.7L998.0 833.7L999.0 833.7L1000.0 833.7L1001.0 833.7L1002.0 833.7L1003.0 833.7L1004.0 833.7L1005.0 833.7L1006.0 833.7L1007.0 833.7L1008.0 833.7L1009.0 833.7L1010.0 833.7L1011.0 833.7L1012.0 833.7L1013.0 833.7L1014.0 833.7L1015.0 833.7L1016.0 833.7L1017.0 833.7L1018.0 833.7L1019.0 833.7L1020.0 833.7L1021.0 833.7L1022.0 833.7L1023.0 833.7L1024.0 833.7L1025.0 833.7L1026.0 833.7L1027.0 833.7L1028.0 833.7L1029.0 833.7L1030.0 833.7L1031.0 833.7L1032.0 833.7L1033.0 833.7L1034.0 833.7L1035.0 833.7L1036.0 833.7L1037.0 833.7L1038.0 833.7L1039.0 833.7L1040.0 833.7L1041.0 833.7L1042.0 833.7L1043.0 833.7L1044.0 833.7L1045.0 833.7L1046.0 833.7L1047.0 833.7L1048.0 833.7L1049.0 833.7L1050.0 833.7L1051.0 833.7L1052.0 833.7L1053.0 833.7L1054.0 833.7L1055.0 833.7L1056.0 833.7L1057.0 833.7L1058.0 833.7L1059.0 833.7L1060.0 832.6L1061.0 830.5L1062.0 828.1L1063.0 825.3L1064.0 821.7L1065.0 818.3L1066.0 816.1L1067.0 814.8L1068.0 813.7L1068.9 813.0L1069.9 812.7L1070.9 813.6L1071.9 815.9L1072.9 818.9L1073.9 821.9L1074.9 824.6L1075.9 827.6L1076.9 830.6L1077.9 833.6L1078.9 836.5L1079.9 839.6L1080.9 842.6L1081.9 845.5L1082.9 848.0L1083.9 849.9L1084.9 851.5L1085.9 853.1L1086.9 854.5L1087.9 855.9L1088.9 857.0L1089.9 857.8L1090.9 858.3L1091.9 858.5L1092.9 858.1L1093.9 857.1L1094.9 855.7L1095.9 853.9L1096.9 852.0L1097.9 850.0L1098.9 848.1L1099.9 846.0L1100.9 843.6L1101.9 841.0L1102.9 838.5L1103.9 836.1L1104.9 833.8L1105.9 831.2L1106.9 828.7L1107.9 826.3L1108.9 824.3L1109.9 822.9L1110.9 822.4L1111.9 822.5L1112.9 823.0L1113.9 823.6L1114.9 824.4L1115.9 825.3L1116.9 826.1L1117.9 827.0L1118.9 827.8L1119.9 828.9L1120.9 830.0L1121.9 831.1L1122.9 832.2L1123.9 833.1L1124.9 833.7L1125.9 834.1L1126.9 834.3L1127.9 834.5L1128.9 834.7L1129.9 834.9L1130.9 835.0L1131.9 835.0L1132.9 835.0L1133.9 834.8L1134.9 834.6L1135.9 834.4L1136.9 834.2L1137.9 834.0L1138.9 833.9L1139.9 833.8L1140.9 833.8L1141.9 833.8L1142.9 833.8L1143.9 833.8L1144.9 833.8L1145.9 833.8L1146.9 833.8L1147.9 833.8L1148.9 833.8L1149.9 833.8L1150.9 833.8L1151.9 833.8L1152.9 833.8L1153.9 833.8L1154.9 833.8L1155.9 833.8L1156.9 833.8L1157.9 833.8L1158.9 833.8L1159.9 833.8L1160.9 833.8L1161.9 833.8L1162.9 833.8L1163.9 833.8L1164.9 833.8L1165.9 833.8L1166.9 833.8L1167.9 833.8L1168.9 833.8L1169.9 833.8L1170.9 833.8L1171.9 833.8L1172.9 833.8L1173.9 833.8L1174.9 833.8L1175.9 833.8L1176.9 833.8L1177.9 833.8L1178.9 833.8L1179.9 833.8L1180.9 833.8L1181.9 833.8L1182.9 833.8L1183.9 833.8L1184.9 833.8L1185.9 833.8L1186.9 833.8L1187.9 833.8L1188.9 833.8L1189.9 833.8L1190.9 833.8L1191.9 833.8L1192.9 833.8L1193.9 833.8L1194.9 833.8L1195.9 833.8L1196.9 833.8L1197.9 833.8L1198.9 833.8L1199.9 833.8L1200.9 833.8L1201.9 833.8L1202.9 833.8L1203.9 833.8L1204.9 833.8L1205.9 833.8L1206.9 833.8L1207.9 833.8L1208.9 833.8L1209.9 833.8L1210.9 833.8L1211.9 833.8L1212.9 833.8L1213.9 833.8L1214.9 833.8L1215.9 833.8L1216.9 833.8L1217.9 833.8L1218.9 833.8L1219.9 833.8L1220.9 833.8L1221.9 833.8L1222.9 833.8L1223.9 833.8L1224.9 833.8L1225.9 833.8L1226.9 833.8L1227.9 833.8L1228.9 833.8L1229.9 833.8L1230.9 833.8L1231.9 833.8L1232.9 833.8L1233.9 833.8L1234.9 833.8L1235.9 833.8L1236.9 833.8L1237.9 833.8L1238.9 833.8L1239.9 833.8L1240.9 833.8L1241.9 833.8L1242.9 833.8L1243.9 833.8L1244.9 833.8L1245.9 833.8L1246.9 833.8L1247.9 833.8L1248.9 833.8L1249.9 833.8L1250.9 833.8L1251.9 833.8L1252.9 833.8L1253.9 833.8L1254.9 833.8L1255.9 833.8L1256.9 833.8L1257.9 833.8L1258.9 833.8L1259.9 833.8L1260.9 833.8L1261.9 833.8L1262.9 833.8L1263.9 833.8L1264.9 833.8L1265.9 833.8L1266.9 833.8L1267.9 833.8L1268.9 833.8L1269.9 833.8L1270.9 833.8L1271.9 833.8L1272.9 833.8L1273.9 833.8L1274.9 833.8L1275.9 833.8L1276.9 833.8L1277.9 833.8L1278.9 833.8L1279.9 833.8L1280.9 833.8L1281.9 833.8L1282.9 833.8L1283.9 833.8L1284.9 833.8L1285.9 833.8L1286.9 833.8L1287.9 833.8L1288.9 833.8L1289.9 833.8L1290.9 833.8L1291.9 833.8L1292.9 833.8L1293.9 833.8L1294.9 833.8L1295.9 833.8L1296.9 833.8L1297.9 833.8L1298.9 833.8L1299.9 833.8L1300.9 833.8L1301.9 833.8L1302.9 833.8L1303.9 833.8L1304.9 833.8L1305.9 833.8L1306.9 833.8L1307.9 833.8L1308.9 833.8L1309.9 833.8L1310.9 833.8L1311.9 833.8L1312.9 833.8L1313.9 833.8L1314.9 833.8L1315.9 833.8L1316.9 833.8L1317.9 833.8L1318.9 833.8L1319.9 833.8L1320.9 833.8L1321.9 833.8L1322.9 833.8L1323.9 833.8L1324.9 833.8L1325.9 833.8L1326.9 833.8L1327.9 833.8L1328.9 833.8L1329.9 833.8L1330.9 833.8L1331.9 833.8L1332.9 833.8L1333.9 833.8L1334.9 833.8L1335.9 833.8L1336.9 833.8L1337.9 833.8L1338.9 833.8L1339.9 833.8L1340.9 833.8L1341.9 833.8L1342.9 833.8L1343.9 833.8L1344.9 833.8L1345.9 833.8L1346.9 833.8L1347.9 833.8L1348.9 833.8L1349.9 833.8L1350.9 833.8L1351.9 833.8L1352.9 833.8L1353.9 833.8L1354.9 833.8L1355.9 833.8L1356.9 833.8L1357.9 833.8L1358.9 833.8L1359.9 833.8L1360.9 833.8L1361.9 833.8L1362.9 833.8L1363.9 833.8L1364.9 833.8L1365.9 833.8L1366.9 833.8L1367.9 833.8L1368.9 833.8L1369.9 833.8L1370.9 833.8L1371.9 833.8L1372.9 833.8L1373.9 833.8L1374.9 833.8L1375.9 833.8L1376.9 833.8L1377.9 833.8L1378.9 833.8L1379.9 833.8L1380.9 833.8L1381.9 833.8L1382.9 833.8L1383.9 833.8L1384.9 833.8L1385.9 833.8L1386.9 833.8L1387.9 833.8L1388.9 833.8L1389.9 833.8L1390.9 833.8L1391.9 833.8L1392.9 833.8L1393.9 833.8L1394.9 833.8L1395.9 833.8L1396.9 833.8L1397.9 833.8L1398.9 833.8L1399.9 833.8L1400.9 833.8L1401.9 833.8L1402.9 833.8L1403.9 833.8L1404.9 833.8L1405.9 833.8L1406.9 833.8L1407.9 833.8L1408.9 833.8L1409.9 833.8L1410.9 833.8L1411.9 833.8L1412.9 833.8L1413.9 833.8L1414.9 833.8L1415.9 833.8L1416.9 833.8L1417.9 833.8L1418.9 833.8L1419.9 833.8L1420.9 833.8L1421.9 833.8L1422.9 833.8L1423.9 833.8L1424.9 833.8L1425.9 833.8L1426.9 833.8L1427.9 833.8L1428.9 833.8L1429.9 833.8L1430.9 833.8L1431.9 833.8L1432.9 833.8L1433.9 833.8L1434.9 833.8L1435.9 833.8L1436.9 833.8L1437.9 833.8L1438.9 833.8L1439.9 833.8L1440.9 833.8L1441.9 833.8L1442.9 833.8L1443.9 833.8L1444.9 833.8L1445.9 833.8L1446.9 833.8L1447.9 833.8L1448.9 833.8L1449.9 833.8L1450.9 833.8L1451.9 833.8L1452.9 833.8L1453.9 833.8L1454.9 833.8L1455.9 833.8L1456.9 833.8L1457.9 833.8L1458.9 833.8L1459.9 833.8L1460.9 833.8L1461.9 833.8L1462.9 833.8L1463.9 833.8L1464.9 833.8L1465.9 833.8L1466.9 833.8L1467.9 833.8L1468.9 833.8L1469.9 833.8L1470.9 833.8L1471.9 833.8L1472.9 833.8L1473.9 833.8L1474.9 833.8L1475.9 833.8L1476.9 833.8L1477.9 833.8L1478.9 833.8L1479.9 833.8L1480.9 833.8L1481.9 833.8L1482.9 833.8L1483.9 833.8L1484.9 833.8L1485.9 833.8L1486.9 833.8L1487.9 833.8L1488.9 833.8L1489.9 833.8L1490.9 833.8L1491.9 833.8L1492.9 833.8L1493.9 833.8L1494.9 833.8L1495.9 833.8L1496.9 833.8L1497.9 833.8L1498.9 833.8L1499.9 833.8L1500.9 833.8L1501.9 833.8L1502.9 833.8L1503.9 833.8L1504.9 833.8L1505.9 833.8L1506.9 833.8L1507.9 833.8L1508.9 833.8L1509.9 833.8L1510.9 833.8L1511.9 833.8L1512.9 833.8L1513.9 833.8L1514.9 833.8L1515.9 833.8L1516.9 833.8L1517.9 833.8L1518.9 833.8L1519.9 833.8L1520.9 833.8L1521.9 833.8L1522.9 833.8L1523.9 833.8L1524.9 833.8L1525.9 833.8L1526.9 833.8L1527.9 833.8L1528.9 833.8L1529.9 833.8L1530.9 833.8L1531.9 833.8L1532.9 833.8L1533.9 833.8L1534.9 833.8L1535.9 833.8L1536.9 833.8L1537.9 833.8L1538.9 833.8L1539.9 833.8L1540.9 833.8L1541.9 833.8L1542.9 833.8L1543.9 833.8L1544.9 833.8L1545.9 833.8L1546.9 833.8L1547.9 833.8L1548.9 833.8L1549.9 833.8L1550.9 833.8L1551.9 833.8L1552.9 833.8L1553.9 833.8L1554.9 833.8L1555.9 833.8L1556.9 833.8L1557.9 833.8L1558.9 833.8L1559.9 833.8L1560.9 833.8L1561.9 833.8L1562.9 833.8L1563.9 833.8L1564.9 833.8L1565.9 833.8L1566.9 833.8L1567.9 833.8L1568.9 833.8L1569.9 833.8L1570.9 833.8L1571.9 833.8L1572.9 833.8L1573.9 833.8L1574.9 833.8L1575.9 833.8L1576.9 833.8L1577.9 833.8L1578.9 833.8L1579.9 833.8L1580.9 833.8L1581.9 833.8L1582.9 833.8L1583.9 833.8L1584.9 833.8L1585.9 833.8L1586.9 833.8L1587.9 833.8L1588.9 833.8L1589.9 833.8L1590.9 833.8L1591.9 833.8L1592.9 833.8L1593.9 833.8L1594.9 833.8L1595.9 833.8L1596.9 833.8L1597.9 833.8L1598.9 833.8L1599.9 833.8L1600.9 833.8L1601.9 833.8L1602.9 833.8L1603.9 833.8L1604.9 833.8L1605.9 833.8L1606.9 833.8L1607.9 833.8L1608.9 833.8L1609.9 833.8L1610.9 833.8L1611.9 833.8L1612.9 833.8L1613.9 833.8L1614.9 833.8L1615.9 833.8L1616.8 833.8L1617.8 833.8L1618.8 833.8L1619.8 833.8L1620.8 833.8L1621.8 833.8L1622.8 833.8L1623.8 833.8L1624.8 833.8L1625.8 833.8L1626.8 833.8L1627.8 833.8L1628.8 833.8L1629.8 833.8L1630.8 833.8L1631.8 833.8L1632.8 833.8L1633.8 833.8L1634.8 833.8L1635.8 833.8L1636.8 833.8L1637.8 833.8L1638.8 833.8L1639.8 833.8L1640.8 833.8L1641.8 833.8L1642.8 833.8L1643.8 833.8L1644.8 833.8L1645.8 833.8L1646.8 833.8L1647.8 833.8L1648.8 833.8L1649.8 833.8L1650.8 833.8L1651.8 833.8L1652.8 833.8L1653.8 833.8L1654.8 833.8L1655.8 833.8L1656.8 833.8L1657.8 833.8L1658.8 833.8L1659.8 833.8L1660.8 833.8L1661.8 833.8L1662.8 833.8L1663.8 833.8L1664.8 833.8L1665.8 833.8L1666.8 833.8L1667.8 833.8L1668.8 833.8L1669.8 833.8L1670.8 833.8L1671.8 833.8L1672.8 833.8L1673.8 833.8L1674.8 833.8L1675.8 833.8L1676.8 833.8L1677.8 833.8L1678.8 833.8L1679.8 833.8L1680.8 833.8L1681.8 833.8L1682.8 833.8L1683.8 833.8L1684.8 833.8L1685.8 833.8L1686.8 833.8L1687.8 833.8L1688.8 833.8L1689.8 833.8L1690.8 833.8L1691.8 833.8L1692.8 833.8L1693.8 833.8L1694.8 833.8L1695.8 833.8L1696.8 833.8L1697.8 833.8L1698.8 833.8L1699.8 833.8L1700.8 833.8L1701.8 833.8L1702.8 833.8L1703.8 833.8L1704.8 833.8L1705.8 833.8L1706.8 833.8L1707.8 833.8L1708.8 833.8L1709.8 833.8L1710.8 833.8L1711.8 833.8L1712.8 833.8L1713.8 833.8L1714.8 833.8L1715.8 833.8L1716.8 833.8L1717.8 833.8L1718.8 833.8L1719.8 833.8L1720.8 833.8L1721.8 833.8L1722.8 833.8L1723.8 833.8L1724.8 833.8L1725.8 833.8L1726.8 833.8L1727.8 833.8L1728.8 833.8L1729.8 833.8L1730.8 833.8L1731.8 833.8L1732.8 833.8L1733.8 833.8L1734.8 833.8L1735.8 833.8L1736.8 833.8L1737.8 833.8L1738.8 833.8L1739.8 833.8L1740.8 833.8L1741.8 833.8L1742.8 833.8L1743.8 833.8L1744.8 833.8L1745.8 833.8L1746.8 833.8L1747.8 833.8L1748.8 833.8L1749.8 833.8L1750.8 833.8L1751.8 833.8L1752.8 833.8L1753.8 833.8L1754.8 833.8L1755.8 833.8L1756.8 833.8L1757.8 833.8L1758.8 833.8L1759.8 833.8L1760.8 833.8L1761.8 833.8L1762.8 833.8L1763.8 833.8L1764.8 833.8L1765.8 833.8L1766.8 833.8L1767.8 833.8L1768.8 833.8L1769.8 833.8L1770.8 833.8L1771.8 833.8L1772.8 833.8L1773.8 833.8L1774.8 833.8L1775.8 833.8L1776.8 833.8L1777.8 833.8L1778.8 833.8L1779.8 833.8L1780.8 833.8L1781.8 833.8L1782.8 833.8L1783.8 833.8L1784.8 833.8L1785.8 833.8L1786.8 833.8L1787.8 833.8L1788.8 833.8L1789.8 833.8L1790.8 833.8L1791.8 833.8L1792.8 833.8L1793.8 833.8L1794.8 833.8L1795.8 833.8L1796.8 833.8L1797.8 833.8L1798.8 833.8L1799.8 833.8L1800.8 833.8L1801.8 833.8L1802.8 833.8L1803.8 833.8L1804.8 833.8L1805.8 833.8L1806.8 833.8L1807.8 833.8L1808.8 833.8L1809.8 833.8L1810.8 833.8L1811.8 833.8L1812.8 833.8L1813.8 833.8L1814.8 833.8L1815.8 833.8L1816.8 833.8L1817.8 833.8L1818.8 833.8L1819.8 833.8L1820.8 833.8L1821.8 833.8L1822.8 833.8L1823.8 833.8L1824.8 833.8L1825.8 833.8L1826.8 833.8L1827.8 833.8L1828.8 833.8L1829.8 833.8L1830.8 833.8L1831.8 833.8L1832.8 833.8L1833.8 833.8L1834.8 833.8"/>
</g>
<line class="tk" x1="237.3" y1="904.3" x2="237.3" y2="920.7"/><text class="t" transform="translate(237.3 969.3) scale(1 1.035)" text-anchor="middle">0</text>
<line class="tk" x1="442.8" y1="904.3" x2="442.8" y2="920.7"/><text class="t" transform="translate(442.8 969.3) scale(1 1.035)" text-anchor="middle">25</text>
<line class="tk" x1="648.2" y1="904.3" x2="648.2" y2="920.7"/><text class="t" transform="translate(648.2 969.3) scale(1 1.035)" text-anchor="middle">50</text>
<line class="tk" x1="853.7" y1="904.3" x2="853.7" y2="920.7"/><text class="t" transform="translate(853.7 969.3) scale(1 1.035)" text-anchor="middle">75</text>
<line class="tk" x1="1059.1" y1="904.3" x2="1059.1" y2="920.7"/><text class="t" transform="translate(1059.1 969.3) scale(1 1.035)" text-anchor="middle">100</text>
<line class="tk" x1="1264.5" y1="904.3" x2="1264.5" y2="920.7"/><text class="t" transform="translate(1264.5 969.3) scale(1 1.035)" text-anchor="middle">125</text>
<line class="tk" x1="1470.0" y1="904.3" x2="1470.0" y2="920.7"/><text class="t" transform="translate(1470.0 969.3) scale(1 1.035)" text-anchor="middle">150</text>
<line class="tk" x1="1675.5" y1="904.3" x2="1675.5" y2="920.7"/><text class="t" transform="translate(1675.5 969.3) scale(1 1.035)" text-anchor="middle">175</text>
<line class="tk" x1="1880.9" y1="904.3" x2="1880.9" y2="920.7"/><text class="t" transform="translate(1880.9 969.3) scale(1 1.035)" text-anchor="middle">200</text>
<line class="tk" x1="140.8" y1="620.7" x2="157.2" y2="620.7"/><text class="t" transform="translate(125.1 636.7) scale(1 1.035)" text-anchor="end">4</text>
<line class="tk" x1="140.8" y1="727.45" x2="157.2" y2="727.45"/><text class="t" transform="translate(125.1 743.5) scale(1 1.035)" text-anchor="end">2</text>
<line class="tk" x1="140.8" y1="834.2" x2="157.2" y2="834.2"/><text class="t" transform="translate(125.1 850.2) scale(1 1.035)" text-anchor="end">0</text>
<rect class="sp" x="157.2" y="607.5" width="1762.6" height="296.8"/>
<text class="y" transform="translate(72.7 755.9) rotate(-90) scale(1 1.03)" text-anchor="middle">y error(m)</text>
</g>
<g id="ax2">
<g clip-path="url(#c2)">
<path class="b" d="M237.3 1308.4L238.3 1309.5L239.3 1312.3L240.3 1316.9L241.3 1329.7L242.3 1343.2L243.3 1350.9L244.3 1357.8L245.3 1363.4L246.3 1367.0L247.3 1367.5L248.3 1363.3L249.3 1356.5L250.3 1350.1L251.3 1346.7L252.3 1344.4L253.3 1342.5L254.3 1341.0L255.3 1339.6L256.3 1338.3L257.3 1337.2L258.3 1336.1L259.3 1335.1L260.3 1334.2L261.3 1333.5L262.3 1332.8L263.3 1332.3L264.3 1331.9L265.3 1331.5L266.3 1331.1L267.3 1330.8L268.3 1330.5L269.3 1330.1L270.3 1329.8L271.3 1329.4L272.3 1328.9L273.3 1328.3L274.3 1327.7L275.3 1327.0L276.3 1326.2L277.3 1325.3L278.3 1324.4L279.3 1323.4L280.3 1322.4L281.3 1321.3L282.3 1320.0L283.3 1318.6L284.3 1317.1L285.3 1315.6L286.3 1314.1L287.3 1312.5L288.3 1311.0L289.3 1309.4L290.3 1307.7L291.3 1306.0L292.3 1304.4L293.3 1302.7L294.3 1301.1L295.3 1299.6L296.2 1298.2L297.2 1296.7L298.2 1295.3L299.2 1294.0L300.2 1292.6L301.2 1291.3L302.2 1290.1L303.2 1288.9L304.2 1287.8L305.2 1286.7L306.2 1285.6L307.2 1284.5L308.2 1283.5L309.2 1282.6L310.2 1281.8L311.2 1281.0L312.2 1280.3L313.2 1279.6L314.2 1278.9L315.2 1278.3L316.2 1277.7L317.2 1277.2L318.2 1276.7L319.2 1276.2L320.2 1275.8L321.2 1275.3L322.2 1274.9L323.2 1274.6L324.2 1274.2L325.2 1273.9L326.2 1273.7L327.2 1273.4L328.2 1273.1L329.2 1272.9L330.2 1272.7L331.2 1272.4L332.2 1272.2L333.2 1272.0L334.2 1271.8L335.2 1271.7L336.2 1271.5L337.2 1271.3L338.2 1271.2L339.2 1271.1L340.2 1271.0L341.2 1270.9L342.2 1270.8L343.2 1270.7L344.2 1270.6L345.2 1270.5L346.2 1270.5L347.2 1270.4L348.2 1270.3L349.2 1270.3L350.2 1270.2L351.2 1270.2L352.2 1270.1L353.2 1270.1L354.2 1270.0L355.2 1270.0L356.2 1270.0L357.2 1269.9L358.2 1269.9L359.2 1269.8L360.2 1269.8L361.2 1269.8L362.2 1269.7L363.2 1269.7L364.2 1269.6L365.2 1269.6L366.2 1269.6L367.2 1269.5L368.2 1269.5L369.2 1269.5L370.2 1269.5L371.2 1269.4L372.2 1269.4L373.2 1269.4L374.2 1269.4L375.2 1269.4L376.2 1269.3L377.2 1269.3L378.2 1269.3L379.2 1269.3L380.2 1269.3L381.2 1269.3L382.2 1269.3L383.2 1269.3L384.2 1269.3L385.2 1269.3L386.2 1269.3L387.2 1269.3L388.2 1269.3L389.2 1269.3L390.2 1269.2L391.2 1269.2L392.2 1269.2L393.2 1269.2L394.2 1269.2L395.2 1269.2L396.2 1269.2L397.2 1269.2L398.2 1269.2L399.2 1269.2L400.2 1269.2L401.2 1269.2L402.2 1269.2L403.2 1269.2L404.2 1269.2L405.2 1269.2L406.2 1269.2L407.2 1269.2L408.2 1269.2L409.2 1269.2L410.2 1269.2L411.2 1269.2L412.2 1269.2L413.2 1269.1L414.1 1269.1L415.1 1269.1L416.1 1269.1L417.1 1269.1L418.1 1269.1L419.1 1269.1L420.1 1269.1L421.1 1269.1L422.1 1269.1L423.1 1269.1L424.1 1269.1L425.1 1269.1L426.1 1269.1L427.1 1269.1L428.1 1269.1L429.1 1269.1L430.1 1269.1L431.1 1269.1L432.1 1269.1L433.1 1269.1L434.1 1269.1L435.1 1269.1L436.1 1269.1L437.1 1269.1L438.1 1269.1L439.1 1269.1L440.1 1269.1L441.1 1269.1L442.1 1269.1L443.1 1269.1L444.1 1269.1L445.1 1269.1L446.1 1269.1L447.1 1269.1L448.1 1269.0L449.1 1269.0L450.1 1269.0L451.1 1269.0L452.1 1269.0L453.1 1269.0L454.1 1269.0L455.1 1269.0L456.1 1269.0L457.1 1269.0L458.1 1269.0L459.1 1269.0L460.1 1269.0L461.1 1269.0L462.1 1269.0L463.1 1269.0L464.1 1269.0L465.1 1269.0L466.1 1269.0L467.1 1269.0L468.1 1269.0L469.1 1269.0L470.1 1269.0L471.1 1269.0L472.1 1269.0L473.1 1269.0L474.1 1269.0L475.1 1269.0L476.1 1269.0L477.1 1269.0L478.1 1269.0L479.1 1269.0L480.1 1269.0L481.1 1269.0L482.1 1269.0L483.1 1269.0L484.1 1269.0L485.1 1269.0L486.1 1269.0L487.1 1269.0L488.1 1269.0L489.1 1269.0L490.1 1269.0L491.1 1269.0L492.1 1269.0L493.1 1269.0L494.1 1269.0L495.1 1269.0L496.1 1269.0L497.1 1269.0L498.1 1269.0L499.1 1269.0L500.1 1269.0L501.1 1269.0L502.1 1269.0L503.1 1269.0L504.1 1269.0L505.1 1269.0L506.1 1269.0L507.1 1269.0L508.1 1269.0L509.1 1269.0L510.1 1269.0L511.1 1269.0L512.1 1269.0L513.1 1269.0L514.1 1269.0L515.1 1269.0L516.1 1269.0L517.1 1269.0L518.1 1269.0L519.1 1269.0L520.1 1269.0L521.1 1269.0L522.1 1269.0L523.1 1269.0L524.1 1269.0L525.1 1269.0L526.1 1269.0L527.1 1269.0L528.1 1269.0L529.1 1269.0L530.1 1269.0L531.0 1269.0L532.0 1269.0L533.0 1269.0L534.0 1269.0L535.0 1269.0L536.0 1269.0L537.0 1269.0L538.0 1269.0L539.0 1269.0L540.0 1269.0L541.0 1269.0L542.0 1269.0L543.0 1269.0L544.0 1269.0L545.0 1269.0L546.0 1269.0L547.0 1269.0L548.0 1269.0L549.0 1269.0L550.0 1269.0L551.0 1269.0L552.0 1269.0L553.0 1269.0L554.0 1269.0L555.0 1269.0L556.0 1269.0L557.0 1269.0L558.0 1269.0L559.0 1269.0L560.0 1269.0L561.0 1269.0L562.0 1269.0L563.0 1269.0L564.0 1269.0L565.0 1269.0L566.0 1269.0L567.0 1269.0L568.0 1269.0L569.0 1269.0L570.0 1269.0L571.0 1269.0L572.0 1269.0L573.0 1269.0L574.0 1269.0L575.0 1269.0L576.0 1269.0L577.0 1269.0L578.0 1269.0L579.0 1269.0L580.0 1269.0L581.0 1269.0L582.0 1269.0L583.0 1269.0L584.0 1269.0L585.0 1269.0L586.0 1269.0L587.0 1269.0L588.0 1269.0L589.0 1269.0L590.0 1269.0L591.0 1269.0L592.0 1269.0L593.0 1269.0L594.0 1269.0L595.0 1269.0L596.0 1269.0L597.0 1269.0L598.0 1269.0L599.0 1269.0L600.0 1269.0L601.0 1269.0L602.0 1269.0L603.0 1269.0L604.0 1269.0L605.0 1269.0L606.0 1269.0L607.0 1269.0L608.0 1269.0L609.0 1269.0L610.0 1269.0L611.0 1269.0L612.0 1269.0L613.0 1269.0L614.0 1269.0L615.0 1269.0L616.0 1269.0L617.0 1269.0L618.0 1269.0L619.0 1269.0L620.0 1269.0L621.0 1269.0L622.0 1269.0L623.0 1269.0L624.0 1269.0L625.0 1269.0L626.0 1269.0L627.0 1269.0L628.0 1269.0L629.0 1269.0L630.0 1269.0L631.0 1269.0L632.0 1269.0L633.0 1269.0L634.0 1269.0L635.0 1269.0L636.0 1269.0L637.0 1269.0L638.0 1269.0L639.0 1269.0L640.0 1269.0L641.0 1269.0L642.0 1269.0L643.0 1269.0L644.0 1269.0L645.0 1269.0L646.0 1269.0L647.0 1269.0L648.0 1269.0L648.9 1269.0L649.9 1269.0L650.9 1269.0L651.9 1269.0L652.9 1269.0L653.9 1269.0L654.9 1269.0L655.9 1269.0L656.9 1269.0L657.9 1269.0L658.9 1269.0L659.9 1269.0L660.9 1269.0L661.9 1269.0L662.9 1269.0L663.9 1269.0L664.9 1269.0L665.9 1269.0L666.9 1269.0L667.9 1269.0L668.9 1269.0L669.9 1269.0L670.9 1269.0L671.9 1269.0L672.9 1269.0L673.9 1269.0L674.9 1269.0L675.9 1269.0L676.9 1269.0L677.9 1269.0L678.9 1269.0L679.9 1269.0L680.9 1269.0L681.9 1269.0L682.9 1269.0L683.9 1269.0L684.9 1269.0L685.9 1269.0L686.9 1269.0L687.9 1269.0L688.9 1269.0L689.9 1269.0L690.9 1269.0L691.9 1269.0L692.9 1269.0L693.9 1269.0L694.9 1269.0L695.9 1269.0L696.9 1269.0L697.9 1269.0L698.9 1269.0L699.9 1269.0L700.9 1269.0L701.9 1269.0L702.9 1269.0L703.9 1269.0L704.9 1269.0L705.9 1269.0L706.9 1269.0L707.9 1269.0L708.9 1269.0L709.9 1269.0L710.9 1269.0L711.9 1269.0L712.9 1269.0L713.9 1269.0L714.9 1269.0L715.9 1269.0L716.9 1269.0L717.9 1269.0L718.9 1269.0L719.9 1269.0L720.9 1269.0L721.9 1269.0L722.9 1269.0L723.9 1269.0L724.9 1269.0L725.9 1269.0L726.9 1269.0L727.9 1269.0L728.9 1269.0L729.9 1269.0L730.9 1269.0L731.9 1269.0L732.9 1269.0L733.9 1269.0L734.9 1269.0L735.9 1269.0L736.9 1269.0L737.9 1269.0L738.9 1269.0L739.9 1269.0L740.9 1269.0L741.9 1269.0L742.9 1269.0L743.9 1269.0L744.9 1269.0L745.9 1269.0L746.9 1269.0L747.9 1269.0L748.9 1269.0L749.9 1269.0L750.9 1269.0L751.9 1269.0L752.9 1269.0L753.9 1269.0L754.9 1269.0L755.9 1269.0L756.9 1269.0L757.9 1269.0L758.9 1269.0L759.9 1269.0L760.9 1269.0L761.9 1269.0L762.9 1269.0L763.9 1269.0L764.9 1269.0L765.8 1269.0L766.8 1269.0L767.8 1269.0L768.8 1269.0L769.8 1269.0L770.8 1269.0L771.8 1269.0L772.8 1269.0L773.8 1269.0L774.8 1269.0L775.8 1269.0L776.8 1269.0L777.8 1269.0L778.8 1269.0L779.8 1269.0L780.8 1269.0L781.8 1269.0L782.8 1269.0L783.8 1269.0L784.8 1269.0L785.8 1269.0L786.8 1269.0L787.8 1269.0L788.8 1269.0L789.8 1269.0L790.8 1269.0L791.8 1269.0L792.8 1269.0L793.8 1269.0L794.8 1269.0L795.8 1269.0L796.8 1269.0L797.8 1269.0L798.8 1269.0L799.8 1269.0L800.8 1269.0L801.8 1269.0L802.8 1269.0L803.8 1269.0L804.8 1269.0L805.8 1269.0L806.8 1269.0L807.8 1269.0L808.8 1269.0L809.8 1269.0L810.8 1269.0L811.8 1269.0L812.8 1269.0L813.8 1269.0L814.8 1269.0L815.8 1269.0L816.8 1269.0L817.8 1269.0L818.8 1269.0L819.8 1269.0L820.8 1269.0L821.8 1269.0L822.8 1269.0L823.8 1269.0L824.8 1269.0L825.8 1269.0L826.8 1269.0L827.8 1269.0L828.8 1269.0L829.8 1269.0L830.8 1269.0L831.8 1269.0L832.8 1269.0L833.8 1269.0L834.8 1269.0L835.8 1269.0L836.8 1269.0L837.8 1269.0L838.8 1269.0L839.8 1269.0L840.8 1269.0L841.8 1269.0L842.8 1269.0L843.8 1269.0L844.8 1269.0L845.8 1269.0L846.8 1269.0L847.8 1269.0L848.8 1269.0L849.8 1269.0L850.8 1269.0L851.8 1269.0L852.8 1269.0L853.8 1269.0L854.8 1269.0L855.8 1269.0L856.8 1269.0L857.8 1269.0L858.8 1269.0L859.8 1269.0L860.8 1269.0L861.8 1269.0L862.8 1269.0L863.8 1269.0L864.8 1269.0L865.8 1269.0L866.8 1269.0L867.8 1269.0L868.8 1269.0L869.8 1269.0L870.8 1269.0L871.8 1269.0L872.8 1269.0L873.8 1269.0L874.8 1269.0L875.8 1269.0L876.8 1269.0L877.8 1269.0L878.8 1269.0L879.8 1269.0L880.8 1269.0L881.8 1269.0L882.7 1269.0L883.7 1269.0L884.7 1269.0L885.7 1269.0L886.7 1269.0L887.7 1269.0L888.7 1269.0L889.7 1269.0L890.7 1269.0L891.7 1269.0L892.7 1269.0L893.7 1269.0L894.7 1269.0L895.7 1269.0L896.7 1269.0L897.7 1269.0L898.7 1269.0L899.7 1269.0L900.7 1269.0L901.7 1269.0L902.7 1269.0L903.7 1269.0L904.7 1269.0L905.7 1269.0L906.7 1269.0L907.7 1269.0L908.7 1269.0L909.7 1269.0L910.7 1269.0L911.7 1269.0L912.7 1269.0L913.7 1269.0L914.7 1269.0L915.7 1269.0L916.7 1269.0L917.7 1269.0L918.7 1269.0L919.7 1269.0L920.7 1269.0L921.7 1269.0L922.7 1269.0L923.7 1269.0L924.7 1269.0L925.7 1269.0L926.7 1269.0L927.7 1269.0L928.7 1269.0L929.7 1269.0L930.7 1269.0L931.7 1269.0L932.7 1269.0L933.7 1269.0L934.7 1269.0L935.7 1269.0L936.7 1269.0L937.7 1269.0L938.7 1269.0L939.7 1269.0L940.7 1269.0L941.7 1269.0L942.7 1269.0L943.7 1269.0L944.7 1269.0L945.7 1269.0L946.7 1269.0L947.7 1269.0L948.7 1269.0L949.7 1269.0L950.7 1269.0L951.7 1269.0L952.7 1269.0L953.7 1269.0L954.7 1269.0L955.7 1269.0L956.7 1269.0L957.7 1269.0L958.7 1269.0L959.7 1269.0L960.7 1269.0L961.7 1269.0L962.7 1269.0L963.7 1269.0L964.7 1269.0L965.7 1269.0L966.7 1269.0L967.7 1269.0L968.7 1269.0L969.7 1269.0L970.7 1269.0L971.7 1269.0L972.7 1269.0L973.7 1269.0L974.7 1269.0L975.7 1269.0L976.7 1269.0L977.7 1269.0L978.7 1269.0L979.7 1269.0L980.7 1269.0L981.7 1269.0L982.7 1269.0L983.7 1269.0L984.7 1269.0L985.7 1269.0L986.7 1269.0L987.7 1269.0L988.7 1269.0L989.7 1269.0L990.7 1269.0L991.7 1269.0L992.7 1269.0L993.7 1269.0L994.7 1269.0L995.7 1269.0L996.7 1269.0L997.7 1269.0L998.7 1269.0L999.7 1269.0L1000.6 1269.0L1001.6 1269.0L1002.6 1269.0L1003.6 1269.0L1004.6 1269.0L1005.6 1269.0L1006.6 1269.0L1007.6 1269.0L1008.6 1269.0L1009.6 1269.0L1010.6 1269.0L1011.6 1269.0L1012.6 1269.0L1013.6 1269.0L1014.6 1269.0L1015.6 1269.0L1016.6 1269.0L1017.6 1269.0L1018.6 1269.0L1019.6 1269.0L1020.6 1269.0L1021.6 1269.0L1022.6 1269.0L1023.6 1269.0L1024.6 1269.0L1025.6 1269.0L1026.6 1269.0L1027.6 1269.0L1028.6 1269.0L1029.6 1269.0L1030.6 1269.0L1031.6 1269.0L1032.6 1269.0L1033.6 1269.0L1034.6 1269.0L1035.6 1269.0L1036.6 1269.0L1037.6 1269.0L1038.6 1269.0L1039.6 1269.0L1040.6 1269.0L1041.6 1269.0L1042.6 1269.0L1043.6 1269.0L1044.6 1269.0L1045.6 1269.0L1046.6 1269.0L1047.6 1269.0L1048.6 1269.0L1049.6 1269.0L1050.6 1269.0L1051.6 1269.0L1052.6 1269.0L1053.6 1269.0L1054.6 1269.0L1055.6 1269.0L1056.6 1269.0L1057.6 1269.0L1058.6 1269.0L1059.0 1188.0L1060.0 1175.8L1061.0 1165.0L1062.0 1156.1L1063.0 1148.2L1064.0 1140.0L1065.0 1130.3L1066.0 1120.2L1067.0 1112.0L1068.0 1105.2L1069.0 1099.5L1070.0 1097.0L1071.0 1099.4L1072.0 1104.9L1073.0 1111.7L1074.0 1121.8L1075.0 1132.0L1076.0 1140.8L1077.0 1149.6L1078.0 1157.9L1079.0 1165.1L1080.0 1171.0L1081.0 1175.9L1082.0 1180.2L1083.0 1184.0L1084.0 1187.6L1085.0 1191.1L1086.0 1194.7L1087.0 1198.4L1088.0 1202.0L1089.0 1205.5L1090.0 1208.8L1091.0 1212.0L1092.0 1214.9L1093.0 1217.5L1094.0 1220.0L1095.0 1222.4L1096.0 1224.7L1097.0 1226.9L1098.0 1229.0L1099.0 1231.0L1100.0 1232.8L1101.0 1234.5L1102.0 1236.0L1103.0 1237.5L1104.0 1238.8L1105.0 1240.1L1106.0 1241.3L1107.0 1242.5L1108.0 1243.6L1109.0 1244.7L1110.0 1245.7L1111.0 1246.7L1112.0 1247.7L1113.0 1248.7L1114.0 1249.6L1115.0 1250.5L1116.0 1251.5L1117.0 1252.4L1118.0 1253.3L1119.0 1254.2L1120.0 1255.0L1121.0 1255.9L1122.0 1256.6L1123.0 1257.4L1124.0 1258.1L1125.0 1258.7L1126.0 1259.2L1127.0 1259.8L1128.0 1260.3L1129.0 1260.8L1130.0 1261.2L1131.0 1261.7L1132.0 1262.1L1133.0 1262.5L1134.0 1262.8L1135.0 1263.2L1136.0 1263.5L1137.0 1263.7L1138.0 1264.0L1139.0 1264.2L1140.0 1264.4L1141.0 1264.7L1142.0 1264.9L1143.0 1265.1L1144.0 1265.2L1145.0 1265.4L1146.0 1265.5L1147.0 1265.6L1148.0 1265.7L1149.0 1265.8L1150.0 1265.8L1151.0 1265.9L1152.0 1265.9L1153.0 1265.9L1154.0 1266.0L1155.0 1266.0L1156.0 1266.0L1157.0 1266.1L1158.0 1266.1L1159.0 1266.1L1160.0 1266.1L1161.0 1266.1L1162.0 1266.2L1163.0 1266.2L1164.0 1266.2L1165.0 1266.2L1166.0 1266.2L1167.0 1266.2L1168.0 1266.2L1169.0 1266.2L1170.0 1266.2L1171.0 1266.2L1172.0 1266.2L1173.0 1266.2L1174.0 1266.2L1175.0 1266.2L1176.0 1266.2L1177.0 1266.2L1178.0 1266.2L1179.0 1266.2L1180.0 1266.2L1181.0 1266.2L1182.0 1266.2L1183.0 1266.2L1184.0 1266.2L1185.0 1266.2L1186.0 1266.2L1187.0 1266.2L1188.0 1266.2L1189.0 1266.2L1190.0 1266.2L1191.0 1266.2L1192.0 1266.2L1193.0 1266.2L1194.0 1266.2L1195.0 1266.2L1196.0 1266.2L1197.0 1266.2L1198.0 1266.2L1199.0 1266.2L1200.0 1266.3L1201.0 1266.3L1202.0 1266.3L1203.0 1266.3L1204.0 1266.3L1205.0 1266.3L1206.0 1266.3L1207.0 1266.3L1208.0 1266.3L1209.0 1266.3L1210.0 1266.3L1211.0 1266.3L1212.0 1266.3L1213.0 1266.3L1214.0 1266.3L1215.0 1266.3L1216.0 1266.3L1217.0 1266.3L1218.0 1266.3L1219.0 1266.3L1220.0 1266.3L1221.0 1266.3L1222.0 1266.3L1223.0 1266.3L1224.0 1266.3L1225.0 1266.3L1226.0 1266.3L1227.0 1266.3L1228.0 1266.3L1229.0 1266.3L1230.0 1266.3L1231.0 1266.3L1232.0 1266.3L1233.0 1266.3L1234.0 1266.3L1235.0 1266.3L1236.0 1266.3L1237.0 1266.3L1238.0 1266.3L1239.0 1266.3L1240.0 1266.3L1241.0 1266.3L1242.0 1266.3L1243.0 1266.3L1244.0 1266.3L1245.0 1266.3L1246.0 1266.3L1247.0 1266.3L1248.0 1266.3L1249.0 1266.3L1250.0 1266.3L1251.0 1266.3L1252.0 1266.3L1253.0 1266.3L1254.0 1266.3L1255.0 1266.3L1256.0 1266.3L1257.0 1266.3L1258.0 1266.3L1259.0 1266.3L1260.0 1266.3L1261.0 1266.3L1262.0 1266.3L1263.0 1266.3L1264.0 1266.3L1264.9 1266.3L1265.9 1266.3L1266.9 1266.3L1267.9 1266.3L1268.9 1266.3L1269.9 1266.3L1270.9 1266.3L1271.9 1266.3L1272.9 1266.3L1273.9 1266.4L1274.9 1266.4L1275.9 1266.4L1276.9 1266.4L1277.9 1266.4L1278.9 1266.4L1279.9 1266.4L1280.9 1266.4L1281.9 1266.4L1282.9 1266.4L1283.9 1266.4L1284.9 1266.4L1285.9 1266.4L1286.9 1266.4L1287.9 1266.4L1288.9 1266.4L1289.9 1266.4L1290.9 1266.4L1291.9 1266.4L1292.9 1266.4L1293.9 1266.4L1294.9 1266.4L1295.9 1266.4L1296.9 1266.4L1297.9 1266.4L1298.9 1266.4L1299.9 1266.4L1300.9 1266.4L1301.9 1266.4L1302.9 1266.4L1303.9 1266.4L1304.9 1266.4L1305.9 1266.4L1306.9 1266.4L1307.9 1266.4L1308.9 1266.4L1309.9 1266.4L1310.9 1266.4L1311.9 1266.4L1312.9 1266.4L1313.9 1266.4L1314.9 1266.4L1315.9 1266.4L1316.9 1266.4L1317.9 1266.4L1318.9 1266.4L1319.9 1266.4L1320.9 1266.4L1321.9 1266.4L1322.9 1266.4L1323.9 1266.4L1324.9 1266.4L1325.9 1266.4L1326.9 1266.4L1327.9 1266.4L1328.9 1266.4L1329.9 1266.4L1330.9 1266.4L1331.9 1266.4L1332.9 1266.4L1333.9 1266.4L1334.9 1266.4L1335.9 1266.4L1336.9 1266.4L1337.9 1266.4L1338.9 1266.4L1339.9 1266.4L1340.9 1266.4L1341.9 1266.4L1342.9 1266.4L1343.9 1266.4L1344.9 1266.4L1345.9 1266.4L1346.9 1266.4L1347.9 1266.4L1348.9 1266.4L1349.9 1266.4L1350.9 1266.4L1351.9 1266.4L1352.9 1266.4L1353.9 1266.4L1354.9 1266.4L1355.9 1266.4L1356.9 1266.4L1357.9 1266.4L1358.9 1266.4L1359.9 1266.4L1360.9 1266.4L1361.9 1266.4L1362.9 1266.4L1363.9 1266.4L1364.9 1266.4L1365.9 1266.4L1366.9 1266.4L1367.9 1266.4L1368.9 1266.4L1369.9 1266.4L1370.9 1266.5L1371.9 1266.5L1372.9 1266.5L1373.9 1266.5L1374.9 1266.5L1375.9 1266.5L1376.9 1266.5L1377.9 1266.5L1378.9 1266.5L1379.9 1266.5L1380.9 1266.5L1381.9 1266.5L1382.9 1266.5L1383.9 1266.5L1384.9 1266.5L1385.9 1266.5L1386.9 1266.5L1387.9 1266.5L1388.9 1266.5L1389.9 1266.5L1390.9 1266.5L1391.9 1266.5L1392.9 1266.5L1393.9 1266.5L1394.9 1266.5L1395.9 1266.5L1396.9 1266.5L1397.9 1266.5L1398.9 1266.5L1399.9 1266.5L1400.9 1266.5L1401.9 1266.5L1402.9 1266.5L1403.9 1266.5L1404.9 1266.5L1405.9 1266.5L1406.9 1266.5L1407.9 1266.5L1408.9 1266.5L1409.9 1266.5L1410.9 1266.5L1411.9 1266.5L1412.9 1266.5L1413.9 1266.5L1414.9 1266.5L1415.9 1266.5L1416.9 1266.5L1417.9 1266.5L1418.9 1266.5L1419.9 1266.5L1420.9 1266.5L1421.9 1266.5L1422.9 1266.5L1423.9 1266.5L1424.9 1266.5L1425.9 1266.5L1426.9 1266.5L1427.9 1266.5L1428.9 1266.5L1429.9 1266.5L1430.9 1266.5L1431.9 1266.5L1432.9 1266.5L1433.9 1266.5L1434.9 1266.5L1435.9 1266.5L1436.9 1266.5L1437.9 1266.5L1438.9 1266.5L1439.9 1266.5L1440.9 1266.5L1441.9 1266.5L1442.9 1266.5L1443.9 1266.5L1444.9 1266.5L1445.9 1266.5L1446.9 1266.5L1447.9 1266.5L1448.9 1266.5L1449.9 1266.5L1450.9 1266.5L1451.9 1266.5L1452.9 1266.5L1453.9 1266.5L1454.9 1266.5L1455.9 1266.5L1456.9 1266.5L1457.9 1266.5L1458.9 1266.5L1459.9 1266.5L1460.9 1266.5L1461.9 1266.5L1462.9 1266.5L1463.9 1266.5L1464.9 1266.5L1465.9 1266.5L1466.9 1266.5L1467.9 1266.5L1468.9 1266.5L1469.9 1266.5L1470.9 1266.5L1471.9 1266.5L1472.9 1266.5L1473.9 1266.5L1474.9 1266.5L1475.9 1266.5L1476.9 1266.5L1477.9 1266.5L1478.9 1266.5L1479.9 1266.5L1480.9 1266.5L1481.9 1266.5L1482.9 1266.5L1483.9 1266.5L1484.9 1266.5L1485.9 1266.5L1486.9 1266.5L1487.9 1266.5L1488.9 1266.5L1489.9 1266.5L1490.9 1266.5L1491.9 1266.5L1492.9 1266.5L1493.9 1266.5L1494.9 1266.5L1495.9 1266.5L1496.9 1266.5L1497.9 1266.5L1498.9 1266.5L1499.9 1266.5L1500.9 1266.5L1501.9 1266.5L1502.9 1266.5L1503.9 1266.5L1504.9 1266.5L1505.9 1266.5L1506.9 1266.5L1507.9 1266.5L1508.9 1266.5L1509.9 1266.5L1510.9 1266.5L1511.9 1266.5L1512.9 1266.5L1513.9 1266.5L1514.9 1266.5L1515.9 1266.5L1516.9 1266.5L1517.9 1266.5L1518.9 1266.5L1519.9 1266.5L1520.9 1266.5L1521.9 1266.5L1522.9 1266.5L1523.9 1266.5L1524.9 1266.5L1525.9 1266.5L1526.9 1266.5L1527.9 1266.5L1528.9 1266.5L1529.9 1266.6L1530.9 1266.6L1531.9 1266.6L1532.9 1266.6L1533.9 1266.6L1534.9 1266.6L1535.9 1266.6L1536.9 1266.6L1537.9 1266.6L1538.9 1266.6L1539.9 1266.6L1540.9 1266.6L1541.9 1266.6L1542.9 1266.6L1543.9 1266.6L1544.9 1266.6L1545.9 1266.6L1546.9 1266.6L1547.9 1266.6L1548.9 1266.6L1549.9 1266.6L1550.9 1266.6L1551.9 1266.6L1552.9 1266.6L1553.9 1266.6L1554.9 1266.6L1555.9 1266.6L1556.9 1266.6L1557.9 1266.6L1558.9 1266.6L1559.9 1266.6L1560.9 1266.6L1561.9 1266.6L1562.9 1266.6L1563.9 1266.6L1564.9 1266.6L1565.9 1266.6L1566.9 1266.6L1567.9 1266.6L1568.9 1266.6L1569.9 1266.6L1570.9 1266.6L1571.9 1266.6L1572.9 1266.6L1573.9 1266.6L1574.9 1266.6L1575.9 1266.6L1576.9 1266.6L1577.9 1266.6L1578.9 1266.6L1579.9 1266.6L1580.9 1266.6L1581.9 1266.6L1582.9 1266.6L1583.9 1266.6L1584.9 1266.6L1585.9 1266.6L1586.9 1266.6L1587.9 1266.6L1588.9 1266.6L1589.9 1266.6L1590.9 1266.6L1591.9 1266.6L1592.9 1266.6L1593.9 1266.6L1594.9 1266.6L1595.9 1266.6L1596.9 1266.6L1597.9 1266.6L1598.9 1266.6L1599.9 1266.6L1600.9 1266.6L1601.9 1266.6L1602.9 1266.6L1603.9 1266.6L1604.9 1266.6L1605.9 1266.6L1606.9 1266.6L1607.9 1266.6L1608.9 1266.6L1609.9 1266.6L1610.9 1266.6L1611.9 1266.6L1612.9 1266.6L1613.9 1266.6L1614.9 1266.6L1615.9 1266.6L1616.9 1266.6L1617.9 1266.6L1618.9 1266.6L1619.9 1266.6L1620.9 1266.6L1621.9 1266.6L1622.9 1266.6L1623.9 1266.6L1624.9 1266.6L1625.9 1266.6L1626.9 1266.6L1627.9 1266.6L1628.9 1266.6L1629.9 1266.6L1630.9 1266.6L1631.9 1266.6L1632.9 1266.6L1633.9 1266.6L1634.9 1266.6L1635.9 1266.6L1636.9 1266.6L1637.9 1266.6L1638.9 1266.6L1639.9 1266.6L1640.9 1266.6L1641.9 1266.6L1642.9 1266.6L1643.9 1266.6L1644.9 1266.6L1645.9 1266.6L1646.9 1266.6L1647.9 1266.6L1648.9 1266.6L1649.9 1266.6L1650.9 1266.6L1651.9 1266.6L1652.9 1266.6L1653.9 1266.6L1654.9 1266.6L1655.9 1266.6L1656.9 1266.6L1657.9 1266.6L1658.9 1266.6L1659.9 1266.6L1660.9 1266.6L1661.9 1266.6L1662.9 1266.6L1663.9 1266.6L1664.9 1266.6L1665.9 1266.6L1666.9 1266.6L1667.9 1266.6L1668.9 1266.6L1669.9 1266.6L1670.9 1266.6L1671.9 1266.6L1672.9 1266.6L1673.9 1266.6L1674.9 1266.6L1675.8 1266.6L1676.8 1266.6L1677.8 1266.6L1678.8 1266.6L1679.8 1266.6L1680.8 1266.6L1681.8 1266.6L1682.8 1266.6L1683.8 1266.6L1684.8 1266.6L1685.8 1266.6L1686.8 1266.6L1687.8 1266.6L1688.8 1266.6L1689.8 1266.6L1690.8 1266.6L1691.8 1266.6L1692.8 1266.6L1693.8 1266.6L1694.8 1266.6L1695.8 1266.6L1696.8 1266.6L1697.8 1266.6L1698.8 1266.6L1699.8 1266.6L1700.8 1266.6L1701.8 1266.6L1702.8 1266.6L1703.8 1266.6L1704.8 1266.6L1705.8 1266.6L1706.8 1266.6L1707.8 1266.6L1708.8 1266.6L1709.8 1266.6L1710.8 1266.6L1711.8 1266.6L1712.8 1266.6L1713.8 1266.6L1714.8 1266.6L1715.8 1266.6L1716.8 1266.6L1717.8 1266.6L1718.8 1266.6L1719.8 1266.6L1720.8 1266.6L1721.8 1266.6L1722.8 1266.6L1723.8 1266.6L1724.8 1266.6L1725.8 1266.6L1726.8 1266.6L1727.8 1266.6L1728.8 1266.6L1729.8 1266.6L1730.8 1266.6L1731.8 1266.6L1732.8 1266.6L1733.8 1266.6L1734.8 1266.6L1735.8 1266.6L1736.8 1266.6L1737.8 1266.6L1738.8 1266.6L1739.8 1266.6L1740.8 1266.6L1741.8 1266.6L1742.8 1266.6L1743.8 1266.6L1744.8 1266.6L1745.8 1266.6L1746.8 1266.6L1747.8 1266.6L1748.8 1266.6L1749.8 1266.6L1750.8 1266.6L1751.8 1266.6L1752.8 1266.6L1753.8 1266.6L1754.8 1266.6L1755.8 1266.6L1756.8 1266.6L1757.8 1266.6L1758.8 1266.6L1759.8 1266.6L1760.8 1266.6L1761.8 1266.6L1762.8 1266.6L1763.8 1266.6L1764.8 1266.6L1765.8 1266.6L1766.8 1266.6L1767.8 1266.6L1768.8 1266.6L1769.8 1266.6L1770.8 1266.6L1771.8 1266.6L1772.8 1266.6L1773.8 1266.6L1774.8 1266.6L1775.8 1266.6L1776.8 1266.6L1777.8 1266.6L1778.8 1266.6L1779.8 1266.6L1780.8 1266.6L1781.8 1266.6L1782.8 1266.6L1783.8 1266.6L1784.8 1266.6L1785.8 1266.6L1786.8 1266.6L1787.8 1266.6L1788.8 1266.6L1789.8 1266.6L1790.8 1266.6L1791.8 1266.6L1792.8 1266.6L1793.8 1266.6L1794.8 1266.6L1795.8 1266.6L1796.8 1266.6L1797.8 1266.6L1798.8 1266.6L1799.8 1266.6L1800.8 1266.6L1801.8 1266.6L1802.8 1266.6L1803.8 1266.6L1804.8 1266.6L1805.8 1266.6L1806.8 1266.6L1807.8 1266.6L1808.8 1266.6L1809.8 1266.6L1810.8 1266.6L1811.8 1266.6L1812.8 1266.6L1813.8 1266.6L1814.8 1266.6L1815.8 1266.6L1816.8 1266.6L1817.8 1266.6L1818.8 1266.6L1819.8 1266.6L1820.8 1266.6L1821.8 1266.6L1822.8 1266.6L1823.8 1266.6L1824.8 1266.6L1825.8 1266.6L1826.8 1266.6L1827.8 1266.6L1828.8 1266.6L1829.8 1266.6L1830.8 1266.6L1831.8 1266.6L1832.8 1266.6L1833.8 1266.6L1834.8 1266.6L1835.8 1266.6L1836.8 1266.6L1837.8 1266.6L1838.8 1266.6L1839.8 1266.6"/>
<path class="g" d="M237.3 1308.4L238.3 1295.1L239.3 1285.0L240.3 1278.7L241.3 1274.0L242.3 1271.4L243.3 1269.8L244.3 1268.7L245.3 1269.1L246.3 1272.4L247.3 1277.1L248.3 1282.4L249.3 1288.9L250.3 1293.9L251.3 1297.9L252.3 1301.2L253.3 1303.6L254.3 1305.8L255.3 1307.3L256.3 1307.5L257.3 1305.1L258.3 1300.9L259.3 1296.9L260.3 1292.2L261.3 1287.6L262.3 1284.3L263.3 1281.9L264.3 1280.0L265.3 1278.3L266.3 1276.9L267.3 1275.6L268.3 1274.4L269.3 1273.3L270.3 1272.3L271.3 1271.4L272.3 1270.4L273.3 1269.6L274.3 1268.7L275.3 1267.9L276.3 1267.2L277.3 1266.5L278.3 1265.8L279.3 1265.1L280.3 1264.4L281.3 1263.7L282.3 1263.1L283.3 1262.4L284.3 1261.9L285.3 1261.5L286.3 1261.2L287.3 1261.0L288.3 1261.0L289.3 1261.1L290.3 1261.3L291.3 1261.6L292.3 1261.9L293.3 1262.3L294.3 1262.6L295.3 1263.0L296.2 1263.4L297.2 1263.8L298.2 1264.1L299.2 1264.4L300.2 1264.8L301.2 1265.2L302.2 1265.6L303.2 1266.1L304.2 1266.5L305.2 1266.9L306.2 1267.2L307.2 1267.5L308.2 1267.8L309.2 1267.9L310.2 1268.0L311.2 1268.1L312.2 1268.1L313.2 1268.1L314.2 1268.2L315.2 1268.2L316.2 1268.3L317.2 1268.3L318.2 1268.3L319.2 1268.4L320.2 1268.4L321.2 1268.4L322.2 1268.4L323.2 1268.4L324.2 1268.5L325.2 1268.5L326.2 1268.5L327.2 1268.5L328.2 1268.5L329.2 1268.5L330.2 1268.5L331.2 1268.5L332.2 1268.4L333.2 1268.3L334.2 1268.1L335.2 1267.9L336.2 1267.8L337.2 1267.6L338.2 1267.4L339.2 1267.2L340.2 1267.0L341.2 1266.8L342.2 1266.7L343.2 1266.6L344.2 1266.5L345.2 1266.5L346.2 1266.5L347.2 1266.6L348.2 1266.6L349.2 1266.7L350.2 1266.8L351.2 1266.9L352.2 1267.0L353.2 1267.1L354.2 1267.2L355.2 1267.2L356.2 1267.3L357.2 1267.4L358.2 1267.5L359.2 1267.5L360.2 1267.5L361.2 1267.5L362.2 1267.5L363.2 1267.5L364.2 1267.5L365.2 1267.5L366.2 1267.5L367.2 1267.5L368.2 1267.5L369.2 1267.5L370.2 1267.5L371.2 1267.6L372.2 1267.6L373.2 1267.6L374.2 1267.6L375.2 1267.6L376.2 1267.6L377.2 1267.6L378.2 1267.6L379.2 1267.6L380.2 1267.6L381.2 1267.6L382.2 1267.6L383.2 1267.6L384.2 1267.6L385.2 1267.6L386.2 1267.6L387.2 1267.6L388.2 1267.6L389.2 1267.6L390.2 1267.6L391.2 1267.6L392.2 1267.6L393.2 1267.6L394.2 1267.6L395.2 1267.6L396.2 1267.6L397.2 1267.6L398.2 1267.6L399.2 1267.6L400.2 1267.6L401.2 1267.6L402.2 1267.6L403.2 1267.6L404.2 1267.6L405.2 1267.6L406.2 1267.6L407.2 1267.6L408.2 1267.6L409.2 1267.6L410.2 1267.6L411.2 1267.6L412.2 1267.6L413.2 1267.6L414.1 1267.6L415.1 1267.6L416.1 1267.6L417.1 1267.6L418.1 1267.6L419.1 1267.6L420.1 1267.6L421.1 1267.6L422.1 1267.6L423.1 1267.6L424.1 1267.6L425.1 1267.6L426.1 1267.6L427.1 1267.6L428.1 1267.6L429.1 1267.6L430.1 1267.6L431.1 1267.6L432.1 1267.6L433.1 1267.6L434.1 1267.6L435.1 1267.6L436.1 1267.6L437.1 1267.6L438.1 1267.6L439.1 1267.6L440.1 1267.6L441.1 1267.6L442.1 1267.6L443.1 1267.6L444.1 1267.6L445.1 1267.6L446.1 1267.6L447.1 1267.6L448.1 1267.6L449.1 1267.6L450.1 1267.6L451.1 1267.6L452.1 1267.6L453.1 1267.6L454.1 1267.6L455.1 1267.6L456.1 1267.6L457.1 1267.6L458.1 1267.6L459.1 1267.6L460.1 1267.6L461.1 1267.6L462.1 1267.6L463.1 1267.6L464.1 1267.6L465.1 1267.6L466.1 1267.6L467.1 1267.6L468.1 1267.6L469.1 1267.6L470.1 1267.6L471.1 1267.6L472.1 1267.6L473.1 1267.6L474.1 1267.6L475.1 1267.6L476.1 1267.6L477.1 1267.6L478.1 1267.7L479.1 1267.7L480.1 1267.7L481.1 1267.7L482.1 1267.7L483.1 1267.7L484.1 1267.7L485.1 1267.7L486.1 1267.7L487.1 1267.7L488.1 1267.7L489.1 1267.7L490.1 1267.7L491.1 1267.7L492.1 1267.7L493.1 1267.7L494.1 1267.7L495.1 1267.7L496.1 1267.7L497.1 1267.7L498.1 1267.7L499.1 1267.7L500.1 1267.7L501.1 1267.7L502.1 1267.7L503.1 1267.7L504.1 1267.7L505.1 1267.7L506.1 1267.7L507.1 1267.7L508.1 1267.7L509.1 1267.7L510.1 1267.7L511.1 1267.7L512.1 1267.7L513.1 1267.7L514.1 1267.7L515.1 1267.7L516.1 1267.7L517.1 1267.7L518.1 1267.7L519.1 1267.7L520.1 1267.7L521.1 1267.7L522.1 1267.7L523.1 1267.7L524.1 1267.7L525.1 1267.7L526.1 1267.7L527.1 1267.7L528.1 1267.7L529.1 1267.7L530.1 1267.7L531.0 1267.7L532.0 1267.7L533.0 1267.7L534.0 1267.7L535.0 1267.7L536.0 1267.7L537.0 1267.7L538.0 1267.7L539.0 1267.7L540.0 1267.7L541.0 1267.7L542.0 1267.7L543.0 1267.7L544.0 1267.7L545.0 1267.7L546.0 1267.7L547.0 1267.7L548.0 1267.7L549.0 1267.7L550.0 1267.7L551.0 1267.7L552.0 1267.7L553.0 1267.7L554.0 1267.7L555.0 1267.7L556.0 1267.7L557.0 1267.7L558.0 1267.7L559.0 1267.7L560.0 1267.7L561.0 1267.7L562.0 1267.7L563.0 1267.7L564.0 1267.7L565.0 1267.7L566.0 1267.7L567.0 1267.7L568.0 1267.7L569.0 1267.7L570.0 1267.7L571.0 1267.7L572.0 1267.7L573.0 1267.7L574.0 1267.7L575.0 1267.7L576.0 1267.7L577.0 1267.7L578.0 1267.7L579.0 1267.7L580.0 1267.7L581.0 1267.7L582.0 1267.7L583.0 1267.7L584.0 1267.7L585.0 1267.7L586.0 1267.7L587.0 1267.7L588.0 1267.7L589.0 1267.7L590.0 1267.7L591.0 1267.7L592.0 1267.7L593.0 1267.7L594.0 1267.7L595.0 1267.7L596.0 1267.7L597.0 1267.7L598.0 1267.7L599.0 1267.7L600.0 1267.7L601.0 1267.7L602.0 1267.7L603.0 1267.7L604.0 1267.7L605.0 1267.7L606.0 1267.7L607.0 1267.7L608.0 1267.7L609.0 1267.7L610.0 1267.7L611.0 1267.7L612.0 1267.7L613.0 1267.7L614.0 1267.7L615.0 1267.7L616.0 1267.7L617.0 1267.7L618.0 1267.7L619.0 1267.7L620.0 1267.7L621.0 1267.7L622.0 1267.7L623.0 1267.7L624.0 1267.7L625.0 1267.7L626.0 1267.7L627.0 1267.7L628.0 1267.7L629.0 1267.7L630.0 1267.7L631.0 1267.7L632.0 1267.7L633.0 1267.7L634.0 1267.7L635.0 1267.7L636.0 1267.7L637.0 1267.7L638.0 1267.7L639.0 1267.7L640.0 1267.7L641.0 1267.7L642.0 1267.7L643.0 1267.7L644.0 1267.7L645.0 1267.7L646.0 1267.7L647.0 1267.7L648.0 1267.7L648.9 1267.7L649.9 1267.7L650.9 1267.7L651.9 1267.7L652.9 1267.7L653.9 1267.7L654.9 1267.7L655.9 1267.7L656.9 1267.7L657.9 1267.7L658.9 1267.7L659.9 1267.7L660.9 1267.7L661.9 1267.7L662.9 1267.7L663.9 1267.7L664.9 1267.7L665.9 1267.7L666.9 1267.7L667.9 1267.7L668.9 1267.7L669.9 1267.7L670.9 1267.7L671.9 1267.7L672.9 1267.7L673.9 1267.7L674.9 1267.7L675.9 1267.7L676.9 1267.7L677.9 1267.7L678.9 1267.7L679.9 1267.7L680.9 1267.7L681.9 1267.7L682.9 1267.7L683.9 1267.7L684.9 1267.7L685.9 1267.7L686.9 1267.7L687.9 1267.7L688.9 1267.7L689.9 1267.7L690.9 1267.7L691.9 1267.7L692.9 1267.7L693.9 1267.7L694.9 1267.7L695.9 1267.7L696.9 1267.7L697.9 1267.7L698.9 1267.7L699.9 1267.7L700.9 1267.7L701.9 1267.7L702.9 1267.8L703.9 1267.8L704.9 1267.8L705.9 1267.8L706.9 1267.8L707.9 1267.8L708.9 1267.8L709.9 1267.8L710.9 1267.8L711.9 1267.8L712.9 1267.8L713.9 1267.8L714.9 1267.8L715.9 1267.8L716.9 1267.8L717.9 1267.8L718.9 1267.8L719.9 1267.8L720.9 1267.8L721.9 1267.8L722.9 1267.8L723.9 1267.8L724.9 1267.8L725.9 1267.8L726.9 1267.8L727.9 1267.8L728.9 1267.8L729.9 1267.8L730.9 1267.8L731.9 1267.8L732.9 1267.8L733.9 1267.8L734.9 1267.8L735.9 1267.8L736.9 1267.8L737.9 1267.8L738.9 1267.8L739.9 1267.8L740.9 1267.8L741.9 1267.8L742.9 1267.8L743.9 1267.8L744.9 1267.8L745.9 1267.8L746.9 1267.8L747.9 1267.8L748.9 1267.8L749.9 1267.8L750.9 1267.8L751.9 1267.8L752.9 1267.8L753.9 1267.8L754.9 1267.8L755.9 1267.8L756.9 1267.8L757.9 1267.8L758.9 1267.8L759.9 1267.8L760.9 1267.8L761.9 1267.8L762.9 1267.8L763.9 1267.8L764.9 1267.8L765.8 1267.8L766.8 1267.8L767.8 1267.8L768.8 1267.8L769.8 1267.8L770.8 1267.8L771.8 1267.8L772.8 1267.8L773.8 1267.8L774.8 1267.8L775.8 1267.8L776.8 1267.8L777.8 1267.8L778.8 1267.8L779.8 1267.8L780.8 1267.8L781.8 1267.8L782.8 1267.8L783.8 1267.8L784.8 1267.8L785.8 1267.8L786.8 1267.8L787.8 1267.8L788.8 1267.8L789.8 1267.8L790.8 1267.8L791.8 1267.8L792.8 1267.8L793.8 1267.8L794.8 1267.8L795.8 1267.8L796.8 1267.8L797.8 1267.8L798.8 1267.8L799.8 1267.8L800.8 1267.8L801.8 1267.8L802.8 1267.8L803.8 1267.8L804.8 1267.8L805.8 1267.8L806.8 1267.8L807.8 1267.8L808.8 1267.8L809.8 1267.8L810.8 1267.8L811.8 1267.8L812.8 1267.8L813.8 1267.8L814.8 1267.8L815.8 1267.8L816.8 1267.8L817.8 1267.8L818.8 1267.8L819.8 1267.8L820.8 1267.8L821.8 1267.8L822.8 1267.8L823.8 1267.8L824.8 1267.8L825.8 1267.8L826.8 1267.8L827.8 1267.8L828.8 1267.8L829.8 1267.8L830.8 1267.8L831.8 1267.8L832.8 1267.8L833.8 1267.8L834.8 1267.8L835.8 1267.8L836.8 1267.8L837.8 1267.8L838.8 1267.8L839.8 1267.8L840.8 1267.8L841.8 1267.8L842.8 1267.8L843.8 1267.8L844.8 1267.8L845.8 1267.8L846.8 1267.8L847.8 1267.8L848.8 1267.8L849.8 1267.8L850.8 1267.8L851.8 1267.8L852.8 1267.8L853.8 1267.8L854.8 1267.8L855.8 1267.8L856.8 1267.8L857.8 1267.8L858.8 1267.8L859.8 1267.8L860.8 1267.8L861.8 1267.8L862.8 1267.8L863.8 1267.8L864.8 1267.8L865.8 1267.8L866.8 1267.8L867.8 1267.8L868.8 1267.8L869.8 1267.8L870.8 1267.8L871.8 1267.8L872.8 1267.8L873.8 1267.8L874.8 1267.8L875.8 1267.8L876.8 1267.8L877.8 1267.8L878.8 1267.8L879.8 1267.8L880.8 1267.8L881.8 1267.8L882.7 1267.8L883.7 1267.8L884.7 1267.8L885.7 1267.8L886.7 1267.8L887.7 1267.8L888.7 1267.8L889.7 1267.8L890.7 1267.8L891.7 1267.8L892.7 1267.8L893.7 1267.8L894.7 1267.8L895.7 1267.8L896.7 1267.8L897.7 1267.8L898.7 1267.8L899.7 1267.8L900.7 1267.8L901.7 1267.8L902.7 1267.8L903.7 1267.8L904.7 1267.8L905.7 1267.8L906.7 1267.8L907.7 1267.8L908.7 1267.8L909.7 1267.8L910.7 1267.8L911.7 1267.8L912.7 1267.8L913.7 1267.8L914.7 1267.8L915.7 1267.8L916.7 1267.8L917.7 1267.8L918.7 1267.8L919.7 1267.8L920.7 1267.8L921.7 1267.8L922.7 1267.8L923.7 1267.8L924.7 1267.8L925.7 1267.8L926.7 1267.8L927.7 1267.8L928.7 1267.8L929.7 1267.8L930.7 1267.8L931.7 1267.8L932.7 1267.8L933.7 1267.8L934.7 1267.8L935.7 1267.8L936.7 1267.8L937.7 1267.8L938.7 1267.8L939.7 1267.8L940.7 1267.8L941.7 1267.8L942.7 1267.8L943.7 1267.8L944.7 1267.8L945.7 1267.8L946.7 1267.8L947.7 1267.8L948.7 1267.8L949.7 1267.8L950.7 1267.8L951.7 1267.8L952.7 1267.8L953.7 1267.8L954.7 1267.8L955.7 1267.8L956.7 1267.8L957.7 1267.8L958.7 1267.8L959.7 1267.8L960.7 1267.8L961.7 1267.8L962.7 1267.8L963.7 1267.8L964.7 1267.8L965.7 1267.8L966.7 1267.8L967.7 1267.8L968.7 1267.8L969.7 1267.8L970.7 1267.8L971.7 1267.8L972.7 1267.8L973.7 1267.8L974.7 1267.8L975.7 1267.8L976.7 1267.8L977.7 1267.8L978.7 1267.8L979.7 1267.8L980.7 1267.8L981.7 1267.8L982.7 1267.8L983.7 1267.8L984.7 1267.8L985.7 1267.8L986.7 1267.8L987.7 1267.8L988.7 1267.8L989.7 1267.8L990.7 1267.8L991.7 1267.8L992.7 1267.8L993.7 1267.8L994.7 1267.8L995.7 1267.8L996.7 1267.8L997.7 1267.8L998.7 1267.8L999.7 1267.8L1000.6 1267.8L1001.6 1267.8L1002.6 1267.8L1003.6 1267.8L1004.6 1267.8L1005.6 1267.8L1006.6 1267.8L1007.6 1267.8L1008.6 1267.8L1009.6 1267.8L1010.6 1267.8L1011.6 1267.8L1012.6 1267.8L1013.6 1267.8L1014.6 1267.8L1015.6 1267.8L1016.6 1267.8L1017.6 1267.8L1018.6 1267.8L1019.6 1267.8L1020.6 1267.8L1021.6 1267.8L1022.6 1267.8L1023.6 1267.8L1024.6 1267.8L1025.6 1267.8L1026.6 1267.8L1027.6 1267.8L1028.6 1267.8L1029.6 1267.8L1030.6 1267.8L1031.6 1267.8L1032.6 1267.8L1033.6 1267.8L1034.6 1267.8L1035.6 1267.8L1036.6 1267.8L1037.6 1267.8L1038.6 1267.8L1039.6 1267.8L1040.6 1267.8L1041.6 1267.8L1042.6 1267.8L1043.6 1267.8L1044.6 1267.8L1045.6 1267.8L1046.6 1267.8L1047.6 1267.8L1048.6 1267.8L1049.6 1267.8L1050.6 1267.8L1051.6 1267.8L1052.6 1267.8L1053.6 1267.8L1054.6 1267.8L1055.6 1267.8L1056.6 1267.8L1057.6 1267.8L1058.6 1267.8L1059.0 1188.0L1060.0 1201.8L1061.0 1215.0L1062.0 1228.3L1063.0 1240.0L1064.0 1249.6L1065.0 1257.9L1066.0 1264.0L1067.0 1268.7L1068.0 1273.0L1069.0 1276.4L1070.0 1278.3L1071.0 1278.5L1072.0 1277.8L1073.0 1276.6L1074.0 1275.0L1075.0 1273.2L1076.0 1271.5L1077.0 1270.0L1078.0 1268.6L1079.0 1267.0L1080.0 1265.4L1081.0 1264.0L1082.0 1262.8L1083.0 1262.0L1084.0 1261.4L1085.0 1260.9L1086.0 1260.5L1087.0 1260.1L1088.0 1259.8L1089.0 1259.6L1090.0 1259.5L1091.0 1259.5L1092.0 1259.6L1093.0 1259.6L1094.0 1259.7L1095.0 1259.8L1096.0 1259.9L1097.0 1260.0L1098.0 1260.2L1099.0 1260.3L1100.0 1260.5L1101.0 1260.7L1102.0 1261.0L1103.0 1261.3L1104.0 1261.7L1105.0 1262.1L1106.0 1262.5L1107.0 1262.9L1108.0 1263.3L1109.0 1263.6L1110.0 1264.0L1111.0 1264.3L1112.0 1264.7L1113.0 1265.1L1114.0 1265.5L1115.0 1265.8L1116.0 1266.2L1117.0 1266.6L1118.0 1266.9L1119.0 1267.2L1120.0 1267.5L1121.0 1267.8L1122.0 1268.0L1123.0 1268.2L1124.0 1268.4L1125.0 1268.6L1126.0 1268.8L1127.0 1269.0L1128.0 1269.1L1129.0 1269.3L1130.0 1269.4L1131.0 1269.6L1132.0 1269.7L1133.0 1269.7L1134.0 1269.8L1135.0 1269.8L1136.0 1269.8L1137.0 1269.8L1138.0 1269.8L1139.0 1269.8L1140.0 1269.8L1141.0 1269.8L1142.0 1269.8L1143.0 1269.8L1144.0 1269.8L1145.0 1269.8L1146.0 1269.8L1147.0 1269.8L1148.0 1269.8L1149.0 1269.8L1150.0 1269.8L1151.0 1269.8L1152.0 1269.8L1153.0 1269.8L1154.0 1269.8L1155.0 1269.8L1156.0 1269.8L1157.0 1269.8L1158.0 1269.8L1159.0 1269.8L1160.0 1269.8L1161.0 1269.8L1162.0 1269.8L1163.0 1269.8L1164.0 1269.8L1165.0 1269.8L1166.0 1269.8L1167.0 1269.8L1168.0 1269.8L1169.0 1269.8L1170.0 1269.8L1171.0 1269.8L1172.0 1269.8L1173.0 1269.8L1174.0 1269.8L1175.0 1269.8L1176.0 1269.8L1177.0 1269.8L1178.0 1269.8L1179.0 1269.8L1180.0 1269.8L1181.0 1269.8L1182.0 1269.7L1183.0 1269.7L1184.0 1269.7L1185.0 1269.7L1186.0 1269.7L1187.0 1269.7L1188.0 1269.7L1189.0 1269.7L1190.0 1269.7L1191.0 1269.7L1192.0 1269.7L1193.0 1269.7L1194.0 1269.7L1195.0 1269.7L1196.0 1269.7L1197.0 1269.7L1198.0 1269.7L1199.0 1269.7L1200.0 1269.7L1201.0 1269.7L1202.0 1269.7L1203.0 1269.7L1204.0 1269.7L1205.0 1269.7L1206.0 1269.7L1207.0 1269.7L1208.0 1269.7L1209.0 1269.7L1210.0 1269.7L1211.0 1269.7L1212.0 1269.7L1213.0 1269.7L1214.0 1269.7L1215.0 1269.7L1216.0 1269.7L1217.0 1269.7L1218.0 1269.7L1219.0 1269.7L1220.0 1269.7L1221.0 1269.7L1222.0 1269.6L1223.0 1269.6L1224.0 1269.6L1225.0 1269.6L1226.0 1269.6L1227.0 1269.6L1228.0 1269.6L1229.0 1269.6L1230.0 1269.6L1231.0 1269.6L1232.0 1269.6L1233.0 1269.6L1234.0 1269.6L1235.0 1269.6L1236.0 1269.6L1237.0 1269.6L1238.0 1269.6L1239.0 1269.6L1240.0 1269.6L1241.0 1269.6L1242.0 1269.6L1243.0 1269.6L1244.0 1269.6L1245.0 1269.6L1246.0 1269.6L1247.0 1269.6L1248.0 1269.6L1249.0 1269.6L1250.0 1269.6L1251.0 1269.6L1252.0 1269.6L1253.0 1269.6L1254.0 1269.5L1255.0 1269.5L1256.0 1269.5L1257.0 1269.5L1258.0 1269.5L1259.0 1269.5L1260.0 1269.5L1261.0 1269.5L1262.0 1269.5L1263.0 1269.5L1264.0 1269.5L1264.9 1269.5L1265.9 1269.5L1266.9 1269.5L1267.9 1269.5L1268.9 1269.5L1269.9 1269.5L1270.9 1269.5L1271.9 1269.5L1272.9 1269.5L1273.9 1269.5L1274.9 1269.5L1275.9 1269.5L1276.9 1269.5L1277.9 1269.5L1278.9 1269.5L1279.9 1269.5L1280.9 1269.5L1281.9 1269.5L1282.9 1269.5L1283.9 1269.4L1284.9 1269.4L1285.9 1269.4L1286.9 1269.4L1287.9 1269.4L1288.9 1269.4L1289.9 1269.4L1290.9 1269.4L1291.9 1269.4L1292.9 1269.4L1293.9 1269.4L1294.9 1269.4L1295.9 1269.4L1296.9 1269.4L1297.9 1269.4L1298.9 1269.4L1299.9 1269.4L1300.9 1269.4L1301.9 1269.4L1302.9 1269.4L1303.9 1269.4L1304.9 1269.4L1305.9 1269.4L1306.9 1269.4L1307.9 1269.4L1308.9 1269.4L1309.9 1269.4L1310.9 1269.4L1311.9 1269.4L1312.9 1269.4L1313.9 1269.4L1314.9 1269.4L1315.9 1269.3L1316.9 1269.3L1317.9 1269.3L1318.9 1269.3L1319.9 1269.3L1320.9 1269.3L1321.9 1269.3L1322.9 1269.3L1323.9 1269.3L1324.9 1269.3L1325.9 1269.3L1326.9 1269.3L1327.9 1269.3L1328.9 1269.3L1329.9 1269.3L1330.9 1269.3L1331.9 1269.3L1332.9 1269.3L1333.9 1269.3L1334.9 1269.3L1335.9 1269.3L1336.9 1269.3L1337.9 1269.3L1338.9 1269.3L1339.9 1269.3L1340.9 1269.3L1341.9 1269.3L1342.9 1269.3L1343.9 1269.3L1344.9 1269.2L1345.9 1269.2L1346.9 1269.2L1347.9 1269.2L1348.9 1269.2L1349.9 1269.2L1350.9 1269.2L1351.9 1269.2L1352.9 1269.2L1353.9 1269.2L1354.9 1269.2L1355.9 1269.2L1356.9 1269.2L1357.9 1269.2L1358.9 1269.2L1359.9 1269.2L1360.9 1269.2L1361.9 1269.2L1362.9 1269.2L1363.9 1269.2L1364.9 1269.2L1365.9 1269.2L1366.9 1269.2L1367.9 1269.2L1368.9 1269.2L1369.9 1269.2L1370.9 1269.1L1371.9 1269.1L1372.9 1269.1L1373.9 1269.1L1374.9 1269.1L1375.9 1269.1L1376.9 1269.1L1377.9 1269.1L1378.9 1269.1L1379.9 1269.1L1380.9 1269.1L1381.9 1269.1L1382.9 1269.1L1383.9 1269.1L1384.9 1269.1L1385.9 1269.1L1386.9 1269.1L1387.9 1269.1L1388.9 1269.1L1389.9 1269.1L1390.9 1269.1L1391.9 1269.1L1392.9 1269.1L1393.9 1269.1L1394.9 1269.0L1395.9 1269.0L1396.9 1269.0L1397.9 1269.0L1398.9 1269.0L1399.9 1269.0L1400.9 1269.0L1401.9 1269.0L1402.9 1269.0L1403.9 1269.0L1404.9 1269.0L1405.9 1269.0L1406.9 1269.0L1407.9 1269.0L1408.9 1269.0L1409.9 1269.0L1410.9 1269.0L1411.9 1269.0L1412.9 1269.0L1413.9 1269.0L1414.9 1269.0L1415.9 1269.0L1416.9 1269.0L1417.9 1268.9L1418.9 1268.9L1419.9 1268.9L1420.9 1268.9L1421.9 1268.9L1422.9 1268.9L1423.9 1268.9L1424.9 1268.9L1425.9 1268.9L1426.9 1268.9L1427.9 1268.9L1428.9 1268.9L1429.9 1268.9L1430.9 1268.9L1431.9 1268.9L1432.9 1268.9L1433.9 1268.9L1434.9 1268.9L1435.9 1268.9L1436.9 1268.9L1437.9 1268.9L1438.9 1268.9L1439.9 1268.9L1440.9 1268.8L1441.9 1268.8L1442.9 1268.8L1443.9 1268.8L1444.9 1268.8L1445.9 1268.8L1446.9 1268.8L1447.9 1268.8L1448.9 1268.8L1449.9 1268.8L1450.9 1268.8L1451.9 1268.8L1452.9 1268.8L1453.9 1268.8L1454.9 1268.8L1455.9 1268.8L1456.9 1268.8L1457.9 1268.8L1458.9 1268.8L1459.9 1268.8L1460.9 1268.8L1461.9 1268.8L1462.9 1268.8L1463.9 1268.7L1464.9 1268.7L1465.9 1268.7L1466.9 1268.7L1467.9 1268.7L1468.9 1268.7L1469.9 1268.7L1470.9 1268.7L1471.9 1268.7L1472.9 1268.7L1473.9 1268.7L1474.9 1268.7L1475.9 1268.7L1476.9 1268.7L1477.9 1268.7L1478.9 1268.7L1479.9 1268.7L1480.9 1268.7L1481.9 1268.7L1482.9 1268.7L1483.9 1268.7L1484.9 1268.7L1485.9 1268.7L1486.9 1268.7L1487.9 1268.6L1488.9 1268.6L1489.9 1268.6L1490.9 1268.6L1491.9 1268.6L1492.9 1268.6L1493.9 1268.6L1494.9 1268.6L1495.9 1268.6L1496.9 1268.6L1497.9 1268.6L1498.9 1268.6L1499.9 1268.6L1500.9 1268.6L1501.9 1268.6L1502.9 1268.6L1503.9 1268.6L1504.9 1268.6L1505.9 1268.6L1506.9 1268.6L1507.9 1268.6L1508.9 1268.6L1509.9 1268.6L1510.9 1268.6L1511.9 1268.6L1512.9 1268.5L1513.9 1268.5L1514.9 1268.5L1515.9 1268.5L1516.9 1268.5L1517.9 1268.5L1518.9 1268.5L1519.9 1268.5L1520.9 1268.5L1521.9 1268.5L1522.9 1268.5L1523.9 1268.5L1524.9 1268.5L1525.9 1268.5L1526.9 1268.5L1527.9 1268.5L1528.9 1268.5L1529.9 1268.5L1530.9 1268.5L1531.9 1268.5L1532.9 1268.5L1533.9 1268.5L1534.9 1268.5L1535.9 1268.5L1536.9 1268.5L1537.9 1268.4L1538.9 1268.4L1539.9 1268.4L1540.9 1268.4L1541.9 1268.4L1542.9 1268.4L1543.9 1268.4L1544.9 1268.4L1545.9 1268.4L1546.9 1268.4L1547.9 1268.4L1548.9 1268.4L1549.9 1268.4L1550.9 1268.4L1551.9 1268.4L1552.9 1268.4L1553.9 1268.4L1554.9 1268.4L1555.9 1268.4L1556.9 1268.4L1557.9 1268.4L1558.9 1268.4L1559.9 1268.4L1560.9 1268.4L1561.9 1268.4L1562.9 1268.4L1563.9 1268.3L1564.9 1268.3L1565.9 1268.3L1566.9 1268.3L1567.9 1268.3L1568.9 1268.3L1569.9 1268.3L1570.9 1268.3L1571.9 1268.3L1572.9 1268.3L1573.9 1268.3L1574.9 1268.3L1575.9 1268.3L1576.9 1268.3L1577.9 1268.3L1578.9 1268.3L1579.9 1268.3L1580.9 1268.3L1581.9 1268.3L1582.9 1268.3L1583.9 1268.3L1584.9 1268.3L1585.9 1268.3L1586.9 1268.3L1587.9 1268.3L1588.9 1268.2L1589.9 1268.2L1590.9 1268.2L1591.9 1268.2L1592.9 1268.2L1593.9 1268.2L1594.9 1268.2L1595.9 1268.2L1596.9 1268.2L1597.9 1268.2L1598.9 1268.2L1599.9 1268.2L1600.9 1268.2L1601.9 1268.2L1602.9 1268.2L1603.9 1268.2L1604.9 1268.2L1605.9 1268.2L1606.9 1268.2L1607.9 1268.2L1608.9 1268.2L1609.9 1268.2L1610.9 1268.2L1611.9 1268.2L1612.9 1268.2L1613.9 1268.1L1614.9 1268.1L1615.9 1268.1L1616.9 1268.1L1617.9 1268.1L1618.9 1268.1L1619.9 1268.1L1620.9 1268.1L1621.9 1268.1L1622.9 1268.1L1623.9 1268.1L1624.9 1268.1L1625.9 1268.1L1626.9 1268.1L1627.9 1268.1L1628.9 1268.1L1629.9 1268.1L1630.9 1268.1L1631.9 1268.1L1632.9 1268.1L1633.9 1268.1L1634.9 1268.1L1635.9 1268.1L1636.9 1268.1L1637.9 1268.1L1638.9 1268.0L1639.9 1268.0L1640.9 1268.0L1641.9 1268.0L1642.9 1268.0L1643.9 1268.0L1644.9 1268.0L1645.9 1268.0L1646.9 1268.0L1647.9 1268.0L1648.9 1268.0L1649.9 1268.0L1650.9 1268.0L1651.9 1268.0L1652.9 1268.0L1653.9 1268.0L1654.9 1268.0L1655.9 1268.0L1656.9 1268.0L1657.9 1268.0L1658.9 1268.0L1659.9 1268.0L1660.9 1268.0L1661.9 1268.0L1662.9 1268.0L1663.9 1267.9L1664.9 1267.9L1665.9 1267.9L1666.9 1267.9L1667.9 1267.9L1668.9 1267.9L1669.9 1267.9L1670.9 1267.9L1671.9 1267.9L1672.9 1267.9L1673.9 1267.9L1674.9 1267.9L1675.8 1267.9L1676.8 1267.9L1677.8 1267.9L1678.8 1267.9L1679.8 1267.9L1680.8 1267.9L1681.8 1267.9L1682.8 1267.9L1683.8 1267.9L1684.8 1267.9L1685.8 1267.9L1686.8 1267.9L1687.8 1267.9L1688.8 1267.8L1689.8 1267.8L1690.8 1267.8L1691.8 1267.8L1692.8 1267.8L1693.8 1267.8L1694.8 1267.8L1695.8 1267.8L1696.8 1267.8L1697.8 1267.8L1698.8 1267.8L1699.8 1267.8L1700.8 1267.8L1701.8 1267.8L1702.8 1267.8L1703.8 1267.8L1704.8 1267.8L1705.8 1267.8L1706.8 1267.8L1707.8 1267.8L1708.8 1267.8L1709.8 1267.8L1710.8 1267.8L1711.8 1267.8L1712.8 1267.7L1713.8 1267.7L1714.8 1267.7L1715.8 1267.7L1716.8 1267.7L1717.8 1267.7L1718.8 1267.7L1719.8 1267.7L1720.8 1267.7L1721.8 1267.7L1722.8 1267.7L1723.8 1267.7L1724.8 1267.7L1725.8 1267.7L1726.8 1267.7L1727.8 1267.7L1728.8 1267.7L1729.8 1267.7L1730.8 1267.7L1731.8 1267.7L1732.8 1267.7L1733.8 1267.7L1734.8 1267.7L1735.8 1267.6L1736.8 1267.6L1737.8 1267.6L1738.8 1267.6L1739.8 1267.6L1740.8 1267.6L1741.8 1267.6L1742.8 1267.6L1743.8 1267.6L1744.8 1267.6L1745.8 1267.6L1746.8 1267.6L1747.8 1267.6L1748.8 1267.6L1749.8 1267.6L1750.8 1267.6L1751.8 1267.6L1752.8 1267.6L1753.8 1267.6L1754.8 1267.6L1755.8 1267.6L1756.8 1267.6L1757.8 1267.6L1758.8 1267.6L1759.8 1267.5L1760.8 1267.5L1761.8 1267.5L1762.8 1267.5L1763.8 1267.5L1764.8 1267.5L1765.8 1267.5L1766.8 1267.5L1767.8 1267.5L1768.8 1267.5L1769.8 1267.5L1770.8 1267.5L1771.8 1267.5L1772.8 1267.5L1773.8 1267.5L1774.8 1267.5L1775.8 1267.5L1776.8 1267.5L1777.8 1267.5L1778.8 1267.5L1779.8 1267.5L1780.8 1267.5L1781.8 1267.5L1782.8 1267.4L1783.8 1267.4L1784.8 1267.4L1785.8 1267.4L1786.8 1267.4L1787.8 1267.4L1788.8 1267.4L1789.8 1267.4L1790.8 1267.4L1791.8 1267.4L1792.8 1267.4L1793.8 1267.4L1794.8 1267.4L1795.8 1267.4L1796.8 1267.4L1797.8 1267.4L1798.8 1267.4L1799.8 1267.4L1800.8 1267.4L1801.8 1267.4L1802.8 1267.4L1803.8 1267.4L1804.8 1267.4L1805.8 1267.3L1806.8 1267.3L1807.8 1267.3L1808.8 1267.3L1809.8 1267.3L1810.8 1267.3L1811.8 1267.3L1812.8 1267.3L1813.8 1267.3L1814.8 1267.3L1815.8 1267.3L1816.8 1267.3L1817.8 1267.3L1818.8 1267.3L1819.8 1267.3L1820.8 1267.3L1821.8 1267.3L1822.8 1267.3L1823.8 1267.3L1824.8 1267.3L1825.8 1267.3L1826.8 1267.3L1827.8 1267.3L1828.8 1267.2L1829.8 1267.2L1830.8 1267.2L1831.8 1267.2L1832.8 1267.2L1833.8 1267.2L1834.8 1267.2L1835.8 1267.2L1836.8 1267.2L1837.8 1267.2L1838.8 1267.2L1839.8 1267.2"/>
<path class="r" d="M237.3 1308.4L238.3 1303.9L239.3 1299.3L240.3 1294.7L241.3 1289.7L242.3 1284.9L243.3 1281.1L244.3 1278.1L245.2 1275.6L246.2 1273.5L247.2 1271.8L248.2 1270.4L249.2 1269.0L250.2 1267.7L251.2 1266.6L252.2 1265.9L253.2 1265.3L254.2 1264.9L255.2 1264.4L256.2 1264.2L257.2 1264.0L258.2 1264.1L259.1 1264.3L260.1 1264.7L261.1 1265.2L262.1 1265.7L263.1 1266.2L264.1 1266.5L265.1 1266.9L266.1 1267.2L267.1 1267.6L268.1 1267.8L269.1 1268.0L270.1 1268.0L271.1 1268.0L272.1 1268.0L273.0 1268.0L274.0 1267.9L275.0 1267.9L276.0 1267.8L277.0 1267.6L278.0 1267.5L279.0 1267.3L280.0 1267.0L283.0 1273.3L286.0 1267.3L289.0 1268.7L292.0 1269.7L295.0 1266.4L298.0 1268.6L301.0 1268.6L304.0 1263.7L307.0 1271.4L310.0 1270.3L313.0 1266.8L316.0 1268.1L319.0 1270.0L322.0 1267.9L325.0 1267.9L328.0 1264.5L331.0 1270.2L334.0 1268.9L337.0 1269.4L340.0 1264.3L343.0 1273.2L346.0 1269.0L349.0 1267.5L352.0 1274.3L355.0 1268.5L358.0 1264.5L361.0 1267.5L364.0 1262.2L367.0 1271.5L370.0 1267.4L373.0 1266.5L376.0 1271.6L379.0 1264.0L382.0 1270.1L385.0 1262.8L388.0 1266.7L391.0 1265.2L394.0 1272.7L397.0 1273.5L400.0 1267.7L403.0 1271.0L406.0 1268.1L409.0 1270.2L412.0 1266.5L415.0 1263.8L418.0 1263.6L421.0 1269.7L424.0 1274.9L427.0 1269.4L430.0 1267.1L433.0 1274.0L436.0 1269.3L439.0 1268.9L442.0 1269.3L445.0 1268.2L448.0 1267.7L451.0 1264.6L454.0 1270.0L457.0 1268.3L460.0 1271.9L463.0 1267.6L466.0 1263.3L469.0 1268.3L472.0 1273.4L475.0 1267.5L478.0 1266.1L481.0 1265.3L484.0 1265.7L487.0 1267.8L490.0 1265.3L493.0 1272.8L496.0 1267.8L499.0 1268.9L502.0 1272.6L505.0 1272.8L508.0 1268.0L511.0 1269.5L514.0 1270.7L517.0 1268.1L520.0 1263.6L523.0 1270.4L526.0 1271.1L529.0 1269.8L532.0 1266.0L535.0 1268.1L538.0 1266.9L541.0 1267.8L544.0 1272.2L547.0 1272.9L550.0 1270.5L553.0 1270.1L556.0 1270.5L559.0 1268.6L562.0 1268.4L565.0 1266.7L568.0 1268.4L571.0 1274.9L574.0 1271.0L577.0 1267.6L580.0 1267.3L583.0 1266.2L586.0 1269.6L589.0 1269.7L592.0 1264.6L595.0 1270.0L598.0 1267.0L601.0 1272.6L604.0 1269.0L607.0 1273.4L610.0 1267.3L613.0 1267.8L616.0 1269.4L619.0 1271.6L622.0 1270.2L625.0 1265.1L628.0 1269.1L631.0 1268.7L634.0 1267.4L637.0 1266.8L640.0 1273.5L643.0 1267.5L646.0 1266.2L649.0 1270.4L652.0 1269.0L655.0 1268.4L658.0 1270.8L661.0 1270.0L664.0 1269.6L667.0 1271.3L670.0 1269.4L673.0 1266.9L676.0 1267.6L679.0 1267.1L682.0 1269.2L685.0 1265.6L688.0 1263.5L691.0 1268.8L694.0 1264.9L697.0 1263.1L700.0 1269.6L703.0 1266.6L706.0 1270.0L709.0 1267.1L712.0 1265.5L715.0 1265.1L718.0 1267.2L721.0 1267.8L724.0 1266.3L727.0 1267.8L730.0 1264.3L733.0 1268.6L736.0 1263.6L739.0 1268.1L742.0 1270.6L745.0 1271.7L748.0 1273.4L751.0 1264.2L754.0 1270.7L757.0 1272.0L760.0 1271.3L763.0 1266.0L766.0 1269.8L769.0 1273.8L772.0 1264.4L775.0 1269.9L778.0 1271.7L781.0 1266.6L784.0 1270.2L787.0 1265.6L790.0 1266.3L793.0 1266.3L796.0 1269.1L799.0 1268.3L802.0 1271.3L805.0 1266.0L808.0 1268.2L811.0 1271.3L814.0 1270.2L817.0 1264.9L820.0 1270.5L823.0 1267.3L826.0 1269.7L829.0 1269.4L832.0 1272.0L835.0 1268.9L838.0 1263.4L841.0 1264.8L844.0 1270.6L847.0 1267.9L850.0 1271.8L853.0 1269.4L856.0 1266.5L859.0 1271.6L862.0 1266.3L865.0 1262.9L868.0 1274.4L871.0 1263.2L874.0 1270.4L877.0 1271.2L880.0 1269.0L883.0 1263.9L886.0 1271.4L889.0 1264.6L892.0 1264.8L895.0 1267.6L898.0 1270.8L901.0 1269.4L904.0 1270.9L907.0 1267.4L910.0 1268.1L913.0 1265.4L916.0 1267.7L919.0 1270.3L922.0 1267.8L925.0 1269.9L928.0 1267.0L931.0 1266.9L934.0 1268.7L937.0 1268.1L940.0 1270.3L943.0 1269.1L946.0 1273.5L949.0 1268.0L952.0 1268.0L955.0 1265.7L958.0 1268.7L961.0 1270.5L964.0 1266.5L967.0 1268.5L970.0 1270.6L973.0 1268.2L976.0 1267.1L979.0 1271.3L982.0 1268.9L985.0 1269.7L988.0 1271.9L991.0 1271.8L994.0 1267.6L997.0 1267.1L1000.0 1269.4L1003.0 1268.2L1006.0 1263.3L1009.0 1272.2L1012.0 1268.7L1015.0 1270.7L1018.0 1265.3L1021.0 1272.2L1024.0 1267.0L1027.0 1268.3L1030.0 1264.7L1033.0 1268.1L1036.0 1268.0L1039.0 1268.1L1042.0 1269.8L1045.0 1268.8L1048.0 1271.3L1051.0 1267.3L1054.0 1265.8L1058.6 1268.6L1059.0 1188.0L1060.0 1192.3L1061.0 1197.3L1062.0 1203.0L1063.0 1209.7L1064.0 1216.0L1065.0 1221.0L1066.0 1225.5L1067.0 1230.0L1068.0 1234.7L1069.0 1239.3L1070.0 1244.0L1071.0 1248.9L1072.0 1254.1L1073.0 1259.2L1074.0 1263.9L1075.0 1268.0L1076.0 1271.6L1077.0 1274.9L1078.0 1277.8L1079.0 1280.0L1080.0 1281.8L1081.0 1283.4L1082.0 1284.5L1083.0 1285.0L1084.0 1284.7L1085.0 1283.8L1086.0 1282.6L1087.0 1281.2L1088.0 1280.0L1089.0 1278.8L1090.0 1277.6L1091.0 1276.3L1092.0 1274.9L1093.0 1273.5L1094.0 1272.0L1095.0 1270.2L1096.0 1268.2L1097.0 1266.1L1098.0 1264.0L1099.0 1262.3L1100.0 1261.0L1101.0 1260.0L1102.0 1259.1L1103.0 1258.4L1104.0 1257.9L1105.0 1257.7L1106.0 1258.0L1107.0 1258.8L1108.0 1259.9L1109.0 1261.3L1110.0 1262.7L1111.0 1264.0L1112.0 1265.2L1113.0 1266.6L1114.0 1268.0L1115.0 1269.5L1116.0 1271.0L1119.0 1267.9L1122.0 1269.8L1125.0 1271.5L1128.0 1270.3L1131.0 1263.1L1134.0 1269.1L1137.0 1272.1L1140.0 1268.2L1143.0 1266.6L1146.0 1268.9L1149.0 1266.6L1152.0 1269.8L1155.0 1268.0L1158.0 1271.9L1161.0 1269.4L1164.0 1266.0L1167.0 1269.7L1170.0 1270.6L1173.0 1266.4L1176.0 1266.8L1179.0 1261.5L1182.0 1270.5L1185.0 1266.4L1188.0 1262.1L1191.0 1263.0L1194.0 1267.4L1197.0 1270.1L1200.0 1267.8L1203.0 1269.3L1206.0 1264.9L1209.0 1264.2L1212.0 1270.5L1215.0 1269.4L1218.0 1267.9L1221.0 1271.6L1224.0 1265.3L1227.0 1266.8L1230.0 1270.9L1233.0 1273.1L1236.0 1268.0L1239.0 1272.7L1242.0 1266.3L1245.0 1268.9L1248.0 1267.5L1251.0 1263.6L1254.0 1268.7L1257.0 1270.6L1260.0 1267.6L1263.0 1267.8L1266.0 1271.9L1269.0 1264.5L1272.0 1263.8L1275.0 1266.2L1278.0 1264.6L1281.0 1271.8L1284.0 1268.9L1287.0 1265.6L1290.0 1266.3L1293.0 1275.5L1296.0 1266.3L1299.0 1265.9L1302.0 1268.9L1305.0 1269.8L1308.0 1268.6L1311.0 1265.5L1314.0 1264.8L1317.0 1269.7L1320.0 1267.8L1323.0 1263.4L1326.0 1271.3L1329.0 1270.2L1332.0 1267.3L1335.0 1267.3L1338.0 1268.6L1341.0 1266.1L1344.0 1264.2L1347.0 1268.9L1350.0 1264.0L1353.0 1269.1L1356.0 1264.0L1359.0 1267.7L1362.0 1267.6L1365.0 1273.0L1368.0 1265.0L1371.0 1264.0L1374.0 1266.2L1377.0 1264.9L1380.0 1266.3L1383.0 1269.2L1386.0 1270.2L1389.0 1272.6L1392.0 1265.9L1395.0 1275.4L1398.0 1273.6L1401.0 1267.4L1404.0 1261.6L1407.0 1267.8L1410.0 1268.2L1413.0 1261.6L1416.0 1268.2L1419.0 1267.4L1422.0 1265.8L1425.0 1269.8L1428.0 1270.8L1431.0 1266.6L1434.0 1268.6L1437.0 1266.2L1440.0 1265.8L1443.0 1268.2L1446.0 1269.5L1449.0 1266.4L1452.0 1261.8L1455.0 1269.6L1458.0 1263.5L1461.0 1268.3L1464.0 1273.0L1467.0 1268.0L1470.0 1264.7L1473.0 1263.9L1476.0 1271.3L1479.0 1268.0L1482.0 1269.5L1485.0 1270.6L1488.0 1267.9L1491.0 1267.1L1494.0 1265.3L1497.0 1260.5L1500.0 1263.7L1503.0 1267.8L1506.0 1267.5L1509.0 1269.1L1512.0 1267.6L1515.0 1268.4L1518.0 1270.2L1521.0 1265.5L1524.0 1267.2L1527.0 1263.5L1530.0 1270.7L1533.0 1268.1L1536.0 1269.4L1539.0 1272.3L1542.0 1271.0L1545.0 1267.8L1548.0 1270.2L1551.0 1264.0L1554.0 1269.2L1557.0 1268.4L1560.0 1263.5L1563.0 1271.7L1566.0 1266.0L1569.0 1269.9L1572.0 1266.8L1575.0 1270.8L1578.0 1271.7L1581.0 1265.7L1584.0 1263.7L1587.0 1267.6L1590.0 1270.4L1593.0 1267.0L1596.0 1266.3L1599.0 1269.4L1602.0 1260.5L1605.0 1266.1L1608.0 1264.1L1611.0 1268.8L1614.0 1265.9L1617.0 1264.9L1620.0 1267.0L1623.0 1263.9L1626.0 1268.0L1629.0 1266.1L1632.0 1266.9L1635.0 1266.0L1638.0 1270.6L1641.0 1267.7L1644.0 1269.5L1647.0 1269.3L1650.0 1265.7L1653.0 1269.6L1656.0 1269.0L1659.0 1268.9L1662.0 1266.9L1665.0 1266.8L1668.0 1270.2L1671.0 1274.1L1674.0 1265.7L1677.0 1269.5L1680.0 1267.0L1683.0 1270.2L1686.0 1269.2L1689.0 1271.0L1692.0 1260.5L1695.0 1266.3L1698.0 1265.2L1701.0 1267.7L1704.0 1266.0L1707.0 1266.2L1710.0 1269.9L1713.0 1273.3L1716.0 1260.5L1719.0 1267.1L1722.0 1268.9L1725.0 1268.0L1728.0 1267.0L1731.0 1264.2L1734.0 1265.4L1737.0 1270.0L1740.0 1271.0L1743.0 1268.3L1746.0 1265.7L1749.0 1268.3L1752.0 1267.3L1755.0 1269.5L1758.0 1268.3L1761.0 1266.3L1764.0 1268.5L1767.0 1264.7L1770.0 1270.3L1773.0 1271.3L1776.0 1264.7L1779.0 1269.2L1782.0 1265.2L1785.0 1271.0L1788.0 1270.5L1791.0 1267.4L1794.0 1270.8L1797.0 1266.8L1800.0 1266.2L1803.0 1266.4L1806.0 1267.6L1809.0 1267.1L1812.0 1268.4L1815.0 1266.3L1818.0 1270.1L1821.0 1270.9L1824.0 1266.6L1827.0 1264.0L1830.0 1270.0L1833.0 1271.2L1836.0 1267.5L1839.8 1265.0"/>
</g>
<line class="tk" x1="237.3" y1="1381.0" x2="237.3" y2="1397.4"/><text class="t" transform="translate(237.3 1446.0) scale(1 1.035)" text-anchor="middle">0</text>
<line class="tk" x1="442.8" y1="1381.0" x2="442.8" y2="1397.4"/><text class="t" transform="translate(442.8 1446.0) scale(1 1.035)" text-anchor="middle">25</text>
<line class="tk" x1="648.2" y1="1381.0" x2="648.2" y2="1397.4"/><text class="t" transform="translate(648.2 1446.0) scale(1 1.035)" text-anchor="middle">50</text>
<line class="tk" x1="853.7" y1="1381.0" x2="853.7" y2="1397.4"/><text class="t" transform="translate(853.7 1446.0) scale(1 1.035)" text-anchor="middle">75</text>
<line class="tk" x1="1059.1" y1="1381.0" x2="1059.1" y2="1397.4"/><text class="t" transform="translate(1059.1 1446.0) scale(1 1.035)" text-anchor="middle">100</text>
<line class="tk" x1="1264.5" y1="1381.0" x2="1264.5" y2="1397.4"/><text class="t" transform="translate(1264.5 1446.0) scale(1 1.035)" text-anchor="middle">125</text>
<line class="tk" x1="1470.0" y1="1381.0" x2="1470.0" y2="1397.4"/><text class="t" transform="translate(1470.0 1446.0) scale(1 1.035)" text-anchor="middle">150</text>
<line class="tk" x1="1675.5" y1="1381.0" x2="1675.5" y2="1397.4"/><text class="t" transform="translate(1675.5 1446.0) scale(1 1.035)" text-anchor="middle">175</text>
<line class="tk" x1="1880.9" y1="1381.0" x2="1880.9" y2="1397.4"/><text class="t" transform="translate(1880.9 1446.0) scale(1 1.035)" text-anchor="middle">200</text>
<line class="tk" x1="140.8" y1="1168.8" x2="157.2" y2="1168.8"/><text class="t" transform="translate(125.1 1184.8) scale(1 1.035)" text-anchor="end">2</text>
<line class="tk" x1="140.8" y1="1268.6" x2="157.2" y2="1268.6"/><text class="t" transform="translate(125.1 1284.6) scale(1 1.035)" text-anchor="end">0</text>
<line class="tk" x1="140.8" y1="1368.4" x2="157.2" y2="1368.4"/><text class="t" transform="translate(124.8 1384.4) scale(1 1.035)" text-anchor="end"><tspan class="mn" dx="0" dy="6.8">−</tspan><tspan dx="-0.6" dy="-6.8">2</tspan></text>
<rect class="sp" x="157.2" y="1084.0" width="1762.6" height="297.0"/>
<text class="y" transform="translate(57.1 1232.5) rotate(-90) scale(1 1.03)" text-anchor="middle">Heading angle error(rad)</text>
</g>
<text class="xl" x="1038.5" y="1516.9" text-anchor="middle">Time/s</text>
<g id="legend">
<rect x="180.8" y="26.7" width="1793.4" height="80.3" rx="8.8" ry="8.8" fill="#fff" stroke="#333" stroke-width="4.4"/>
<path class="b" d="M199.4 61.7L292.6 61.7"/><text class="y" transform="translate(330.5 78.6) scale(1 1.03)">The proposed controller</text>
<path class="g" d="M871.2 61.7L965.0 61.7"/><text class="y" transform="translate(1002.4 78.6) scale(1 1.03)">RBFNN controller</text>
<path class="r" d="M1445.1 61.7L1539.1 61.7"/><text class="y" transform="translate(1576.0 78.6) scale(1 1.03)">HI-FTSM controller</text>
</g>
</svg>
</body></html>
